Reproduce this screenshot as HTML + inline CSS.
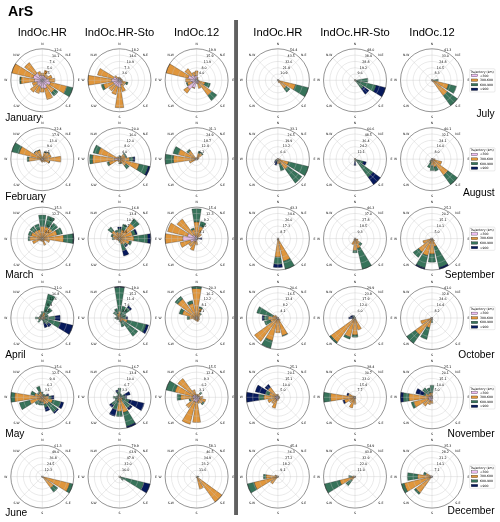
<!DOCTYPE html>
<html><head><meta charset="utf-8"><title>ArS</title>
<style>
html,body{margin:0;padding:0;background:#fff;}
body{width:500px;height:522px;overflow:hidden;}
svg{display:block;}
text{font-family:"Liberation Sans","DejaVu Sans",sans-serif;fill:#000;}
.t text{font-family:"DejaVu Sans","Liberation Sans",sans-serif;font-size:3.3px;}
.d text{font-family:"DejaVu Sans","Liberation Sans",sans-serif;font-size:3.1px;text-anchor:middle;}
.l{font-family:"DejaVu Sans","Liberation Sans",sans-serif;font-size:3.1px;}
.h1{font-size:14.2px;font-weight:bold;}
.h2{font-size:11.2px;}
.m{font-size:10.2px;}
</style></head><body>
<svg width="500" height="522" viewBox="0 0 500 522">
<rect width="500" height="522" fill="#fff"/>
<rect x="234.1" y="20" width="3.9" height="495" fill="#606060"/>
<g><g stroke="#111" stroke-width="0.3" stroke-linejoin="miter"><path fill="#f0c0f4" d="M42.30 80.30L41.56 75.63A4.72 4.72 0 0 1 43.04 75.63Z"/><path fill="#e0963c" d="M41.17 73.14A7.25 7.25 0 0 1 43.43 73.14L43.04 75.63A4.72 4.72 0 0 0 41.56 75.63Z"/><path fill="#f0c0f4" d="M42.30 80.30L43.40 75.71A4.72 4.72 0 0 1 44.77 76.27Z"/><path fill="#e0963c" d="M44.73 70.19A10.40 10.40 0 0 1 47.73 71.44L44.77 76.27A4.72 4.72 0 0 0 43.40 75.71Z"/><path fill="#f0c0f4" d="M42.30 80.30L44.71 76.99A4.09 4.09 0 0 1 45.61 77.89Z"/><path fill="#e0963c" d="M46.37 74.69A6.93 6.93 0 0 1 47.91 76.23L45.61 77.89A4.09 4.09 0 0 0 44.71 76.99Z"/><path fill="#f0c0f4" d="M42.30 80.30L46.33 77.83A4.72 4.72 0 0 1 46.89 79.20Z"/><path fill="#e0963c" d="M50.89 75.03A10.08 10.08 0 0 1 52.10 77.95L46.89 79.20A4.72 4.72 0 0 0 46.33 77.83Z"/><path fill="#f0c0f4" d="M42.30 80.30L48.83 79.27A6.61 6.61 0 0 1 48.83 81.33Z"/><path fill="#e0963c" d="M54.74 78.33A12.60 12.60 0 0 1 54.74 82.27L48.83 81.33A6.61 6.61 0 0 0 48.83 79.27Z"/><path fill="#f0c0f4" d="M42.30 80.30L50.57 82.29A8.51 8.51 0 0 1 49.55 84.74Z"/><path fill="#e0963c" d="M66.80 86.18A25.20 25.20 0 0 1 63.79 93.47L49.55 84.74A8.51 8.51 0 0 0 50.57 82.29Z"/><path fill="#37735a" d="M72.93 87.65A31.50 31.50 0 0 1 69.16 96.76L63.79 93.47A25.20 25.20 0 0 0 66.80 86.18Z"/><path fill="#f0c0f4" d="M42.30 80.30L47.40 84.00A6.30 6.30 0 0 1 46.00 85.40Z"/><path fill="#e0963c" d="M54.79 89.37A15.44 15.44 0 0 1 51.37 92.79L46.00 85.40A6.30 6.30 0 0 0 47.40 84.00Z"/><path fill="#37735a" d="M58.10 91.78A19.53 19.53 0 0 1 53.78 96.10L51.37 92.79A15.44 15.44 0 0 0 54.79 89.37Z"/><path fill="#f0c0f4" d="M42.30 80.30L46.74 87.55A8.51 8.51 0 0 1 44.29 88.57Z"/><path fill="#e0963c" d="M52.67 97.22A19.84 19.84 0 0 1 46.93 99.60L44.29 88.57A8.51 8.51 0 0 0 46.74 87.55Z"/><path fill="#f0c0f4" d="M42.30 80.30L43.53 88.08A7.88 7.88 0 0 1 41.07 88.08Z"/><path fill="#e0963c" d="M44.17 92.12A11.97 11.97 0 0 1 40.43 92.12L41.07 88.08A7.88 7.88 0 0 0 43.53 88.08Z"/><path fill="#f0c0f4" d="M42.30 80.30L40.83 86.43A6.30 6.30 0 0 1 39.01 85.67Z"/><path fill="#e0963c" d="M39.14 93.47A13.54 13.54 0 0 1 35.22 91.85L39.01 85.67A6.30 6.30 0 0 0 40.83 86.43Z"/><path fill="#f0c0f4" d="M42.30 80.30L38.60 85.40A6.30 6.30 0 0 1 37.20 84.00Z"/><path fill="#e0963c" d="M33.60 92.28A14.80 14.80 0 0 1 30.32 89.00L37.20 84.00A6.30 6.30 0 0 0 38.60 85.40Z"/><path fill="#f0c0f4" d="M42.30 80.30L37.47 83.26A5.67 5.67 0 0 1 36.79 81.62Z"/><path fill="#e0963c" d="M33.44 85.73A10.40 10.40 0 0 1 32.19 82.73L36.79 81.62A5.67 5.67 0 0 0 37.47 83.26Z"/><path fill="#f0c0f4" d="M42.30 80.30L34.52 81.53A7.88 7.88 0 0 1 34.52 79.07Z"/><path fill="#e0963c" d="M21.14 83.65A21.42 21.42 0 0 1 21.14 76.95L34.52 79.07A7.88 7.88 0 0 0 34.52 81.53Z"/><path fill="#37735a" d="M19.90 83.85A22.68 22.68 0 0 1 19.90 76.75L21.14 76.95A21.42 21.42 0 0 0 21.14 83.65Z"/><path fill="#f0c0f4" d="M42.30 80.30L33.11 78.09A9.45 9.45 0 0 1 34.24 75.36Z"/><path fill="#e0963c" d="M11.67 72.95A31.50 31.50 0 0 1 15.44 63.84L34.24 75.36A9.45 9.45 0 0 0 33.11 78.09Z"/><path fill="#f0c0f4" d="M42.30 80.30L35.16 75.12A8.82 8.82 0 0 1 37.12 73.16Z"/><path fill="#e0963c" d="M24.46 67.34A22.05 22.05 0 0 1 29.34 62.46L37.12 73.16A8.82 8.82 0 0 0 35.16 75.12Z"/><path fill="#f0c0f4" d="M42.30 80.30L39.50 75.73A5.36 5.36 0 0 1 41.05 75.09Z"/><path fill="#e0963c" d="M37.53 72.51A9.13 9.13 0 0 1 40.17 71.42L41.05 75.09A5.36 5.36 0 0 0 39.50 75.73Z"/></g><g fill="none" stroke="#c2c2c2" stroke-width="0.35"><circle cx="42.3" cy="80.3" r="6.30"/><circle cx="42.3" cy="80.3" r="12.60"/><circle cx="42.3" cy="80.3" r="18.90"/><circle cx="42.3" cy="80.3" r="25.20"/><path d="M42.3 80.3L42.30 48.80"/><path d="M42.3 80.3L64.57 58.03"/><path d="M42.3 80.3L73.80 80.30"/><path d="M42.3 80.3L64.57 102.57"/><path d="M42.3 80.3L42.30 111.80"/><path d="M42.3 80.3L20.03 102.57"/><path d="M42.3 80.3L10.80 80.30"/><path d="M42.3 80.3L20.03 58.03"/></g><circle cx="42.3" cy="80.3" r="31.5" fill="none" stroke="#2a2a2a" stroke-width="0.5"/><g class="t"><text x="54.35" y="51.10">12.6</text><text x="51.94" y="56.92">10.1</text><text x="49.53" y="62.74">7.6</text><text x="47.12" y="68.56">5.0</text><text x="44.71" y="74.38">2.5</text></g><g class="d"><text x="42.30" y="44.91">N</text><text x="68.14" y="55.61">N-E</text><text x="78.84" y="81.45">E</text><text x="68.14" y="107.29">S-E</text><text x="42.30" y="117.99">S</text><text x="16.46" y="107.29">S-W</text><text x="5.76" y="81.45">W</text><text x="16.46" y="55.61">N-W</text></g></g>
<g><g stroke="#111" stroke-width="0.3" stroke-linejoin="miter"><path fill="#f0c0f4" d="M119.50 80.30L119.25 78.74A1.58 1.58 0 0 1 119.75 78.74Z"/><path fill="#e0963c" d="M119.01 77.19A3.15 3.15 0 0 1 119.99 77.19L119.75 78.74A1.58 1.58 0 0 0 119.25 78.74Z"/><path fill="#f0c0f4" d="M119.50 80.30L119.79 79.07A1.26 1.26 0 0 1 120.16 79.23Z"/><path fill="#e0963c" d="M120.09 77.85A2.52 2.52 0 0 1 120.82 78.15L120.16 79.23A1.26 1.26 0 0 0 119.79 79.07Z"/><path fill="#f0c0f4" d="M119.50 80.30L120.06 79.54A0.94 0.94 0 0 1 120.26 79.74Z"/><path fill="#e0963c" d="M120.80 78.52A2.21 2.21 0 0 1 121.28 79.00L120.26 79.74A0.94 0.94 0 0 0 120.06 79.54Z"/><path fill="#f0c0f4" d="M119.50 80.30L120.31 79.81A0.94 0.94 0 0 1 120.42 80.08Z"/><path fill="#e0963c" d="M121.65 78.98A2.52 2.52 0 0 1 121.95 79.71L120.42 80.08A0.94 0.94 0 0 0 120.31 79.81Z"/><path fill="#f0c0f4" d="M119.50 80.30L121.06 80.05A1.58 1.58 0 0 1 121.06 80.55Z"/><path fill="#e0963c" d="M122.61 79.81A3.15 3.15 0 0 1 122.61 80.79L121.06 80.55A1.58 1.58 0 0 0 121.06 80.05Z"/><path fill="#f0c0f4" d="M119.50 80.30L121.95 80.89A2.52 2.52 0 0 1 121.65 81.62Z"/><path fill="#e0963c" d="M126.24 81.92A6.93 6.93 0 0 1 125.41 83.92L121.65 81.62A2.52 2.52 0 0 0 121.95 80.89Z"/><path fill="#37735a" d="M128.08 82.36A8.82 8.82 0 0 1 127.02 84.91L125.41 83.92A6.93 6.93 0 0 0 126.24 81.92Z"/><path fill="#f0c0f4" d="M119.50 80.30L122.05 82.15A3.15 3.15 0 0 1 121.35 82.85Z"/><path fill="#e0963c" d="M124.85 84.19A6.61 6.61 0 0 1 123.39 85.65L121.35 82.85A3.15 3.15 0 0 0 122.05 82.15Z"/><path fill="#f0c0f4" d="M119.50 80.30L121.97 84.33A4.72 4.72 0 0 1 120.60 84.89Z"/><path fill="#e0963c" d="M125.59 90.24A11.65 11.65 0 0 1 122.22 91.63L120.60 84.89A4.72 4.72 0 0 0 121.97 84.33Z"/><path fill="#f0c0f4" d="M119.50 80.30L120.58 87.14A6.93 6.93 0 0 1 118.42 87.14Z"/><path fill="#e0963c" d="M123.81 107.52A27.56 27.56 0 0 1 115.19 107.52L118.42 87.14A6.93 6.93 0 0 0 120.58 87.14Z"/><path fill="#f0c0f4" d="M119.50 80.30L118.03 86.43A6.30 6.30 0 0 1 116.21 85.67Z"/><path fill="#e0963c" d="M116.04 94.70A14.80 14.80 0 0 1 111.76 92.92L116.21 85.67A6.30 6.30 0 0 0 118.03 86.43Z"/><path fill="#f0c0f4" d="M119.50 80.30L115.80 85.40A6.30 6.30 0 0 1 114.40 84.00Z"/><path fill="#e0963c" d="M111.72 91.00A13.23 13.23 0 0 1 108.80 88.08L114.40 84.00A6.30 6.30 0 0 0 115.80 85.40Z"/><path fill="#f0c0f4" d="M119.50 80.30L114.13 83.59A6.30 6.30 0 0 1 113.37 81.77Z"/><path fill="#e0963c" d="M105.27 89.02A16.70 16.70 0 0 1 103.27 84.20L113.37 81.77A6.30 6.30 0 0 0 114.13 83.59Z"/><path fill="#37735a" d="M103.39 90.18A18.90 18.90 0 0 1 101.12 84.71L103.27 84.20A16.70 16.70 0 0 0 105.27 89.02Z"/><path fill="#f0c0f4" d="M119.50 80.30L111.72 81.53A7.88 7.88 0 0 1 111.72 79.07Z"/><path fill="#e0963c" d="M88.39 85.23A31.50 31.50 0 0 1 88.39 75.37L111.72 79.07A7.88 7.88 0 0 0 111.72 81.53Z"/><path fill="#f0c0f4" d="M119.50 80.30L113.37 78.83A6.30 6.30 0 0 1 114.13 77.01Z"/><path fill="#e0963c" d="M97.45 75.01A22.68 22.68 0 0 1 100.16 68.45L114.13 77.01A6.30 6.30 0 0 0 113.37 78.83Z"/><path fill="#f0c0f4" d="M119.50 80.30L116.95 78.45A3.15 3.15 0 0 1 117.65 77.75Z"/><path fill="#e0963c" d="M114.66 76.78A5.99 5.99 0 0 1 115.98 75.46L117.65 77.75A3.15 3.15 0 0 0 116.95 78.45Z"/><path fill="#f0c0f4" d="M119.50 80.30L118.68 78.96A1.58 1.58 0 0 1 119.13 78.77Z"/><path fill="#e0963c" d="M117.85 77.61A3.15 3.15 0 0 1 118.76 77.24L119.13 78.77A1.58 1.58 0 0 0 118.68 78.96Z"/></g><g fill="none" stroke="#c2c2c2" stroke-width="0.35"><circle cx="119.5" cy="80.3" r="6.30"/><circle cx="119.5" cy="80.3" r="12.60"/><circle cx="119.5" cy="80.3" r="18.90"/><circle cx="119.5" cy="80.3" r="25.20"/><path d="M119.5 80.3L119.50 48.80"/><path d="M119.5 80.3L141.77 58.03"/><path d="M119.5 80.3L151.00 80.30"/><path d="M119.5 80.3L141.77 102.57"/><path d="M119.5 80.3L119.50 111.80"/><path d="M119.5 80.3L97.23 102.57"/><path d="M119.5 80.3L88.00 80.30"/><path d="M119.5 80.3L97.23 58.03"/></g><circle cx="119.5" cy="80.3" r="31.5" fill="none" stroke="#2a2a2a" stroke-width="0.5"/><g class="t"><text x="131.55" y="51.10">18.2</text><text x="129.14" y="56.92">14.6</text><text x="126.73" y="62.74">10.9</text><text x="124.32" y="68.56">7.3</text><text x="121.91" y="74.38">3.6</text></g><g class="d"><text x="119.50" y="44.91">N</text><text x="145.34" y="55.61">N-E</text><text x="156.04" y="81.45">E</text><text x="145.34" y="107.29">S-E</text><text x="119.50" y="117.99">S</text><text x="93.66" y="107.29">S-W</text><text x="82.96" y="81.45">W</text><text x="93.66" y="55.61">N-W</text></g></g>
<g><g stroke="#111" stroke-width="0.3" stroke-linejoin="miter"><path fill="#f0c0f4" d="M196.60 80.30L195.86 75.63A4.72 4.72 0 0 1 197.34 75.63Z"/><path fill="#e0963c" d="M195.12 70.97A9.45 9.45 0 0 1 198.08 70.97L197.34 75.63A4.72 4.72 0 0 0 195.86 75.63Z"/><path fill="#f0c0f4" d="M196.60 80.30L196.97 78.77A1.58 1.58 0 0 1 197.42 78.96Z"/><path fill="#e0963c" d="M197.34 77.24A3.15 3.15 0 0 1 198.25 77.61L197.42 78.96A1.58 1.58 0 0 0 196.97 78.77Z"/><path fill="#f0c0f4" d="M196.60 80.30L196.97 79.79A0.63 0.63 0 0 1 197.11 79.93Z"/><path fill="#e0963c" d="M197.53 79.03A1.58 1.58 0 0 1 197.87 79.37L197.11 79.93A0.63 0.63 0 0 0 196.97 79.79Z"/><path fill="#f0c0f4" d="M196.60 80.30L197.14 79.97A0.63 0.63 0 0 1 197.21 80.15Z"/><path fill="#e0963c" d="M197.94 79.48A1.58 1.58 0 0 1 198.13 79.93L197.21 80.15A0.63 0.63 0 0 0 197.14 79.97Z"/><path fill="#f0c0f4" d="M196.60 80.30L197.53 80.15A0.94 0.94 0 0 1 197.53 80.45Z"/><path fill="#e0963c" d="M199.09 79.91A2.52 2.52 0 0 1 199.09 80.69L197.53 80.45A0.94 0.94 0 0 0 197.53 80.15Z"/><path fill="#f0c0f4" d="M196.60 80.30L198.13 80.67A1.58 1.58 0 0 1 197.94 81.12Z"/><path fill="#e0963c" d="M205.18 82.36A8.82 8.82 0 0 1 204.12 84.91L197.94 81.12A1.58 1.58 0 0 0 198.13 80.67Z"/><path fill="#37735a" d="M210.38 83.61A14.18 14.18 0 0 1 208.69 87.71L204.12 84.91A8.82 8.82 0 0 0 205.18 82.36Z"/><path fill="#f0c0f4" d="M196.60 80.30L198.64 81.78A2.52 2.52 0 0 1 198.08 82.34Z"/><path fill="#e0963c" d="M211.89 91.41A18.90 18.90 0 0 1 207.71 95.59L198.08 82.34A2.52 2.52 0 0 0 198.64 81.78Z"/><path fill="#37735a" d="M216.99 95.11A25.20 25.20 0 0 1 211.41 100.69L207.71 95.59A18.90 18.90 0 0 0 211.89 91.41Z"/><path fill="#f0c0f4" d="M196.60 80.30L198.25 82.99A3.15 3.15 0 0 1 197.34 83.36Z"/><path fill="#e0963c" d="M201.04 87.55A8.51 8.51 0 0 1 198.59 88.57L197.34 83.36A3.15 3.15 0 0 0 198.25 82.99Z"/><path fill="#f0c0f4" d="M196.60 80.30L196.99 82.79A2.52 2.52 0 0 1 196.21 82.79Z"/><path fill="#e0963c" d="M197.09 83.41A3.15 3.15 0 0 1 196.11 83.41L196.21 82.79A2.52 2.52 0 0 0 196.99 82.79Z"/><path fill="#f0c0f4" d="M196.60 80.30L194.76 87.96A7.88 7.88 0 0 1 192.49 87.01Z"/><path fill="#e0963c" d="M194.61 88.57A8.51 8.51 0 0 1 192.16 87.55L192.49 87.01A7.88 7.88 0 0 0 194.76 87.96Z"/><path fill="#f0c0f4" d="M196.60 80.30L189.93 89.47A11.34 11.34 0 0 1 187.43 86.97Z"/><path fill="#e0963c" d="M187.16 93.30A16.07 16.07 0 0 1 183.60 89.74L187.43 86.97A11.34 11.34 0 0 0 189.93 89.47Z"/><path fill="#f0c0f4" d="M196.60 80.30L192.57 82.77A4.72 4.72 0 0 1 192.01 81.40Z"/><path fill="#e0963c" d="M188.27 85.40A9.77 9.77 0 0 1 187.10 82.58L192.01 81.40A4.72 4.72 0 0 0 192.57 82.77Z"/><path fill="#37735a" d="M187.47 85.90A10.71 10.71 0 0 1 186.19 82.80L187.10 82.58A9.77 9.77 0 0 0 188.27 85.40Z"/><path fill="#f0c0f4" d="M196.60 80.30L190.38 81.29A6.30 6.30 0 0 1 190.38 79.31Z"/><path fill="#e0963c" d="M185.71 82.02A11.02 11.02 0 0 1 185.71 78.58L190.38 79.31A6.30 6.30 0 0 0 190.38 81.29Z"/><path fill="#f0c0f4" d="M196.60 80.30L188.02 78.24A8.82 8.82 0 0 1 189.08 75.69Z"/><path fill="#e0963c" d="M165.97 72.95A31.50 31.50 0 0 1 169.74 63.84L189.08 75.69A8.82 8.82 0 0 0 188.02 78.24Z"/><path fill="#f0c0f4" d="M196.60 80.30L191.50 76.60A6.30 6.30 0 0 1 192.90 75.20Z"/><path fill="#e0963c" d="M184.88 71.78A14.49 14.49 0 0 1 188.08 68.58L192.90 75.20A6.30 6.30 0 0 0 191.50 76.60Z"/><path fill="#f0c0f4" d="M196.60 80.30L194.13 76.27A4.72 4.72 0 0 1 195.50 75.71Z"/><path fill="#e0963c" d="M192.16 73.05A8.51 8.51 0 0 1 194.61 72.03L195.50 75.71A4.72 4.72 0 0 0 194.13 76.27Z"/></g><g fill="none" stroke="#c2c2c2" stroke-width="0.35"><circle cx="196.6" cy="80.3" r="6.30"/><circle cx="196.6" cy="80.3" r="12.60"/><circle cx="196.6" cy="80.3" r="18.90"/><circle cx="196.6" cy="80.3" r="25.20"/><path d="M196.6 80.3L196.60 48.80"/><path d="M196.6 80.3L218.87 58.03"/><path d="M196.6 80.3L228.10 80.30"/><path d="M196.6 80.3L218.87 102.57"/><path d="M196.6 80.3L196.60 111.80"/><path d="M196.6 80.3L174.33 102.57"/><path d="M196.6 80.3L165.10 80.30"/><path d="M196.6 80.3L174.33 58.03"/></g><circle cx="196.6" cy="80.3" r="31.5" fill="none" stroke="#2a2a2a" stroke-width="0.5"/><g class="t"><text x="208.65" y="51.10">19.9</text><text x="206.24" y="56.92">15.9</text><text x="203.83" y="62.74">11.9</text><text x="201.42" y="68.56">8.0</text><text x="199.01" y="74.38">4.0</text></g><g class="d"><text x="196.60" y="44.91">N</text><text x="222.44" y="55.61">N-E</text><text x="233.14" y="81.45">E</text><text x="222.44" y="107.29">S-E</text><text x="196.60" y="117.99">S</text><text x="170.76" y="107.29">S-W</text><text x="160.06" y="81.45">W</text><text x="170.76" y="55.61">N-W</text></g></g>
<g><g stroke="#111" stroke-width="0.3" stroke-linejoin="miter"><path fill="#e0963c" d="M277.90 80.30L277.80 79.68A0.63 0.63 0 0 1 278.00 79.68Z"/><path fill="#e0963c" d="M277.90 80.30L278.05 79.69A0.63 0.63 0 0 1 278.23 79.76Z"/><path fill="#e0963c" d="M277.90 80.30L278.27 79.79A0.63 0.63 0 0 1 278.41 79.93Z"/><path fill="#e0963c" d="M277.90 80.30L278.44 79.97A0.63 0.63 0 0 1 278.51 80.15Z"/><path fill="#e0963c" d="M277.90 80.30L279.46 80.05A1.58 1.58 0 0 1 279.46 80.55Z"/><path fill="#e0963c" d="M277.90 80.30L295.67 84.57A18.27 18.27 0 0 1 293.48 89.85Z"/><path fill="#37735a" d="M308.53 87.65A31.50 31.50 0 0 1 304.76 96.76L293.48 89.85A18.27 18.27 0 0 0 295.67 84.57Z"/><path fill="#e0963c" d="M277.90 80.30L286.31 86.41A10.40 10.40 0 0 1 284.01 88.71Z"/><path fill="#37735a" d="M289.88 89.00A14.80 14.80 0 0 1 286.60 92.28L284.01 88.71A10.40 10.40 0 0 0 286.31 86.41Z"/><path fill="#e0963c" d="M277.90 80.30L279.22 82.45A2.52 2.52 0 0 1 278.49 82.75Z"/><path fill="#e0963c" d="M277.90 80.30L278.00 80.92A0.63 0.63 0 0 1 277.80 80.92Z"/><path fill="#e0963c" d="M277.90 80.30L277.75 80.91A0.63 0.63 0 0 1 277.57 80.84Z"/><path fill="#e0963c" d="M277.90 80.30L277.53 80.81A0.63 0.63 0 0 1 277.39 80.67Z"/><path fill="#e0963c" d="M277.90 80.30L277.36 80.63A0.63 0.63 0 0 1 277.29 80.45Z"/><path fill="#e0963c" d="M277.90 80.30L277.28 80.40A0.63 0.63 0 0 1 277.28 80.20Z"/><path fill="#e0963c" d="M277.90 80.30L277.29 80.15A0.63 0.63 0 0 1 277.36 79.97Z"/><path fill="#e0963c" d="M277.90 80.30L277.39 79.93A0.63 0.63 0 0 1 277.53 79.79Z"/><path fill="#e0963c" d="M277.90 80.30L277.57 79.76A0.63 0.63 0 0 1 277.75 79.69Z"/></g><g fill="none" stroke="#c2c2c2" stroke-width="0.35"><circle cx="277.9" cy="80.3" r="6.30"/><circle cx="277.9" cy="80.3" r="12.60"/><circle cx="277.9" cy="80.3" r="18.90"/><circle cx="277.9" cy="80.3" r="25.20"/><path d="M277.9 80.3L277.90 48.80"/><path d="M277.9 80.3L300.17 58.03"/><path d="M277.9 80.3L309.40 80.30"/><path d="M277.9 80.3L300.17 102.57"/><path d="M277.9 80.3L277.90 111.80"/><path d="M277.9 80.3L255.63 102.57"/><path d="M277.9 80.3L246.40 80.30"/><path d="M277.9 80.3L255.63 58.03"/></g><circle cx="277.9" cy="80.3" r="31.5" fill="none" stroke="#2a2a2a" stroke-width="0.5"/><g class="t"><text x="289.95" y="51.10">54.4</text><text x="287.54" y="56.92">43.5</text><text x="285.13" y="62.74">32.6</text><text x="282.72" y="68.56">21.8</text><text x="280.31" y="74.38">10.9</text></g><g class="d"><text x="277.90" y="44.91">N</text><text x="303.74" y="55.61">N-E</text><text x="314.44" y="81.45">E</text><text x="303.74" y="107.29">S-E</text><text x="277.90" y="117.99">S</text><text x="252.06" y="107.29">S-W</text><text x="241.36" y="81.45">W</text><text x="252.06" y="55.61">N-W</text></g></g>
<g><g stroke="#111" stroke-width="0.3" stroke-linejoin="miter"><path fill="#e0963c" d="M355.00 80.30L354.90 79.68A0.63 0.63 0 0 1 355.10 79.68Z"/><path fill="#e0963c" d="M355.00 80.30L355.15 79.69A0.63 0.63 0 0 1 355.33 79.76Z"/><path fill="#e0963c" d="M355.00 80.30L355.37 79.79A0.63 0.63 0 0 1 355.51 79.93Z"/><path fill="#e0963c" d="M355.00 80.30L355.54 79.97A0.63 0.63 0 0 1 355.61 80.15Z"/><path fill="#e0963c" d="M355.00 80.30L355.62 80.20A0.63 0.63 0 0 1 355.62 80.40Z"/><path fill="#37735a" d="M367.76 78.28A12.91 12.91 0 0 1 367.76 82.32L355.62 80.40A0.63 0.63 0 0 0 355.62 80.20Z"/><path fill="#e0963c" d="M355.00 80.30L355.61 80.45A0.63 0.63 0 0 1 355.54 80.63Z"/><path fill="#37735a" d="M376.13 85.37A21.73 21.73 0 0 1 373.53 91.66L355.54 80.63A0.63 0.63 0 0 0 355.61 80.45Z"/><path fill="#06195c" d="M385.63 87.65A31.50 31.50 0 0 1 381.86 96.76L373.53 91.66A21.73 21.73 0 0 0 376.13 85.37Z"/><path fill="#e0963c" d="M355.00 80.30L355.51 80.67A0.63 0.63 0 0 1 355.37 80.81Z"/><path fill="#37735a" d="M363.41 86.41A10.40 10.40 0 0 1 361.11 88.71L355.37 80.81A0.63 0.63 0 0 0 355.51 80.67Z"/><path fill="#06195c" d="M369.02 90.48A17.33 17.33 0 0 1 365.18 94.32L361.11 88.71A10.40 10.40 0 0 0 363.41 86.41Z"/><path fill="#e0963c" d="M355.00 80.30L355.66 81.37A1.26 1.26 0 0 1 355.29 81.53Z"/><path fill="#e0963c" d="M355.00 80.30L355.10 80.92A0.63 0.63 0 0 1 354.90 80.92Z"/><path fill="#e0963c" d="M355.00 80.30L354.85 80.91A0.63 0.63 0 0 1 354.67 80.84Z"/><path fill="#e0963c" d="M355.00 80.30L354.63 80.81A0.63 0.63 0 0 1 354.49 80.67Z"/><path fill="#e0963c" d="M355.00 80.30L354.46 80.63A0.63 0.63 0 0 1 354.39 80.45Z"/><path fill="#e0963c" d="M355.00 80.30L354.38 80.40A0.63 0.63 0 0 1 354.38 80.20Z"/><path fill="#e0963c" d="M355.00 80.30L354.39 80.15A0.63 0.63 0 0 1 354.46 79.97Z"/><path fill="#e0963c" d="M355.00 80.30L354.49 79.93A0.63 0.63 0 0 1 354.63 79.79Z"/><path fill="#e0963c" d="M355.00 80.30L354.67 79.76A0.63 0.63 0 0 1 354.85 79.69Z"/></g><g fill="none" stroke="#c2c2c2" stroke-width="0.35"><circle cx="355.0" cy="80.3" r="6.30"/><circle cx="355.0" cy="80.3" r="12.60"/><circle cx="355.0" cy="80.3" r="18.90"/><circle cx="355.0" cy="80.3" r="25.20"/><path d="M355.0 80.3L355.00 48.80"/><path d="M355.0 80.3L377.27 58.03"/><path d="M355.0 80.3L386.50 80.30"/><path d="M355.0 80.3L377.27 102.57"/><path d="M355.0 80.3L355.00 111.80"/><path d="M355.0 80.3L332.73 102.57"/><path d="M355.0 80.3L323.50 80.30"/><path d="M355.0 80.3L332.73 58.03"/></g><circle cx="355.0" cy="80.3" r="31.5" fill="none" stroke="#2a2a2a" stroke-width="0.5"/><g class="t"><text x="367.05" y="51.10">48.0</text><text x="364.64" y="56.92">38.4</text><text x="362.23" y="62.74">28.8</text><text x="359.82" y="68.56">19.2</text><text x="357.41" y="74.38">9.6</text></g><g class="d"><text x="355.00" y="44.91">N</text><text x="380.84" y="55.61">N-E</text><text x="391.54" y="81.45">E</text><text x="380.84" y="107.29">S-E</text><text x="355.00" y="117.99">S</text><text x="329.16" y="107.29">S-W</text><text x="318.46" y="81.45">W</text><text x="329.16" y="55.61">N-W</text></g></g>
<g><g stroke="#111" stroke-width="0.3" stroke-linejoin="miter"><path fill="#e0963c" d="M432.00 80.30L431.90 79.68A0.63 0.63 0 0 1 432.10 79.68Z"/><path fill="#e0963c" d="M432.00 80.30L432.15 79.69A0.63 0.63 0 0 1 432.33 79.76Z"/><path fill="#e0963c" d="M432.00 80.30L432.37 79.79A0.63 0.63 0 0 1 432.51 79.93Z"/><path fill="#e0963c" d="M432.00 80.30L433.07 79.64A1.26 1.26 0 0 1 433.23 80.01Z"/><path fill="#e0963c" d="M432.00 80.30L433.56 80.05A1.58 1.58 0 0 1 433.56 80.55Z"/><path fill="#37735a" d="M438.22 79.31A6.30 6.30 0 0 1 438.22 81.29L433.56 80.55A1.58 1.58 0 0 0 433.56 80.05Z"/><path fill="#e0963c" d="M432.00 80.30L448.54 84.27A17.01 17.01 0 0 1 446.50 89.19Z"/><path fill="#37735a" d="M456.50 86.18A25.20 25.20 0 0 1 453.49 93.47L446.50 89.19A17.01 17.01 0 0 0 448.54 84.27Z"/><path fill="#e0963c" d="M432.00 80.30L447.29 91.41A18.90 18.90 0 0 1 443.11 95.59Z"/><path fill="#37735a" d="M457.48 98.82A31.50 31.50 0 0 1 450.52 105.78L443.11 95.59A18.90 18.90 0 0 0 447.29 91.41Z"/><path fill="#e0963c" d="M432.00 80.30L432.82 81.64A1.58 1.58 0 0 1 432.37 81.83Z"/><path fill="#e0963c" d="M432.00 80.30L432.10 80.92A0.63 0.63 0 0 1 431.90 80.92Z"/><path fill="#e0963c" d="M432.00 80.30L431.85 80.91A0.63 0.63 0 0 1 431.67 80.84Z"/><path fill="#e0963c" d="M432.00 80.30L431.63 80.81A0.63 0.63 0 0 1 431.49 80.67Z"/><path fill="#e0963c" d="M432.00 80.30L431.46 80.63A0.63 0.63 0 0 1 431.39 80.45Z"/><path fill="#e0963c" d="M432.00 80.30L431.38 80.40A0.63 0.63 0 0 1 431.38 80.20Z"/><path fill="#e0963c" d="M432.00 80.30L431.39 80.15A0.63 0.63 0 0 1 431.46 79.97Z"/><path fill="#e0963c" d="M432.00 80.30L431.49 79.93A0.63 0.63 0 0 1 431.63 79.79Z"/><path fill="#e0963c" d="M432.00 80.30L431.67 79.76A0.63 0.63 0 0 1 431.85 79.69Z"/></g><g fill="none" stroke="#c2c2c2" stroke-width="0.35"><circle cx="432.0" cy="80.3" r="6.30"/><circle cx="432.0" cy="80.3" r="12.60"/><circle cx="432.0" cy="80.3" r="18.90"/><circle cx="432.0" cy="80.3" r="25.20"/><path d="M432.0 80.3L432.00 48.80"/><path d="M432.0 80.3L454.27 58.03"/><path d="M432.0 80.3L463.50 80.30"/><path d="M432.0 80.3L454.27 102.57"/><path d="M432.0 80.3L432.00 111.80"/><path d="M432.0 80.3L409.73 102.57"/><path d="M432.0 80.3L400.50 80.30"/><path d="M432.0 80.3L409.73 58.03"/></g><circle cx="432.0" cy="80.3" r="31.5" fill="none" stroke="#2a2a2a" stroke-width="0.5"/><g class="t"><text x="444.05" y="51.10">41.3</text><text x="441.64" y="56.92">33.0</text><text x="439.23" y="62.74">24.8</text><text x="436.82" y="68.56">16.5</text><text x="434.41" y="74.38">8.3</text></g><g class="d"><text x="432.00" y="44.91">N</text><text x="457.84" y="55.61">N-E</text><text x="468.54" y="81.45">E</text><text x="457.84" y="107.29">S-E</text><text x="432.00" y="117.99">S</text><text x="406.16" y="107.29">S-W</text><text x="395.46" y="81.45">W</text><text x="406.16" y="55.61">N-W</text></g></g>
<g><g stroke="#111" stroke-width="0.3" stroke-linejoin="miter"><path fill="#f0c0f4" d="M42.30 159.20L42.20 158.58A0.63 0.63 0 0 1 42.40 158.58Z"/><path fill="#e0963c" d="M41.91 156.71A2.52 2.52 0 0 1 42.69 156.71L42.40 158.58A0.63 0.63 0 0 0 42.20 158.58Z"/><path fill="#f0c0f4" d="M42.30 159.20L42.45 158.59A0.63 0.63 0 0 1 42.63 158.66Z"/><path fill="#e0963c" d="M43.99 152.16A7.25 7.25 0 0 1 46.09 153.02L42.63 158.66A0.63 0.63 0 0 0 42.45 158.59Z"/><path fill="#37735a" d="M44.14 151.54A7.88 7.88 0 0 1 46.41 152.49L46.09 153.02A7.25 7.25 0 0 0 43.99 152.16Z"/><path fill="#f0c0f4" d="M42.30 159.20L42.67 158.69A0.63 0.63 0 0 1 42.81 158.83Z"/><path fill="#e0963c" d="M47.30 152.32A8.51 8.51 0 0 1 49.18 154.20L42.81 158.83A0.63 0.63 0 0 0 42.67 158.69Z"/><path fill="#37735a" d="M47.67 151.81A9.13 9.13 0 0 1 49.69 153.83L49.18 154.20A8.51 8.51 0 0 0 47.30 152.32Z"/><path fill="#f0c0f4" d="M42.30 159.20L42.84 158.87A0.63 0.63 0 0 1 42.91 159.05Z"/><path fill="#e0963c" d="M50.09 154.43A9.13 9.13 0 0 1 51.18 157.07L42.91 159.05A0.63 0.63 0 0 0 42.84 158.87Z"/><path fill="#f0c0f4" d="M42.30 159.20L43.23 159.05A0.94 0.94 0 0 1 43.23 159.35Z"/><path fill="#e0963c" d="M60.66 156.29A18.58 18.58 0 0 1 60.66 162.11L43.23 159.35A0.94 0.94 0 0 0 43.23 159.05Z"/><path fill="#f0c0f4" d="M42.30 159.20L42.91 159.35A0.63 0.63 0 0 1 42.84 159.53Z"/><path fill="#e0963c" d="M49.65 160.96A7.56 7.56 0 0 1 48.75 163.15L42.84 159.53A0.63 0.63 0 0 0 42.91 159.35Z"/><path fill="#37735a" d="M49.96 161.04A7.88 7.88 0 0 1 49.01 163.31L48.75 163.15A7.56 7.56 0 0 0 49.65 160.96Z"/><path fill="#f0c0f4" d="M42.30 159.20L42.81 159.57A0.63 0.63 0 0 1 42.67 159.71Z"/><path fill="#e0963c" d="M45.36 161.42A3.78 3.78 0 0 1 44.52 162.26L42.67 159.71A0.63 0.63 0 0 0 42.81 159.57Z"/><path fill="#f0c0f4" d="M42.30 159.20L42.63 159.74A0.63 0.63 0 0 1 42.45 159.81Z"/><path fill="#e0963c" d="M43.62 161.35A2.52 2.52 0 0 1 42.89 161.65L42.45 159.81A0.63 0.63 0 0 0 42.63 159.74Z"/><path fill="#f0c0f4" d="M42.30 159.20L42.40 159.82A0.63 0.63 0 0 1 42.20 159.82Z"/><path fill="#e0963c" d="M42.79 162.31A3.15 3.15 0 0 1 41.81 162.31L42.20 159.82A0.63 0.63 0 0 0 42.40 159.82Z"/><path fill="#f0c0f4" d="M42.30 159.20L42.15 159.81A0.63 0.63 0 0 1 41.97 159.74Z"/><path fill="#e0963c" d="M41.71 161.65A2.52 2.52 0 0 1 40.98 161.35L41.97 159.74A0.63 0.63 0 0 0 42.15 159.81Z"/><path fill="#f0c0f4" d="M42.30 159.20L41.93 159.71A0.63 0.63 0 0 1 41.79 159.57Z"/><path fill="#e0963c" d="M41.37 160.47A1.58 1.58 0 0 1 41.03 160.13L41.79 159.57A0.63 0.63 0 0 0 41.93 159.71Z"/><path fill="#f0c0f4" d="M42.30 159.20L41.76 159.53A0.63 0.63 0 0 1 41.69 159.35Z"/><path fill="#e0963c" d="M40.15 160.52A2.52 2.52 0 0 1 39.85 159.79L41.69 159.35A0.63 0.63 0 0 0 41.76 159.53Z"/><path fill="#f0c0f4" d="M42.30 159.20L41.06 159.40A1.26 1.26 0 0 1 41.06 159.00Z"/><path fill="#e0963c" d="M28.92 161.32A13.54 13.54 0 0 1 28.92 157.08L41.06 159.00A1.26 1.26 0 0 0 41.06 159.40Z"/><path fill="#37735a" d="M27.37 161.57A15.12 15.12 0 0 1 27.37 156.83L28.92 157.08A13.54 13.54 0 0 0 28.92 161.32Z"/><path fill="#f0c0f4" d="M42.30 159.20L41.07 158.91A1.26 1.26 0 0 1 41.23 158.54Z"/><path fill="#e0963c" d="M19.02 153.61A23.94 23.94 0 0 1 21.89 146.69L41.23 158.54A1.26 1.26 0 0 0 41.07 158.91Z"/><path fill="#37735a" d="M11.67 151.85A31.50 31.50 0 0 1 15.44 142.74L21.89 146.69A23.94 23.94 0 0 0 19.02 153.61Z"/><path fill="#f0c0f4" d="M42.30 159.20L41.54 158.64A0.94 0.94 0 0 1 41.74 158.44Z"/><path fill="#e0963c" d="M34.15 153.28A10.08 10.08 0 0 1 36.38 151.05L41.74 158.44A0.94 0.94 0 0 0 41.54 158.64Z"/><path fill="#37735a" d="M33.89 153.09A10.40 10.40 0 0 1 36.19 150.79L36.38 151.05A10.08 10.08 0 0 0 34.15 153.28Z"/><path fill="#f0c0f4" d="M42.30 159.20L41.81 158.39A0.94 0.94 0 0 1 42.08 158.28Z"/><path fill="#e0963c" d="M37.36 151.14A9.45 9.45 0 0 1 40.09 150.01L42.08 158.28A0.94 0.94 0 0 0 41.81 158.39Z"/><path fill="#37735a" d="M37.20 150.87A9.77 9.77 0 0 1 40.02 149.70L40.09 150.01A9.45 9.45 0 0 0 37.36 151.14Z"/></g><g fill="none" stroke="#c2c2c2" stroke-width="0.35"><circle cx="42.3" cy="159.2" r="6.30"/><circle cx="42.3" cy="159.2" r="12.60"/><circle cx="42.3" cy="159.2" r="18.90"/><circle cx="42.3" cy="159.2" r="25.20"/><path d="M42.3 159.2L42.30 127.70"/><path d="M42.3 159.2L64.57 136.93"/><path d="M42.3 159.2L73.80 159.20"/><path d="M42.3 159.2L64.57 181.47"/><path d="M42.3 159.2L42.30 190.70"/><path d="M42.3 159.2L20.03 181.47"/><path d="M42.3 159.2L10.80 159.20"/><path d="M42.3 159.2L20.03 136.93"/></g><circle cx="42.3" cy="159.2" r="31.5" fill="none" stroke="#2a2a2a" stroke-width="0.5"/><g class="t"><text x="54.35" y="130.00">22.4</text><text x="51.94" y="135.82">17.9</text><text x="49.53" y="141.64">13.4</text><text x="47.12" y="147.46">9.0</text><text x="44.71" y="153.28">4.5</text></g><g class="d"><text x="42.30" y="123.81">N</text><text x="68.14" y="134.51">N-E</text><text x="78.84" y="160.35">E</text><text x="68.14" y="186.19">S-E</text><text x="42.30" y="196.89">S</text><text x="16.46" y="186.19">S-W</text><text x="5.76" y="160.35">W</text><text x="16.46" y="134.51">N-W</text></g></g>
<g><g stroke="#111" stroke-width="0.3" stroke-linejoin="miter"><path fill="#e0963c" d="M119.50 159.20L119.20 157.33A1.89 1.89 0 0 1 119.80 157.33Z"/><path fill="#37735a" d="M118.91 155.47A3.78 3.78 0 0 1 120.09 155.47L119.80 157.33A1.89 1.89 0 0 0 119.20 157.33Z"/><path fill="#e0963c" d="M119.50 159.20L120.09 156.75A2.52 2.52 0 0 1 120.82 157.05Z"/><path fill="#37735a" d="M120.24 156.14A3.15 3.15 0 0 1 121.15 156.51L120.82 157.05A2.52 2.52 0 0 0 120.09 156.75Z"/><path fill="#e0963c" d="M119.50 159.20L123.20 154.10A6.30 6.30 0 0 1 124.60 155.50Z"/><path fill="#37735a" d="M123.94 153.08A7.56 7.56 0 0 1 125.62 154.76L124.60 155.50A6.30 6.30 0 0 0 123.20 154.10Z"/><path fill="#e0963c" d="M119.50 159.20L124.87 155.91A6.30 6.30 0 0 1 125.63 157.73Z"/><path fill="#37735a" d="M125.95 155.25A7.56 7.56 0 0 1 126.85 157.44L125.63 157.73A6.30 6.30 0 0 0 124.87 155.91Z"/><path fill="#e0963c" d="M119.50 159.20L129.46 157.62A10.08 10.08 0 0 1 129.46 160.78Z"/><path fill="#37735a" d="M133.19 157.03A13.86 13.86 0 0 1 133.19 161.37L129.46 160.78A10.08 10.08 0 0 0 129.46 157.62Z"/><path fill="#06195c" d="M134.74 156.79A15.44 15.44 0 0 1 134.74 161.61L133.19 161.37A13.86 13.86 0 0 0 133.19 157.03Z"/><path fill="#e0963c" d="M119.50 159.20L139.41 163.98A20.48 20.48 0 0 1 136.96 169.90Z"/><path fill="#37735a" d="M148.29 166.11A29.61 29.61 0 0 1 144.75 174.67L136.96 169.90A20.48 20.48 0 0 0 139.41 163.98Z"/><path fill="#06195c" d="M150.13 166.55A31.50 31.50 0 0 1 146.36 175.66L144.75 174.67A29.61 29.61 0 0 0 148.29 166.11Z"/><path fill="#e0963c" d="M119.50 159.20L126.13 164.01A8.19 8.19 0 0 1 124.31 165.83Z"/><path fill="#37735a" d="M129.18 166.24A11.97 11.97 0 0 1 126.54 168.88L124.31 165.83A8.19 8.19 0 0 0 126.13 164.01Z"/><path fill="#e0963c" d="M119.50 159.20L121.48 162.42A3.78 3.78 0 0 1 120.38 162.88Z"/><path fill="#37735a" d="M121.97 163.23A4.72 4.72 0 0 1 120.60 163.79L120.38 162.88A3.78 3.78 0 0 0 121.48 162.42Z"/><path fill="#e0963c" d="M119.50 159.20L120.09 162.93A3.78 3.78 0 0 1 118.91 162.93Z"/><path fill="#37735a" d="M120.24 163.87A4.72 4.72 0 0 1 118.76 163.87L118.91 162.93A3.78 3.78 0 0 0 120.09 162.93Z"/><path fill="#e0963c" d="M119.50 159.20L118.91 161.65A2.52 2.52 0 0 1 118.18 161.35Z"/><path fill="#e0963c" d="M119.50 159.20L118.02 161.24A2.52 2.52 0 0 1 117.46 160.68Z"/><path fill="#f0c0f4" d="M119.50 159.20L118.16 160.02A1.58 1.58 0 0 1 117.97 159.57Z"/><path fill="#e0963c" d="M110.10 164.96A11.02 11.02 0 0 1 108.78 161.77L117.97 159.57A1.58 1.58 0 0 0 118.16 160.02Z"/><path fill="#37735a" d="M108.49 165.95A12.91 12.91 0 0 1 106.94 162.21L108.78 161.77A11.02 11.02 0 0 0 110.10 164.96Z"/><path fill="#f0c0f4" d="M119.50 159.20L114.83 159.94A4.72 4.72 0 0 1 114.83 158.46Z"/><path fill="#e0963c" d="M92.74 163.44A27.09 27.09 0 0 1 92.74 154.96L114.83 158.46A4.72 4.72 0 0 0 114.83 159.94Z"/><path fill="#37735a" d="M89.94 163.88A29.92 29.92 0 0 1 89.94 154.52L92.74 154.96A27.09 27.09 0 0 0 92.74 163.44Z"/><path fill="#f0c0f4" d="M119.50 159.20L117.05 158.61A2.52 2.52 0 0 1 117.35 157.88Z"/><path fill="#e0963c" d="M98.06 154.05A22.05 22.05 0 0 1 100.70 147.68L117.35 157.88A2.52 2.52 0 0 0 117.05 158.61Z"/><path fill="#37735a" d="M93.16 152.88A27.09 27.09 0 0 1 96.40 145.05L100.70 147.68A22.05 22.05 0 0 0 98.06 154.05Z"/><path fill="#f0c0f4" d="M119.50 159.20L118.74 158.64A0.94 0.94 0 0 1 118.94 158.44Z"/><path fill="#e0963c" d="M116.95 157.35A3.15 3.15 0 0 1 117.65 156.65L118.94 158.44A0.94 0.94 0 0 0 118.74 158.64Z"/><path fill="#e0963c" d="M119.50 159.20L118.18 157.05A2.52 2.52 0 0 1 118.91 156.75Z"/></g><g fill="none" stroke="#c2c2c2" stroke-width="0.35"><circle cx="119.5" cy="159.2" r="6.30"/><circle cx="119.5" cy="159.2" r="12.60"/><circle cx="119.5" cy="159.2" r="18.90"/><circle cx="119.5" cy="159.2" r="25.20"/><path d="M119.5 159.2L119.50 127.70"/><path d="M119.5 159.2L141.77 136.93"/><path d="M119.5 159.2L151.00 159.20"/><path d="M119.5 159.2L141.77 181.47"/><path d="M119.5 159.2L119.50 190.70"/><path d="M119.5 159.2L97.23 181.47"/><path d="M119.5 159.2L88.00 159.20"/><path d="M119.5 159.2L97.23 136.93"/></g><circle cx="119.5" cy="159.2" r="31.5" fill="none" stroke="#2a2a2a" stroke-width="0.5"/><g class="t"><text x="131.55" y="130.00">20.0</text><text x="129.14" y="135.82">16.0</text><text x="126.73" y="141.64">12.0</text><text x="124.32" y="147.46">8.0</text><text x="121.91" y="153.28">4.0</text></g><g class="d"><text x="119.50" y="123.81">N</text><text x="145.34" y="134.51">N-E</text><text x="156.04" y="160.35">E</text><text x="145.34" y="186.19">S-E</text><text x="119.50" y="196.89">S</text><text x="93.66" y="186.19">S-W</text><text x="82.96" y="160.35">W</text><text x="93.66" y="134.51">N-W</text></g></g>
<g><g stroke="#111" stroke-width="0.3" stroke-linejoin="miter"><path fill="#e0963c" d="M196.60 159.20L196.35 157.64A1.58 1.58 0 0 1 196.85 157.64Z"/><path fill="#e0963c" d="M196.60 159.20L198.07 153.07A6.30 6.30 0 0 1 199.89 153.83Z"/><path fill="#37735a" d="M198.51 151.24A8.19 8.19 0 0 1 200.88 152.22L199.89 153.83A6.30 6.30 0 0 0 198.07 153.07Z"/><path fill="#e0963c" d="M196.60 159.20L200.86 153.34A7.25 7.25 0 0 1 202.46 154.94Z"/><path fill="#37735a" d="M201.41 152.57A8.19 8.19 0 0 1 203.23 154.39L202.46 154.94A7.25 7.25 0 0 0 200.86 153.34Z"/><path fill="#e0963c" d="M196.60 159.20L198.75 157.88A2.52 2.52 0 0 1 199.05 158.61Z"/><path fill="#e0963c" d="M196.60 159.20L198.16 158.95A1.58 1.58 0 0 1 198.16 159.45Z"/><path fill="#e0963c" d="M196.60 159.20L197.52 159.42A0.94 0.94 0 0 1 197.41 159.69Z"/><path fill="#e0963c" d="M196.60 159.20L197.36 159.76A0.94 0.94 0 0 1 197.16 159.96Z"/><path fill="#e0963c" d="M196.60 159.20L197.09 160.01A0.94 0.94 0 0 1 196.82 160.12Z"/><path fill="#e0963c" d="M196.60 159.20L196.75 160.13A0.94 0.94 0 0 1 196.45 160.13Z"/><path fill="#e0963c" d="M196.60 159.20L196.38 160.12A0.94 0.94 0 0 1 196.11 160.01Z"/><path fill="#e0963c" d="M196.60 159.20L195.86 160.22A1.26 1.26 0 0 1 195.58 159.94Z"/><path fill="#f0c0f4" d="M196.60 159.20L195.79 159.69A0.94 0.94 0 0 1 195.68 159.42Z"/><path fill="#e0963c" d="M190.15 163.15A7.56 7.56 0 0 1 189.25 160.96L195.68 159.42A0.94 0.94 0 0 0 195.79 159.69Z"/><path fill="#f0c0f4" d="M196.60 159.20L194.73 159.50A1.89 1.89 0 0 1 194.73 158.90Z"/><path fill="#e0963c" d="M173.58 162.85A23.31 23.31 0 0 1 173.58 155.55L194.73 158.90A1.89 1.89 0 0 0 194.73 159.50Z"/><path fill="#37735a" d="M165.49 164.13A31.50 31.50 0 0 1 165.49 154.27L173.58 155.55A23.31 23.31 0 0 0 173.58 162.85Z"/><path fill="#f0c0f4" d="M196.60 159.20L195.07 158.83A1.58 1.58 0 0 1 195.26 158.38Z"/><path fill="#e0963c" d="M178.22 154.79A18.90 18.90 0 0 1 180.49 149.32L195.26 158.38A1.58 1.58 0 0 0 195.07 158.83Z"/><path fill="#37735a" d="M173.02 153.54A24.25 24.25 0 0 1 175.92 146.53L180.49 149.32A18.90 18.90 0 0 0 178.22 154.79Z"/><path fill="#f0c0f4" d="M196.60 159.20L195.84 158.64A0.94 0.94 0 0 1 196.04 158.44Z"/><path fill="#e0963c" d="M188.19 153.09A10.40 10.40 0 0 1 190.49 150.79L196.04 158.44A0.94 0.94 0 0 0 195.84 158.64Z"/><path fill="#37735a" d="M186.66 151.98A12.29 12.29 0 0 1 189.38 149.26L190.49 150.79A10.40 10.40 0 0 0 188.19 153.09Z"/><path fill="#e0963c" d="M196.60 159.20L195.78 157.86A1.58 1.58 0 0 1 196.23 157.67Z"/></g><g fill="none" stroke="#c2c2c2" stroke-width="0.35"><circle cx="196.6" cy="159.2" r="6.30"/><circle cx="196.6" cy="159.2" r="12.60"/><circle cx="196.6" cy="159.2" r="18.90"/><circle cx="196.6" cy="159.2" r="25.20"/><path d="M196.6 159.2L196.60 127.70"/><path d="M196.6 159.2L218.87 136.93"/><path d="M196.6 159.2L228.10 159.20"/><path d="M196.6 159.2L218.87 181.47"/><path d="M196.6 159.2L196.60 190.70"/><path d="M196.6 159.2L174.33 181.47"/><path d="M196.6 159.2L165.10 159.20"/><path d="M196.6 159.2L174.33 136.93"/></g><circle cx="196.6" cy="159.2" r="31.5" fill="none" stroke="#2a2a2a" stroke-width="0.5"/><g class="t"><text x="208.65" y="130.00">31.1</text><text x="206.24" y="135.82">24.9</text><text x="203.83" y="141.64">18.7</text><text x="201.42" y="147.46">12.4</text><text x="199.01" y="153.28">6.2</text></g><g class="d"><text x="196.60" y="123.81">N</text><text x="222.44" y="134.51">N-E</text><text x="233.14" y="160.35">E</text><text x="222.44" y="186.19">S-E</text><text x="196.60" y="196.89">S</text><text x="170.76" y="186.19">S-W</text><text x="160.06" y="160.35">W</text><text x="170.76" y="134.51">N-W</text></g></g>
<g><g stroke="#111" stroke-width="0.3" stroke-linejoin="miter"><path fill="#e0963c" d="M277.90 159.20L277.80 158.58A0.63 0.63 0 0 1 278.00 158.58Z"/><path fill="#e0963c" d="M277.90 159.20L278.05 158.59A0.63 0.63 0 0 1 278.23 158.66Z"/><path fill="#e0963c" d="M277.90 159.20L278.27 158.69A0.63 0.63 0 0 1 278.41 158.83Z"/><path fill="#e0963c" d="M277.90 159.20L278.44 158.87A0.63 0.63 0 0 1 278.51 159.05Z"/><path fill="#e0963c" d="M277.90 159.20L280.39 158.81A2.52 2.52 0 0 1 280.39 159.59Z"/><path fill="#e0963c" d="M277.90 159.20L288.62 161.77A11.02 11.02 0 0 1 287.30 164.96Z"/><path fill="#37735a" d="M308.53 166.55A31.50 31.50 0 0 1 304.76 175.66L287.30 164.96A11.02 11.02 0 0 0 288.62 161.77Z"/><path fill="#e0963c" d="M277.90 159.20L287.84 166.42A12.29 12.29 0 0 1 285.12 169.14Z"/><path fill="#37735a" d="M301.85 176.60A29.61 29.61 0 0 1 295.30 183.15L285.12 169.14A12.29 12.29 0 0 0 287.84 166.42Z"/><path fill="#e0963c" d="M277.90 159.20L280.37 163.23A4.72 4.72 0 0 1 279.00 163.79Z"/><path fill="#37735a" d="M284.15 169.41A11.97 11.97 0 0 1 280.69 170.84L279.00 163.79A4.72 4.72 0 0 0 280.37 163.23Z"/><path fill="#e0963c" d="M277.90 159.20L278.64 163.87A4.72 4.72 0 0 1 277.16 163.87Z"/><path fill="#e0963c" d="M277.90 159.20L277.68 160.12A0.94 0.94 0 0 1 277.41 160.01Z"/><path fill="#37735a" d="M277.16 162.26A3.15 3.15 0 0 1 276.25 161.89L277.41 160.01A0.94 0.94 0 0 0 277.68 160.12Z"/><path fill="#06195c" d="M276.43 165.33A6.30 6.30 0 0 1 274.61 164.57L276.25 161.89A3.15 3.15 0 0 0 277.16 162.26Z"/><path fill="#e0963c" d="M277.90 159.20L277.53 159.71A0.63 0.63 0 0 1 277.39 159.57Z"/><path fill="#37735a" d="M276.97 160.47A1.58 1.58 0 0 1 276.63 160.13L277.39 159.57A0.63 0.63 0 0 0 277.53 159.71Z"/><path fill="#06195c" d="M275.12 163.02A4.72 4.72 0 0 1 274.08 161.98L276.63 160.13A1.58 1.58 0 0 0 276.97 160.47Z"/><path fill="#e0963c" d="M277.90 159.20L277.09 159.69A0.94 0.94 0 0 1 276.98 159.42Z"/><path fill="#37735a" d="M275.21 160.85A3.15 3.15 0 0 1 274.84 159.94L276.98 159.42A0.94 0.94 0 0 0 277.09 159.69Z"/><path fill="#e0963c" d="M277.90 159.20L276.66 159.40A1.26 1.26 0 0 1 276.66 159.00Z"/><path fill="#e0963c" d="M277.90 159.20L277.29 159.05A0.63 0.63 0 0 1 277.36 158.87Z"/><path fill="#e0963c" d="M277.90 159.20L277.39 158.83A0.63 0.63 0 0 1 277.53 158.69Z"/><path fill="#e0963c" d="M277.90 159.20L277.57 158.66A0.63 0.63 0 0 1 277.75 158.59Z"/></g><g fill="none" stroke="#c2c2c2" stroke-width="0.35"><circle cx="277.9" cy="159.2" r="6.30"/><circle cx="277.9" cy="159.2" r="12.60"/><circle cx="277.9" cy="159.2" r="18.90"/><circle cx="277.9" cy="159.2" r="25.20"/><path d="M277.9 159.2L277.90 127.70"/><path d="M277.9 159.2L300.17 136.93"/><path d="M277.9 159.2L309.40 159.20"/><path d="M277.9 159.2L300.17 181.47"/><path d="M277.9 159.2L277.90 190.70"/><path d="M277.9 159.2L255.63 181.47"/><path d="M277.9 159.2L246.40 159.20"/><path d="M277.9 159.2L255.63 136.93"/></g><circle cx="277.9" cy="159.2" r="31.5" fill="none" stroke="#2a2a2a" stroke-width="0.5"/><g class="t"><text x="289.95" y="130.00">33.1</text><text x="287.54" y="135.82">26.5</text><text x="285.13" y="141.64">19.9</text><text x="282.72" y="147.46">13.2</text><text x="280.31" y="153.28">6.6</text></g><g class="d"><text x="277.90" y="123.81">N</text><text x="303.74" y="134.51">N-E</text><text x="314.44" y="160.35">E</text><text x="303.74" y="186.19">S-E</text><text x="277.90" y="196.89">S</text><text x="252.06" y="186.19">S-W</text><text x="241.36" y="160.35">W</text><text x="252.06" y="134.51">N-W</text></g></g>
<g><g stroke="#111" stroke-width="0.3" stroke-linejoin="miter"><path fill="#e0963c" d="M355.00 159.20L354.90 158.58A0.63 0.63 0 0 1 355.10 158.58Z"/><path fill="#e0963c" d="M355.00 159.20L355.15 158.59A0.63 0.63 0 0 1 355.33 158.66Z"/><path fill="#e0963c" d="M355.00 159.20L355.37 158.69A0.63 0.63 0 0 1 355.51 158.83Z"/><path fill="#e0963c" d="M355.00 159.20L355.54 158.87A0.63 0.63 0 0 1 355.61 159.05Z"/><path fill="#e0963c" d="M355.00 159.20L355.93 159.05A0.94 0.94 0 0 1 355.93 159.35Z"/><path fill="#e0963c" d="M355.00 159.20L355.61 159.35A0.63 0.63 0 0 1 355.54 159.53Z"/><path fill="#37735a" d="M363.58 161.26A8.82 8.82 0 0 1 362.52 163.81L355.54 159.53A0.63 0.63 0 0 0 355.61 159.35Z"/><path fill="#06195c" d="M366.33 161.92A11.65 11.65 0 0 1 364.94 165.29L362.52 163.81A8.82 8.82 0 0 0 363.58 161.26Z"/><path fill="#e0963c" d="M355.00 159.20L355.51 159.57A0.63 0.63 0 0 1 355.37 159.71Z"/><path fill="#37735a" d="M373.09 172.35A22.36 22.36 0 0 1 368.15 177.29L355.37 159.71A0.63 0.63 0 0 0 355.51 159.57Z"/><path fill="#06195c" d="M380.48 177.72A31.50 31.50 0 0 1 373.52 184.68L368.15 177.29A22.36 22.36 0 0 0 373.09 172.35Z"/><path fill="#e0963c" d="M355.00 159.20L355.82 160.54A1.58 1.58 0 0 1 355.37 160.73Z"/><path fill="#e0963c" d="M355.00 159.20L355.10 159.82A0.63 0.63 0 0 1 354.90 159.82Z"/><path fill="#37735a" d="M355.39 161.69A2.52 2.52 0 0 1 354.61 161.69L354.90 159.82A0.63 0.63 0 0 0 355.10 159.82Z"/><path fill="#06195c" d="M355.99 165.42A6.30 6.30 0 0 1 354.01 165.42L354.61 161.69A2.52 2.52 0 0 0 355.39 161.69Z"/><path fill="#e0963c" d="M355.00 159.20L354.85 159.81A0.63 0.63 0 0 1 354.67 159.74Z"/><path fill="#e0963c" d="M355.00 159.20L354.63 159.71A0.63 0.63 0 0 1 354.49 159.57Z"/><path fill="#e0963c" d="M355.00 159.20L354.46 159.53A0.63 0.63 0 0 1 354.39 159.35Z"/><path fill="#e0963c" d="M355.00 159.20L354.38 159.30A0.63 0.63 0 0 1 354.38 159.10Z"/><path fill="#e0963c" d="M355.00 159.20L354.39 159.05A0.63 0.63 0 0 1 354.46 158.87Z"/><path fill="#e0963c" d="M355.00 159.20L354.49 158.83A0.63 0.63 0 0 1 354.63 158.69Z"/><path fill="#e0963c" d="M355.00 159.20L354.67 158.66A0.63 0.63 0 0 1 354.85 158.59Z"/></g><g fill="none" stroke="#c2c2c2" stroke-width="0.35"><circle cx="355.0" cy="159.2" r="6.30"/><circle cx="355.0" cy="159.2" r="12.60"/><circle cx="355.0" cy="159.2" r="18.90"/><circle cx="355.0" cy="159.2" r="25.20"/><path d="M355.0 159.2L355.00 127.70"/><path d="M355.0 159.2L377.27 136.93"/><path d="M355.0 159.2L386.50 159.20"/><path d="M355.0 159.2L377.27 181.47"/><path d="M355.0 159.2L355.00 190.70"/><path d="M355.0 159.2L332.73 181.47"/><path d="M355.0 159.2L323.50 159.20"/><path d="M355.0 159.2L332.73 136.93"/></g><circle cx="355.0" cy="159.2" r="31.5" fill="none" stroke="#2a2a2a" stroke-width="0.5"/><g class="t"><text x="367.05" y="130.00">60.6</text><text x="364.64" y="135.82">48.5</text><text x="362.23" y="141.64">36.4</text><text x="359.82" y="147.46">24.2</text><text x="357.41" y="153.28">12.1</text></g><g class="d"><text x="355.00" y="123.81">N</text><text x="380.84" y="134.51">N-E</text><text x="391.54" y="160.35">E</text><text x="380.84" y="186.19">S-E</text><text x="355.00" y="196.89">S</text><text x="329.16" y="186.19">S-W</text><text x="318.46" y="160.35">W</text><text x="329.16" y="134.51">N-W</text></g></g>
<g><g stroke="#111" stroke-width="0.3" stroke-linejoin="miter"><path fill="#e0963c" d="M432.00 159.20L431.90 158.58A0.63 0.63 0 0 1 432.10 158.58Z"/><path fill="#e0963c" d="M432.00 159.20L432.15 158.59A0.63 0.63 0 0 1 432.33 158.66Z"/><path fill="#e0963c" d="M432.00 159.20L432.37 158.69A0.63 0.63 0 0 1 432.51 158.83Z"/><path fill="#e0963c" d="M432.00 159.20L433.07 158.54A1.26 1.26 0 0 1 433.23 158.91Z"/><path fill="#e0963c" d="M432.00 159.20L435.11 158.71A3.15 3.15 0 0 1 435.11 159.69Z"/><path fill="#e0963c" d="M432.00 159.20L441.80 161.55A10.08 10.08 0 0 1 440.59 164.47Z"/><path fill="#e0963c" d="M432.00 159.20L448.05 170.86A19.84 19.84 0 0 1 443.66 175.25Z"/><path fill="#37735a" d="M457.48 177.72A31.50 31.50 0 0 1 450.52 184.68L443.66 175.25A19.84 19.84 0 0 0 448.05 170.86Z"/><path fill="#e0963c" d="M432.00 159.20L436.28 166.18A8.19 8.19 0 0 1 433.91 167.16Z"/><path fill="#37735a" d="M438.42 169.67A12.29 12.29 0 0 1 434.87 171.15L433.91 167.16A8.19 8.19 0 0 0 436.28 166.18Z"/><path fill="#e0963c" d="M432.00 159.20L432.99 165.42A6.30 6.30 0 0 1 431.01 165.42Z"/><path fill="#37735a" d="M433.77 170.40A11.34 11.34 0 0 1 430.23 170.40L431.01 165.42A6.30 6.30 0 0 0 432.99 165.42Z"/><path fill="#e0963c" d="M432.00 159.20L431.26 162.26A3.15 3.15 0 0 1 430.35 161.89Z"/><path fill="#37735a" d="M429.94 167.78A8.82 8.82 0 0 1 427.39 166.72L430.35 161.89A3.15 3.15 0 0 0 431.26 162.26Z"/><path fill="#e0963c" d="M432.00 159.20L431.26 160.22A1.26 1.26 0 0 1 430.98 159.94Z"/><path fill="#37735a" d="M430.15 161.75A3.15 3.15 0 0 1 429.45 161.05L430.98 159.94A1.26 1.26 0 0 0 431.26 160.22Z"/><path fill="#e0963c" d="M432.00 159.20L430.93 159.86A1.26 1.26 0 0 1 430.77 159.49Z"/><path fill="#e0963c" d="M432.00 159.20L431.38 159.30A0.63 0.63 0 0 1 431.38 159.10Z"/><path fill="#e0963c" d="M432.00 159.20L431.39 159.05A0.63 0.63 0 0 1 431.46 158.87Z"/><path fill="#e0963c" d="M432.00 159.20L431.49 158.83A0.63 0.63 0 0 1 431.63 158.69Z"/><path fill="#e0963c" d="M432.00 159.20L431.67 158.66A0.63 0.63 0 0 1 431.85 158.59Z"/></g><g fill="none" stroke="#c2c2c2" stroke-width="0.35"><circle cx="432.0" cy="159.2" r="6.30"/><circle cx="432.0" cy="159.2" r="12.60"/><circle cx="432.0" cy="159.2" r="18.90"/><circle cx="432.0" cy="159.2" r="25.20"/><path d="M432.0 159.2L432.00 127.70"/><path d="M432.0 159.2L454.27 136.93"/><path d="M432.0 159.2L463.50 159.20"/><path d="M432.0 159.2L454.27 181.47"/><path d="M432.0 159.2L432.00 190.70"/><path d="M432.0 159.2L409.73 181.47"/><path d="M432.0 159.2L400.50 159.20"/><path d="M432.0 159.2L409.73 136.93"/></g><circle cx="432.0" cy="159.2" r="31.5" fill="none" stroke="#2a2a2a" stroke-width="0.5"/><g class="t"><text x="444.05" y="130.00">40.1</text><text x="441.64" y="135.82">32.1</text><text x="439.23" y="141.64">24.1</text><text x="436.82" y="147.46">16.0</text><text x="434.41" y="153.28">8.0</text></g><g class="d"><text x="432.00" y="123.81">N</text><text x="457.84" y="134.51">N-E</text><text x="468.54" y="160.35">E</text><text x="457.84" y="186.19">S-E</text><text x="432.00" y="196.89">S</text><text x="406.16" y="186.19">S-W</text><text x="395.46" y="160.35">W</text><text x="406.16" y="134.51">N-W</text></g></g>
<g><g stroke="#111" stroke-width="0.3" stroke-linejoin="miter"><path fill="#e0963c" d="M42.30 238.60L40.38 226.47A12.29 12.29 0 0 1 44.22 226.47Z"/><path fill="#37735a" d="M38.60 215.27A23.62 23.62 0 0 1 46.00 215.27L44.22 226.47A12.29 12.29 0 0 0 40.38 226.47Z"/><path fill="#e0963c" d="M42.30 238.60L45.17 226.65A12.29 12.29 0 0 1 48.72 228.13Z"/><path fill="#37735a" d="M47.74 215.93A23.31 23.31 0 0 1 54.48 218.72L48.72 228.13A12.29 12.29 0 0 0 45.17 226.65Z"/><path fill="#e0963c" d="M42.30 238.60L49.71 228.41A12.60 12.60 0 0 1 52.49 231.19Z"/><path fill="#37735a" d="M53.59 223.05A19.21 19.21 0 0 1 57.85 227.31L52.49 231.19A12.60 12.60 0 0 0 49.71 228.41Z"/><path fill="#e0963c" d="M42.30 238.60L55.46 230.54A15.44 15.44 0 0 1 57.31 235.00Z"/><path fill="#37735a" d="M60.03 227.74A20.79 20.79 0 0 1 62.52 233.75L57.31 235.00A15.44 15.44 0 0 0 55.46 230.54Z"/><path fill="#e0963c" d="M42.30 238.60L63.46 235.25A21.42 21.42 0 0 1 63.46 241.95Z"/><path fill="#37735a" d="M72.79 233.77A30.87 30.87 0 0 1 72.79 243.43L63.46 241.95A21.42 21.42 0 0 0 63.46 235.25Z"/><path fill="#06195c" d="M73.41 233.67A31.50 31.50 0 0 1 73.41 243.53L72.79 243.43A30.87 30.87 0 0 0 72.79 233.77Z"/><path fill="#e0963c" d="M42.30 238.60L49.65 240.36A7.56 7.56 0 0 1 48.75 242.55Z"/><path fill="#e0963c" d="M42.30 238.60L44.85 240.45A3.15 3.15 0 0 1 44.15 241.15Z"/><path fill="#e0963c" d="M42.30 238.60L45.92 244.51A6.93 6.93 0 0 1 43.92 245.34Z"/><path fill="#e0963c" d="M42.30 238.60L42.79 241.71A3.15 3.15 0 0 1 41.81 241.71Z"/><path fill="#e0963c" d="M42.30 238.60L41.71 241.05A2.52 2.52 0 0 1 40.98 240.75Z"/><path fill="#e0963c" d="M42.30 238.60L40.45 241.15A3.15 3.15 0 0 1 39.75 240.45Z"/><path fill="#e0963c" d="M42.30 238.60L33.71 243.87A10.08 10.08 0 0 1 32.50 240.95Z"/><path fill="#e0963c" d="M42.30 238.60L29.86 240.57A12.60 12.60 0 0 1 29.86 236.63Z"/><path fill="#37735a" d="M28.30 240.82A14.18 14.18 0 0 1 28.30 236.38L29.86 236.63A12.60 12.60 0 0 0 29.86 240.57Z"/><path fill="#e0963c" d="M42.30 238.60L30.97 235.88A11.65 11.65 0 0 1 32.36 232.51Z"/><path fill="#37735a" d="M28.21 235.22A14.49 14.49 0 0 1 29.95 231.03L32.36 232.51A11.65 11.65 0 0 0 30.97 235.88Z"/><path fill="#e0963c" d="M42.30 238.60L34.15 232.68A10.08 10.08 0 0 1 36.38 230.45Z"/><path fill="#37735a" d="M30.07 229.71A15.12 15.12 0 0 1 33.41 226.37L36.38 230.45A10.08 10.08 0 0 0 34.15 232.68Z"/><path fill="#e0963c" d="M42.30 238.60L37.36 230.54A9.45 9.45 0 0 1 40.09 229.41Z"/><path fill="#37735a" d="M34.40 225.71A15.12 15.12 0 0 1 38.77 223.90L40.09 229.41A9.45 9.45 0 0 0 37.36 230.54Z"/></g><g fill="none" stroke="#c2c2c2" stroke-width="0.35"><circle cx="42.3" cy="238.6" r="6.30"/><circle cx="42.3" cy="238.6" r="12.60"/><circle cx="42.3" cy="238.6" r="18.90"/><circle cx="42.3" cy="238.6" r="25.20"/><path d="M42.3 238.6L42.30 207.10"/><path d="M42.3 238.6L64.57 216.33"/><path d="M42.3 238.6L73.80 238.60"/><path d="M42.3 238.6L64.57 260.87"/><path d="M42.3 238.6L42.30 270.10"/><path d="M42.3 238.6L20.03 260.87"/><path d="M42.3 238.6L10.80 238.60"/><path d="M42.3 238.6L20.03 216.33"/></g><circle cx="42.3" cy="238.6" r="31.5" fill="none" stroke="#2a2a2a" stroke-width="0.5"/><g class="t"><text x="54.35" y="209.40">15.3</text><text x="51.94" y="215.22">12.2</text><text x="49.53" y="221.04">9.2</text><text x="47.12" y="226.86">6.1</text><text x="44.71" y="232.68">3.1</text></g><g class="d"><text x="42.30" y="203.21">N</text><text x="68.14" y="213.91">N-E</text><text x="78.84" y="239.75">E</text><text x="68.14" y="265.59">S-E</text><text x="42.30" y="276.29">S</text><text x="16.46" y="265.59">S-W</text><text x="5.76" y="239.75">W</text><text x="16.46" y="213.91">N-W</text></g></g>
<g><g stroke="#111" stroke-width="0.3" stroke-linejoin="miter"><path fill="#e0963c" d="M119.50 238.60L118.61 233.00A5.67 5.67 0 0 1 120.39 233.00Z"/><path fill="#37735a" d="M117.92 228.64A10.08 10.08 0 0 1 121.08 228.64L120.39 233.00A5.67 5.67 0 0 0 118.61 233.00Z"/><path fill="#06195c" d="M117.68 227.09A11.65 11.65 0 0 1 121.32 227.09L121.08 228.64A10.08 10.08 0 0 0 117.92 228.64Z"/><path fill="#e0963c" d="M119.50 238.60L121.63 229.72A9.13 9.13 0 0 1 124.27 230.81Z"/><path fill="#37735a" d="M122.96 224.20A14.80 14.80 0 0 1 127.24 225.98L124.27 230.81A9.13 9.13 0 0 0 121.63 229.72Z"/><path fill="#e0963c" d="M119.50 238.60L130.42 223.56A18.58 18.58 0 0 1 134.54 227.68Z"/><path fill="#37735a" d="M133.94 218.72A24.57 24.57 0 0 1 139.38 224.16L134.54 227.68A18.58 18.58 0 0 0 130.42 223.56Z"/><path fill="#e0963c" d="M119.50 238.60L131.05 231.52A13.54 13.54 0 0 1 132.67 235.44Z"/><path fill="#37735a" d="M133.73 229.88A16.70 16.70 0 0 1 135.73 234.70L132.67 235.44A13.54 13.54 0 0 0 131.05 231.52Z"/><path fill="#06195c" d="M135.08 229.05A18.27 18.27 0 0 1 137.27 234.33L135.73 234.70A16.70 16.70 0 0 0 133.73 229.88Z"/><path fill="#e0963c" d="M119.50 238.60L133.81 236.33A14.49 14.49 0 0 1 133.81 240.87Z"/><path fill="#37735a" d="M147.50 234.17A28.35 28.35 0 0 1 147.50 243.03L133.81 240.87A14.49 14.49 0 0 0 133.81 236.33Z"/><path fill="#06195c" d="M150.30 233.72A31.18 31.18 0 0 1 150.30 243.48L147.50 243.03A28.35 28.35 0 0 0 147.50 234.17Z"/><path fill="#e0963c" d="M119.50 238.60L129.61 241.03A10.40 10.40 0 0 1 128.36 244.03Z"/><path fill="#37735a" d="M131.75 241.54A12.60 12.60 0 0 1 130.24 245.18L128.36 244.03A10.40 10.40 0 0 0 129.61 241.03Z"/><path fill="#e0963c" d="M119.50 238.60L125.36 242.86A7.25 7.25 0 0 1 123.76 244.46Z"/><path fill="#37735a" d="M126.89 243.97A9.13 9.13 0 0 1 124.87 245.99L123.76 244.46A7.25 7.25 0 0 0 125.36 242.86Z"/><path fill="#06195c" d="M127.91 244.71A10.40 10.40 0 0 1 125.61 247.01L124.87 245.99A9.13 9.13 0 0 0 126.89 243.97Z"/><path fill="#e0963c" d="M119.50 238.60L122.46 243.43A5.67 5.67 0 0 1 120.82 244.11Z"/><path fill="#37735a" d="M126.08 249.34A12.60 12.60 0 0 1 122.44 250.85L120.82 244.11A5.67 5.67 0 0 0 122.46 243.43Z"/><path fill="#06195c" d="M128.88 253.91A17.95 17.95 0 0 1 123.69 256.06L122.44 250.85A12.60 12.60 0 0 0 126.08 249.34Z"/><path fill="#e0963c" d="M119.50 238.60L119.80 240.47A1.89 1.89 0 0 1 119.20 240.47Z"/><path fill="#37735a" d="M120.09 242.33A3.78 3.78 0 0 1 118.91 242.33L119.20 240.47A1.89 1.89 0 0 0 119.80 240.47Z"/><path fill="#e0963c" d="M119.50 238.60L118.91 241.05A2.52 2.52 0 0 1 118.18 240.75Z"/><path fill="#e0963c" d="M119.50 238.60L118.57 239.87A1.58 1.58 0 0 1 118.23 239.53Z"/><path fill="#e0963c" d="M119.50 238.60L116.81 240.25A3.15 3.15 0 0 1 116.44 239.34Z"/><path fill="#e0963c" d="M119.50 238.60L113.90 239.49A5.67 5.67 0 0 1 113.90 237.71Z"/><path fill="#37735a" d="M112.34 239.73A7.25 7.25 0 0 1 112.34 237.47L113.90 237.71A5.67 5.67 0 0 0 113.90 239.49Z"/><path fill="#e0963c" d="M119.50 238.60L112.46 236.91A7.25 7.25 0 0 1 113.32 234.81Z"/><path fill="#37735a" d="M110.92 236.54A8.82 8.82 0 0 1 111.98 233.99L113.32 234.81A7.25 7.25 0 0 0 112.46 236.91Z"/><path fill="#e0963c" d="M119.50 238.60L111.60 232.86A9.77 9.77 0 0 1 113.76 230.70Z"/><path fill="#37735a" d="M107.78 230.08A14.49 14.49 0 0 1 110.98 226.88L113.76 230.70A9.77 9.77 0 0 0 111.60 232.86Z"/><path fill="#e0963c" d="M119.50 238.60L115.88 232.69A6.93 6.93 0 0 1 117.88 231.86Z"/><path fill="#37735a" d="M114.89 231.08A8.82 8.82 0 0 1 117.44 230.02L117.88 231.86A6.93 6.93 0 0 0 115.88 232.69Z"/></g><g fill="none" stroke="#c2c2c2" stroke-width="0.35"><circle cx="119.5" cy="238.6" r="6.30"/><circle cx="119.5" cy="238.6" r="12.60"/><circle cx="119.5" cy="238.6" r="18.90"/><circle cx="119.5" cy="238.6" r="25.20"/><path d="M119.5 238.6L119.50 207.10"/><path d="M119.5 238.6L141.77 216.33"/><path d="M119.5 238.6L151.00 238.60"/><path d="M119.5 238.6L141.77 260.87"/><path d="M119.5 238.6L119.50 270.10"/><path d="M119.5 238.6L97.23 260.87"/><path d="M119.5 238.6L88.00 238.60"/><path d="M119.5 238.6L97.23 216.33"/></g><circle cx="119.5" cy="238.6" r="31.5" fill="none" stroke="#2a2a2a" stroke-width="0.5"/><g class="t"><text x="131.55" y="209.40">16.8</text><text x="129.14" y="215.22">13.4</text><text x="126.73" y="221.04">10.1</text><text x="124.32" y="226.86">6.7</text><text x="121.91" y="232.68">3.4</text></g><g class="d"><text x="119.50" y="203.21">N</text><text x="145.34" y="213.91">N-E</text><text x="156.04" y="239.75">E</text><text x="145.34" y="265.59">S-E</text><text x="119.50" y="276.29">S</text><text x="93.66" y="265.59">S-W</text><text x="82.96" y="239.75">W</text><text x="93.66" y="213.91">N-W</text></g></g>
<g><g stroke="#111" stroke-width="0.3" stroke-linejoin="miter"><path fill="#f0c0f4" d="M196.60 238.60L196.11 235.49A3.15 3.15 0 0 1 197.09 235.49Z"/><path fill="#e0963c" d="M193.99 222.11A16.70 16.70 0 0 1 199.21 222.11L197.09 235.49A3.15 3.15 0 0 0 196.11 235.49Z"/><path fill="#37735a" d="M191.92 209.04A29.92 29.92 0 0 1 201.28 209.04L199.21 222.11A16.70 16.70 0 0 0 193.99 222.11Z"/><path fill="#f0c0f4" d="M196.60 238.60L196.97 237.07A1.58 1.58 0 0 1 197.42 237.26Z"/><path fill="#e0963c" d="M199.54 226.35A12.60 12.60 0 0 1 203.18 227.86L197.42 237.26A1.58 1.58 0 0 0 196.97 237.07Z"/><path fill="#37735a" d="M200.72 221.45A17.64 17.64 0 0 1 205.82 223.56L203.18 227.86A12.60 12.60 0 0 0 199.54 226.35Z"/><path fill="#f0c0f4" d="M196.60 238.60L197.53 237.33A1.58 1.58 0 0 1 197.87 237.67Z"/><path fill="#e0963c" d="M200.30 233.50A6.30 6.30 0 0 1 201.70 234.90L197.87 237.67A1.58 1.58 0 0 0 197.53 237.33Z"/><path fill="#f0c0f4" d="M196.60 238.60L197.41 238.11A0.94 0.94 0 0 1 197.52 238.38Z"/><path fill="#e0963c" d="M197.94 237.78A1.58 1.58 0 0 1 198.13 238.23L197.52 238.38A0.94 0.94 0 0 0 197.41 238.11Z"/><path fill="#f0c0f4" d="M196.60 238.60L197.53 238.45A0.94 0.94 0 0 1 197.53 238.75Z"/><path fill="#06195c" d="M201.89 237.76A5.36 5.36 0 0 1 201.89 239.44L197.53 238.75A0.94 0.94 0 0 0 197.53 238.45Z"/><path fill="#e0963c" d="M196.60 238.60L198.13 238.97A1.58 1.58 0 0 1 197.94 239.42Z"/><path fill="#e0963c" d="M196.60 238.60L197.87 239.53A1.58 1.58 0 0 1 197.53 239.87Z"/><path fill="#e0963c" d="M196.60 238.60L197.42 239.94A1.58 1.58 0 0 1 196.97 240.13Z"/><path fill="#f0c0f4" d="M196.60 238.60L196.85 240.16A1.58 1.58 0 0 1 196.35 240.16Z"/><path fill="#e0963c" d="M197.59 244.82A6.30 6.30 0 0 1 195.61 244.82L196.35 240.16A1.58 1.58 0 0 0 196.85 240.16Z"/><path fill="#f0c0f4" d="M196.60 238.60L195.86 241.66A3.15 3.15 0 0 1 194.95 241.29Z"/><path fill="#e0963c" d="M193.73 250.55A12.29 12.29 0 0 1 190.18 249.07L194.95 241.29A3.15 3.15 0 0 0 195.86 241.66Z"/><path fill="#f0c0f4" d="M196.60 238.60L194.75 241.15A3.15 3.15 0 0 1 194.05 240.45Z"/><path fill="#e0963c" d="M190.86 246.50A9.77 9.77 0 0 1 188.70 244.34L194.05 240.45A3.15 3.15 0 0 0 194.75 241.15Z"/><path fill="#f0c0f4" d="M196.60 238.60L191.23 241.89A6.30 6.30 0 0 1 190.47 240.07Z"/><path fill="#e0963c" d="M182.10 247.49A17.01 17.01 0 0 1 180.06 242.57L190.47 240.07A6.30 6.30 0 0 0 191.23 241.89Z"/><path fill="#f0c0f4" d="M196.60 238.60L182.91 240.77A13.86 13.86 0 0 1 182.91 236.43Z"/><path fill="#e0963c" d="M165.49 243.53A31.50 31.50 0 0 1 165.49 233.67L182.91 236.43A13.86 13.86 0 0 0 182.91 240.77Z"/><path fill="#f0c0f4" d="M196.60 238.60L187.41 236.39A9.45 9.45 0 0 1 188.54 233.66Z"/><path fill="#e0963c" d="M167.50 231.61A29.92 29.92 0 0 1 171.08 222.96L188.54 233.66A9.45 9.45 0 0 0 187.41 236.39Z"/><path fill="#f0c0f4" d="M196.60 238.60L192.78 235.82A4.72 4.72 0 0 1 193.82 234.78Z"/><path fill="#e0963c" d="M176.98 224.34A24.25 24.25 0 0 1 182.34 218.98L193.82 234.78A4.72 4.72 0 0 0 192.78 235.82Z"/><path fill="#f0c0f4" d="M196.60 238.60L195.28 236.45A2.52 2.52 0 0 1 196.01 236.15Z"/><path fill="#e0963c" d="M191.66 230.54A9.45 9.45 0 0 1 194.39 229.41L196.01 236.15A2.52 2.52 0 0 0 195.28 236.45Z"/><path fill="#37735a" d="M190.84 229.20A11.02 11.02 0 0 1 194.03 227.88L194.39 229.41A9.45 9.45 0 0 0 191.66 230.54Z"/></g><g fill="none" stroke="#c2c2c2" stroke-width="0.35"><circle cx="196.6" cy="238.6" r="6.30"/><circle cx="196.6" cy="238.6" r="12.60"/><circle cx="196.6" cy="238.6" r="18.90"/><circle cx="196.6" cy="238.6" r="25.20"/><path d="M196.6 238.6L196.60 207.10"/><path d="M196.6 238.6L218.87 216.33"/><path d="M196.6 238.6L228.10 238.60"/><path d="M196.6 238.6L218.87 260.87"/><path d="M196.6 238.6L196.60 270.10"/><path d="M196.6 238.6L174.33 260.87"/><path d="M196.6 238.6L165.10 238.60"/><path d="M196.6 238.6L174.33 216.33"/></g><circle cx="196.6" cy="238.6" r="31.5" fill="none" stroke="#2a2a2a" stroke-width="0.5"/><g class="t"><text x="208.65" y="209.40">15.4</text><text x="206.24" y="215.22">12.3</text><text x="203.83" y="221.04">9.2</text><text x="201.42" y="226.86">6.2</text><text x="199.01" y="232.68">3.1</text></g><g class="d"><text x="196.60" y="203.21">N</text><text x="222.44" y="213.91">N-E</text><text x="233.14" y="239.75">E</text><text x="222.44" y="265.59">S-E</text><text x="196.60" y="276.29">S</text><text x="170.76" y="265.59">S-W</text><text x="160.06" y="239.75">W</text><text x="170.76" y="213.91">N-W</text></g></g>
<g><g stroke="#111" stroke-width="0.3" stroke-linejoin="miter"><path fill="#e0963c" d="M277.90 238.60L277.80 237.98A0.63 0.63 0 0 1 278.00 237.98Z"/><path fill="#e0963c" d="M277.90 238.60L278.05 237.99A0.63 0.63 0 0 1 278.23 238.06Z"/><path fill="#e0963c" d="M277.90 238.60L278.27 238.09A0.63 0.63 0 0 1 278.41 238.23Z"/><path fill="#e0963c" d="M277.90 238.60L278.44 238.27A0.63 0.63 0 0 1 278.51 238.45Z"/><path fill="#e0963c" d="M277.90 238.60L278.83 238.45A0.94 0.94 0 0 1 278.83 238.75Z"/><path fill="#e0963c" d="M277.90 238.60L279.13 238.89A1.26 1.26 0 0 1 278.97 239.26Z"/><path fill="#e0963c" d="M277.90 238.60L279.17 239.53A1.58 1.58 0 0 1 278.83 239.87Z"/><path fill="#e0963c" d="M277.90 238.60L290.08 258.48A23.31 23.31 0 0 1 283.34 261.27Z"/><path fill="#37735a" d="M294.36 265.46A31.50 31.50 0 0 1 285.25 269.23L283.34 261.27A23.31 23.31 0 0 0 290.08 258.48Z"/><path fill="#e0963c" d="M277.90 238.60L280.81 256.96A18.58 18.58 0 0 1 274.99 256.96Z"/><path fill="#37735a" d="M281.94 264.11A25.83 25.83 0 0 1 273.86 264.11L274.99 256.96A18.58 18.58 0 0 0 280.81 256.96Z"/><path fill="#06195c" d="M282.43 267.22A28.98 28.98 0 0 1 273.37 267.22L273.86 264.11A25.83 25.83 0 0 0 281.94 264.11Z"/><path fill="#e0963c" d="M277.90 238.60L277.53 240.13A1.58 1.58 0 0 1 277.08 239.94Z"/><path fill="#e0963c" d="M277.90 238.60L277.53 239.11A0.63 0.63 0 0 1 277.39 238.97Z"/><path fill="#e0963c" d="M277.90 238.60L277.36 238.93A0.63 0.63 0 0 1 277.29 238.75Z"/><path fill="#e0963c" d="M277.90 238.60L277.28 238.70A0.63 0.63 0 0 1 277.28 238.50Z"/><path fill="#e0963c" d="M277.90 238.60L277.29 238.45A0.63 0.63 0 0 1 277.36 238.27Z"/><path fill="#e0963c" d="M277.90 238.60L277.39 238.23A0.63 0.63 0 0 1 277.53 238.09Z"/><path fill="#e0963c" d="M277.90 238.60L277.57 238.06A0.63 0.63 0 0 1 277.75 237.99Z"/></g><g fill="none" stroke="#c2c2c2" stroke-width="0.35"><circle cx="277.9" cy="238.6" r="6.30"/><circle cx="277.9" cy="238.6" r="12.60"/><circle cx="277.9" cy="238.6" r="18.90"/><circle cx="277.9" cy="238.6" r="25.20"/><path d="M277.9 238.6L277.90 207.10"/><path d="M277.9 238.6L300.17 216.33"/><path d="M277.9 238.6L309.40 238.60"/><path d="M277.9 238.6L300.17 260.87"/><path d="M277.9 238.6L277.90 270.10"/><path d="M277.9 238.6L255.63 260.87"/><path d="M277.9 238.6L246.40 238.60"/><path d="M277.9 238.6L255.63 216.33"/></g><circle cx="277.9" cy="238.6" r="31.5" fill="none" stroke="#2a2a2a" stroke-width="0.5"/><g class="t"><text x="289.95" y="209.40">43.3</text><text x="287.54" y="215.22">34.6</text><text x="285.13" y="221.04">26.0</text><text x="282.72" y="226.86">17.3</text><text x="280.31" y="232.68">8.7</text></g><g class="d"><text x="277.90" y="203.21">N</text><text x="303.74" y="213.91">N-E</text><text x="314.44" y="239.75">E</text><text x="303.74" y="265.59">S-E</text><text x="277.90" y="276.29">S</text><text x="252.06" y="265.59">S-W</text><text x="241.36" y="239.75">W</text><text x="252.06" y="213.91">N-W</text></g></g>
<g><g stroke="#111" stroke-width="0.3" stroke-linejoin="miter"><path fill="#e0963c" d="M355.00 238.60L354.90 237.98A0.63 0.63 0 0 1 355.10 237.98Z"/><path fill="#e0963c" d="M355.00 238.60L355.15 237.99A0.63 0.63 0 0 1 355.33 238.06Z"/><path fill="#e0963c" d="M355.00 238.60L355.37 238.09A0.63 0.63 0 0 1 355.51 238.23Z"/><path fill="#e0963c" d="M355.00 238.60L355.54 238.27A0.63 0.63 0 0 1 355.61 238.45Z"/><path fill="#e0963c" d="M355.00 238.60L355.62 238.50A0.63 0.63 0 0 1 355.62 238.70Z"/><path fill="#e0963c" d="M355.00 238.60L358.06 239.34A3.15 3.15 0 0 1 357.69 240.25Z"/><path fill="#e0963c" d="M355.00 238.60L360.10 242.30A6.30 6.30 0 0 1 358.70 243.70Z"/><path fill="#37735a" d="M362.14 243.78A8.82 8.82 0 0 1 360.18 245.74L358.70 243.70A6.30 6.30 0 0 0 360.10 242.30Z"/><path fill="#e0963c" d="M355.00 238.60L360.27 247.19A10.08 10.08 0 0 1 357.35 248.40Z"/><path fill="#37735a" d="M371.46 265.46A31.50 31.50 0 0 1 362.35 269.23L357.35 248.40A10.08 10.08 0 0 0 360.27 247.19Z"/><path fill="#e0963c" d="M355.00 238.60L356.87 250.42A11.97 11.97 0 0 1 353.13 250.42Z"/><path fill="#37735a" d="M357.22 252.60A14.18 14.18 0 0 1 352.78 252.60L353.13 250.42A11.97 11.97 0 0 0 356.87 250.42Z"/><path fill="#e0963c" d="M355.00 238.60L353.53 244.73A6.30 6.30 0 0 1 351.71 243.97Z"/><path fill="#e0963c" d="M355.00 238.60L354.07 239.87A1.58 1.58 0 0 1 353.73 239.53Z"/><path fill="#e0963c" d="M355.00 238.60L354.46 238.93A0.63 0.63 0 0 1 354.39 238.75Z"/><path fill="#e0963c" d="M355.00 238.60L354.38 238.70A0.63 0.63 0 0 1 354.38 238.50Z"/><path fill="#e0963c" d="M355.00 238.60L354.39 238.45A0.63 0.63 0 0 1 354.46 238.27Z"/><path fill="#e0963c" d="M355.00 238.60L354.49 238.23A0.63 0.63 0 0 1 354.63 238.09Z"/><path fill="#e0963c" d="M355.00 238.60L354.67 238.06A0.63 0.63 0 0 1 354.85 237.99Z"/></g><g fill="none" stroke="#c2c2c2" stroke-width="0.35"><circle cx="355.0" cy="238.6" r="6.30"/><circle cx="355.0" cy="238.6" r="12.60"/><circle cx="355.0" cy="238.6" r="18.90"/><circle cx="355.0" cy="238.6" r="25.20"/><path d="M355.0 238.6L355.00 207.10"/><path d="M355.0 238.6L377.27 216.33"/><path d="M355.0 238.6L386.50 238.60"/><path d="M355.0 238.6L377.27 260.87"/><path d="M355.0 238.6L355.00 270.10"/><path d="M355.0 238.6L332.73 260.87"/><path d="M355.0 238.6L323.50 238.60"/><path d="M355.0 238.6L332.73 216.33"/></g><circle cx="355.0" cy="238.6" r="31.5" fill="none" stroke="#2a2a2a" stroke-width="0.5"/><g class="t"><text x="367.05" y="209.40">46.3</text><text x="364.64" y="215.22">37.0</text><text x="362.23" y="221.04">27.8</text><text x="359.82" y="226.86">18.5</text><text x="357.41" y="232.68">9.3</text></g><g class="d"><text x="355.00" y="203.21">N</text><text x="380.84" y="213.91">N-E</text><text x="391.54" y="239.75">E</text><text x="380.84" y="265.59">S-E</text><text x="355.00" y="276.29">S</text><text x="329.16" y="265.59">S-W</text><text x="318.46" y="239.75">W</text><text x="329.16" y="213.91">N-W</text></g></g>
<g><g stroke="#111" stroke-width="0.3" stroke-linejoin="miter"><path fill="#e0963c" d="M432.00 238.60L431.90 237.98A0.63 0.63 0 0 1 432.10 237.98Z"/><path fill="#e0963c" d="M432.00 238.60L432.15 237.99A0.63 0.63 0 0 1 432.33 238.06Z"/><path fill="#e0963c" d="M432.00 238.60L432.37 238.09A0.63 0.63 0 0 1 432.51 238.23Z"/><path fill="#e0963c" d="M432.00 238.60L432.54 238.27A0.63 0.63 0 0 1 432.61 238.45Z"/><path fill="#e0963c" d="M432.00 238.60L432.62 238.50A0.63 0.63 0 0 1 432.62 238.70Z"/><path fill="#e0963c" d="M432.00 238.60L433.23 238.89A1.26 1.26 0 0 1 433.07 239.26Z"/><path fill="#e0963c" d="M432.00 238.60L434.55 240.45A3.15 3.15 0 0 1 433.85 241.15Z"/><path fill="#e0963c" d="M432.00 238.60L436.44 245.85A8.51 8.51 0 0 1 433.99 246.87Z"/><path fill="#37735a" d="M447.64 264.12A29.92 29.92 0 0 1 438.99 267.70L433.99 246.87A8.51 8.51 0 0 0 436.44 245.85Z"/><path fill="#06195c" d="M448.46 265.46A31.50 31.50 0 0 1 439.35 269.23L438.99 267.70A29.92 29.92 0 0 0 447.64 264.12Z"/><path fill="#e0963c" d="M432.00 238.60L434.41 253.84A15.44 15.44 0 0 1 429.59 253.84Z"/><path fill="#37735a" d="M435.70 261.93A23.62 23.62 0 0 1 428.30 261.93L429.59 253.84A15.44 15.44 0 0 0 434.41 253.84Z"/><path fill="#e0963c" d="M432.00 238.60L427.88 255.75A17.64 17.64 0 0 1 422.78 253.64Z"/><path fill="#37735a" d="M424.94 268.00A30.24 30.24 0 0 1 416.20 264.38L422.78 253.64A17.64 17.64 0 0 0 427.88 255.75Z"/><path fill="#06195c" d="M424.65 269.23A31.50 31.50 0 0 1 415.54 265.46L416.20 264.38A30.24 30.24 0 0 0 424.94 268.00Z"/><path fill="#e0963c" d="M432.00 238.60L422.19 252.11A16.70 16.70 0 0 1 418.49 248.41Z"/><path fill="#37735a" d="M418.30 257.46A23.31 23.31 0 0 1 413.14 252.30L418.49 248.41A16.70 16.70 0 0 0 422.19 252.11Z"/><path fill="#e0963c" d="M432.00 238.60L423.94 243.54A9.45 9.45 0 0 1 422.81 240.81Z"/><path fill="#e0963c" d="M432.00 238.60L430.44 238.85A1.58 1.58 0 0 1 430.44 238.35Z"/><path fill="#e0963c" d="M432.00 238.60L431.39 238.45A0.63 0.63 0 0 1 431.46 238.27Z"/><path fill="#e0963c" d="M432.00 238.60L431.49 238.23A0.63 0.63 0 0 1 431.63 238.09Z"/><path fill="#e0963c" d="M432.00 238.60L431.67 238.06A0.63 0.63 0 0 1 431.85 237.99Z"/></g><g fill="none" stroke="#c2c2c2" stroke-width="0.35"><circle cx="432.0" cy="238.6" r="6.30"/><circle cx="432.0" cy="238.6" r="12.60"/><circle cx="432.0" cy="238.6" r="18.90"/><circle cx="432.0" cy="238.6" r="25.20"/><path d="M432.0 238.6L432.00 207.10"/><path d="M432.0 238.6L454.27 216.33"/><path d="M432.0 238.6L463.50 238.60"/><path d="M432.0 238.6L454.27 260.87"/><path d="M432.0 238.6L432.00 270.10"/><path d="M432.0 238.6L409.73 260.87"/><path d="M432.0 238.6L400.50 238.60"/><path d="M432.0 238.6L409.73 216.33"/></g><circle cx="432.0" cy="238.6" r="31.5" fill="none" stroke="#2a2a2a" stroke-width="0.5"/><g class="t"><text x="444.05" y="209.40">25.2</text><text x="441.64" y="215.22">20.2</text><text x="439.23" y="221.04">15.1</text><text x="436.82" y="226.86">10.1</text><text x="434.41" y="232.68">5.0</text></g><g class="d"><text x="432.00" y="203.21">N</text><text x="457.84" y="213.91">N-E</text><text x="468.54" y="239.75">E</text><text x="457.84" y="265.59">S-E</text><text x="432.00" y="276.29">S</text><text x="406.16" y="265.59">S-W</text><text x="395.46" y="239.75">W</text><text x="406.16" y="213.91">N-W</text></g></g>
<g><g stroke="#111" stroke-width="0.3" stroke-linejoin="miter"><path fill="#e0963c" d="M42.30 318.00L41.81 314.89A3.15 3.15 0 0 1 42.79 314.89Z"/><path fill="#37735a" d="M41.27 311.47A6.61 6.61 0 0 1 43.33 311.47L42.79 314.89A3.15 3.15 0 0 0 41.81 314.89Z"/><path fill="#e0963c" d="M42.30 318.00L43.55 312.79A5.36 5.36 0 0 1 45.10 313.43Z"/><path fill="#37735a" d="M48.04 294.11A24.57 24.57 0 0 1 55.14 297.05L45.10 313.43A5.36 5.36 0 0 0 43.55 312.79Z"/><path fill="#e0963c" d="M42.30 318.00L44.52 314.94A3.78 3.78 0 0 1 45.36 315.78Z"/><path fill="#37735a" d="M49.52 308.06A12.29 12.29 0 0 1 52.24 310.78L45.36 315.78A3.78 3.78 0 0 0 44.52 314.94Z"/><path fill="#e0963c" d="M42.30 318.00L43.64 317.18A1.58 1.58 0 0 1 43.83 317.63Z"/><path fill="#37735a" d="M47.67 314.71A6.30 6.30 0 0 1 48.43 316.53L43.83 317.63A1.58 1.58 0 0 0 43.64 317.18Z"/><path fill="#e0963c" d="M42.30 318.00L45.41 317.51A3.15 3.15 0 0 1 45.41 318.49Z"/><path fill="#37735a" d="M55.06 315.98A12.91 12.91 0 0 1 55.06 320.02L45.41 318.49A3.15 3.15 0 0 0 45.41 317.51Z"/><path fill="#06195c" d="M60.03 315.19A17.95 17.95 0 0 1 60.03 320.81L55.06 320.02A12.91 12.91 0 0 0 55.06 315.98Z"/><path fill="#e0963c" d="M42.30 318.00L44.75 318.59A2.52 2.52 0 0 1 44.45 319.32Z"/><path fill="#37735a" d="M60.37 322.34A18.58 18.58 0 0 1 58.15 327.71L44.45 319.32A2.52 2.52 0 0 0 44.75 318.59Z"/><path fill="#06195c" d="M72.93 325.35A31.50 31.50 0 0 1 69.16 334.46L58.15 327.71A18.58 18.58 0 0 0 60.37 322.34Z"/><path fill="#e0963c" d="M42.30 318.00L43.57 318.93A1.58 1.58 0 0 1 43.23 319.27Z"/><path fill="#37735a" d="M48.67 322.63A7.88 7.88 0 0 1 46.93 324.37L43.23 319.27A1.58 1.58 0 0 0 43.57 318.93Z"/><path fill="#06195c" d="M51.22 324.48A11.02 11.02 0 0 1 48.78 326.92L46.93 324.37A7.88 7.88 0 0 0 48.67 322.63Z"/><path fill="#e0963c" d="M42.30 318.00L43.12 319.34A1.58 1.58 0 0 1 42.67 319.53Z"/><path fill="#37735a" d="M45.10 322.57A5.36 5.36 0 0 1 43.55 323.21L42.67 319.53A1.58 1.58 0 0 0 43.12 319.34Z"/><path fill="#06195c" d="M47.57 326.59A10.08 10.08 0 0 1 44.65 327.80L43.55 323.21A5.36 5.36 0 0 0 45.10 322.57Z"/><path fill="#e0963c" d="M42.30 318.00L42.50 319.24A1.26 1.26 0 0 1 42.10 319.24Z"/><path fill="#37735a" d="M42.69 320.49A2.52 2.52 0 0 1 41.91 320.49L42.10 319.24A1.26 1.26 0 0 0 42.50 319.24Z"/><path fill="#e0963c" d="M42.30 318.00L41.93 319.53A1.58 1.58 0 0 1 41.48 319.34Z"/><path fill="#e0963c" d="M42.30 318.00L41.37 319.27A1.58 1.58 0 0 1 41.03 318.93Z"/><path fill="#37735a" d="M38.97 322.59A5.67 5.67 0 0 1 37.71 321.33L41.03 318.93A1.58 1.58 0 0 0 41.37 319.27Z"/><path fill="#e0963c" d="M42.30 318.00L40.96 318.82A1.58 1.58 0 0 1 40.77 318.37Z"/><path fill="#37735a" d="M39.08 319.98A3.78 3.78 0 0 1 38.62 318.88L40.77 318.37A1.58 1.58 0 0 0 40.96 318.82Z"/><path fill="#e0963c" d="M42.30 318.00L38.57 318.59A3.78 3.78 0 0 1 38.57 317.41Z"/><path fill="#37735a" d="M35.46 319.08A6.93 6.93 0 0 1 35.46 316.92L38.57 317.41A3.78 3.78 0 0 0 38.57 318.59Z"/><path fill="#e0963c" d="M42.30 318.00L40.46 317.56A1.89 1.89 0 0 1 40.69 317.01Z"/><path fill="#37735a" d="M39.24 317.26A3.15 3.15 0 0 1 39.61 316.35L40.69 317.01A1.89 1.89 0 0 0 40.46 317.56Z"/><path fill="#e0963c" d="M42.30 318.00L40.77 316.89A1.89 1.89 0 0 1 41.19 316.47Z"/><path fill="#37735a" d="M39.75 316.15A3.15 3.15 0 0 1 40.45 315.45L41.19 316.47A1.89 1.89 0 0 0 40.77 316.89Z"/><path fill="#e0963c" d="M42.30 318.00L41.31 316.39A1.89 1.89 0 0 1 41.86 316.16Z"/><path fill="#37735a" d="M40.32 314.78A3.78 3.78 0 0 1 41.42 314.32L41.86 316.16A1.89 1.89 0 0 0 41.31 316.39Z"/></g><g fill="none" stroke="#c2c2c2" stroke-width="0.35"><circle cx="42.3" cy="318.0" r="6.30"/><circle cx="42.3" cy="318.0" r="12.60"/><circle cx="42.3" cy="318.0" r="18.90"/><circle cx="42.3" cy="318.0" r="25.20"/><path d="M42.3 318.0L42.30 286.50"/><path d="M42.3 318.0L64.57 295.73"/><path d="M42.3 318.0L73.80 318.00"/><path d="M42.3 318.0L64.57 340.27"/><path d="M42.3 318.0L42.30 349.50"/><path d="M42.3 318.0L20.03 340.27"/><path d="M42.3 318.0L10.80 318.00"/><path d="M42.3 318.0L20.03 295.73"/></g><circle cx="42.3" cy="318.0" r="31.5" fill="none" stroke="#2a2a2a" stroke-width="0.5"/><g class="t"><text x="54.35" y="288.80">21.0</text><text x="51.94" y="294.62">16.8</text><text x="49.53" y="300.44">12.6</text><text x="47.12" y="306.26">8.4</text><text x="44.71" y="312.08">4.2</text></g><g class="d"><text x="42.30" y="282.61">N</text><text x="68.14" y="293.31">N-E</text><text x="78.84" y="319.15">E</text><text x="68.14" y="344.99">S-E</text><text x="42.30" y="355.69">S</text><text x="16.46" y="344.99">S-W</text><text x="5.76" y="319.15">W</text><text x="16.46" y="293.31">N-W</text></g></g>
<g><g stroke="#111" stroke-width="0.3" stroke-linejoin="miter"><path fill="#e0963c" d="M119.50 318.00L118.47 311.47A6.61 6.61 0 0 1 120.53 311.47Z"/><path fill="#37735a" d="M114.67 287.51A30.87 30.87 0 0 1 124.33 287.51L120.53 311.47A6.61 6.61 0 0 0 118.47 311.47Z"/><path fill="#06195c" d="M114.57 286.89A31.50 31.50 0 0 1 124.43 286.89L124.33 287.51A30.87 30.87 0 0 0 114.67 287.51Z"/><path fill="#e0963c" d="M119.50 318.00L120.24 314.94A3.15 3.15 0 0 1 121.15 315.31Z"/><path fill="#37735a" d="M122.37 306.05A12.29 12.29 0 0 1 125.92 307.53L121.15 315.31A3.15 3.15 0 0 0 120.24 314.94Z"/><path fill="#e0963c" d="M119.50 318.00L120.43 316.73A1.58 1.58 0 0 1 120.77 317.07Z"/><path fill="#37735a" d="M127.28 307.30A13.23 13.23 0 0 1 130.20 310.22L120.77 317.07A1.58 1.58 0 0 0 120.43 316.73Z"/><path fill="#06195c" d="M128.39 305.77A15.12 15.12 0 0 1 131.73 309.11L130.20 310.22A13.23 13.23 0 0 0 127.28 307.30Z"/><path fill="#e0963c" d="M119.50 318.00L120.84 317.18A1.58 1.58 0 0 1 121.03 317.63Z"/><path fill="#37735a" d="M125.41 314.38A6.93 6.93 0 0 1 126.24 316.38L121.03 317.63A1.58 1.58 0 0 0 120.84 317.18Z"/><path fill="#e0963c" d="M119.50 318.00L122.61 317.51A3.15 3.15 0 0 1 122.61 318.49Z"/><path fill="#37735a" d="M126.03 316.97A6.61 6.61 0 0 1 126.03 319.03L122.61 318.49A3.15 3.15 0 0 0 122.61 317.51Z"/><path fill="#06195c" d="M127.59 316.72A8.19 8.19 0 0 1 127.59 319.28L126.03 319.03A6.61 6.61 0 0 0 126.03 316.97Z"/><path fill="#e0963c" d="M119.50 318.00L127.46 319.91A8.19 8.19 0 0 1 126.48 322.28Z"/><path fill="#37735a" d="M146.15 324.40A27.41 27.41 0 0 1 142.87 332.32L126.48 322.28A8.19 8.19 0 0 0 127.46 319.91Z"/><path fill="#06195c" d="M148.60 324.99A29.92 29.92 0 0 1 145.02 333.64L142.87 332.32A27.41 27.41 0 0 0 146.15 324.40Z"/><path fill="#e0963c" d="M119.50 318.00L122.56 320.22A3.78 3.78 0 0 1 121.72 321.06Z"/><path fill="#37735a" d="M137.85 331.33A22.68 22.68 0 0 1 132.83 336.35L121.72 321.06A3.78 3.78 0 0 0 122.56 320.22Z"/><path fill="#e0963c" d="M119.50 318.00L121.48 321.22A3.78 3.78 0 0 1 120.38 321.68Z"/><path fill="#37735a" d="M124.27 325.79A9.13 9.13 0 0 1 121.63 326.88L120.38 321.68A3.78 3.78 0 0 0 121.48 321.22Z"/><path fill="#e0963c" d="M119.50 318.00L119.75 319.56A1.58 1.58 0 0 1 119.25 319.56Z"/><path fill="#37735a" d="M120.09 321.73A3.78 3.78 0 0 1 118.91 321.73L119.25 319.56A1.58 1.58 0 0 0 119.75 319.56Z"/><path fill="#e0963c" d="M119.50 318.00L119.13 319.53A1.58 1.58 0 0 1 118.68 319.34Z"/><path fill="#e0963c" d="M119.50 318.00L118.76 319.02A1.26 1.26 0 0 1 118.48 318.74Z"/><path fill="#37735a" d="M118.02 320.04A2.52 2.52 0 0 1 117.46 319.48L118.48 318.74A1.26 1.26 0 0 0 118.76 319.02Z"/><path fill="#e0963c" d="M119.50 318.00L118.43 318.66A1.26 1.26 0 0 1 118.27 318.29Z"/><path fill="#37735a" d="M116.81 319.65A3.15 3.15 0 0 1 116.44 318.74L118.27 318.29A1.26 1.26 0 0 0 118.43 318.66Z"/><path fill="#e0963c" d="M119.50 318.00L117.94 318.25A1.58 1.58 0 0 1 117.94 317.75Z"/><path fill="#37735a" d="M114.83 318.74A4.72 4.72 0 0 1 114.83 317.26L117.94 317.75A1.58 1.58 0 0 0 117.94 318.25Z"/><path fill="#e0963c" d="M119.50 318.00L117.97 317.63A1.58 1.58 0 0 1 118.16 317.18Z"/><path fill="#37735a" d="M116.44 317.26A3.15 3.15 0 0 1 116.81 316.35L118.16 317.18A1.58 1.58 0 0 0 117.97 317.63Z"/><path fill="#e0963c" d="M119.50 318.00L117.46 316.52A2.52 2.52 0 0 1 118.02 315.96Z"/><path fill="#37735a" d="M113.13 313.37A7.88 7.88 0 0 1 114.87 311.63L118.02 315.96A2.52 2.52 0 0 0 117.46 316.52Z"/><path fill="#e0963c" d="M119.50 318.00L117.03 313.97A4.72 4.72 0 0 1 118.40 313.41Z"/><path fill="#37735a" d="M114.40 309.67A9.77 9.77 0 0 1 117.22 308.50L118.40 313.41A4.72 4.72 0 0 0 117.03 313.97Z"/></g><g fill="none" stroke="#c2c2c2" stroke-width="0.35"><circle cx="119.5" cy="318.0" r="6.30"/><circle cx="119.5" cy="318.0" r="12.60"/><circle cx="119.5" cy="318.0" r="18.90"/><circle cx="119.5" cy="318.0" r="25.20"/><path d="M119.5 318.0L119.50 286.50"/><path d="M119.5 318.0L141.77 295.73"/><path d="M119.5 318.0L151.00 318.00"/><path d="M119.5 318.0L141.77 340.27"/><path d="M119.5 318.0L119.50 349.50"/><path d="M119.5 318.0L97.23 340.27"/><path d="M119.5 318.0L88.00 318.00"/><path d="M119.5 318.0L97.23 295.73"/></g><circle cx="119.5" cy="318.0" r="31.5" fill="none" stroke="#2a2a2a" stroke-width="0.5"/><g class="t"><text x="131.55" y="288.80">19.0</text><text x="129.14" y="294.62">15.2</text><text x="126.73" y="300.44">11.4</text><text x="124.32" y="306.26">7.6</text><text x="121.91" y="312.08">3.8</text></g><g class="d"><text x="119.50" y="282.61">N</text><text x="145.34" y="293.31">N-E</text><text x="156.04" y="319.15">E</text><text x="145.34" y="344.99">S-E</text><text x="119.50" y="355.69">S</text><text x="93.66" y="344.99">S-W</text><text x="82.96" y="319.15">W</text><text x="93.66" y="293.31">N-W</text></g></g>
<g><g stroke="#111" stroke-width="0.3" stroke-linejoin="miter"><path fill="#e0963c" d="M196.60 318.00L191.97 288.75A29.61 29.61 0 0 1 201.23 288.75Z"/><path fill="#37735a" d="M191.67 286.89A31.50 31.50 0 0 1 201.53 286.89L201.23 288.75A29.61 29.61 0 0 0 191.97 288.75Z"/><path fill="#e0963c" d="M196.60 318.00L199.03 307.89A10.40 10.40 0 0 1 202.03 309.14Z"/><path fill="#37735a" d="M199.32 306.67A11.65 11.65 0 0 1 202.69 308.06L202.03 309.14A10.40 10.40 0 0 0 199.03 307.89Z"/><path fill="#e0963c" d="M196.60 318.00L199.56 313.92A5.04 5.04 0 0 1 200.68 315.04Z"/><path fill="#37735a" d="M200.30 312.90A6.30 6.30 0 0 1 201.70 314.30L200.68 315.04A5.04 5.04 0 0 0 199.56 313.92Z"/><path fill="#e0963c" d="M196.60 318.00L199.29 316.35A3.15 3.15 0 0 1 199.66 317.26Z"/><path fill="#e0963c" d="M196.60 318.00L199.09 317.61A2.52 2.52 0 0 1 199.09 318.39Z"/><path fill="#e0963c" d="M196.60 318.00L199.66 318.74A3.15 3.15 0 0 1 199.29 319.65Z"/><path fill="#e0963c" d="M196.60 318.00L199.15 319.85A3.15 3.15 0 0 1 198.45 320.55Z"/><path fill="#e0963c" d="M196.60 318.00L198.58 321.22A3.78 3.78 0 0 1 197.48 321.68Z"/><path fill="#e0963c" d="M196.60 318.00L197.09 321.11A3.15 3.15 0 0 1 196.11 321.11Z"/><path fill="#e0963c" d="M196.60 318.00L196.01 320.45A2.52 2.52 0 0 1 195.28 320.15Z"/><path fill="#e0963c" d="M196.60 318.00L195.12 320.04A2.52 2.52 0 0 1 194.56 319.48Z"/><path fill="#e0963c" d="M196.60 318.00L193.91 319.65A3.15 3.15 0 0 1 193.54 318.74Z"/><path fill="#e0963c" d="M196.60 318.00L189.44 319.13A7.25 7.25 0 0 1 189.44 316.87Z"/><path fill="#37735a" d="M187.27 319.48A9.45 9.45 0 0 1 187.27 316.52L189.44 316.87A7.25 7.25 0 0 0 189.44 319.13Z"/><path fill="#e0963c" d="M196.60 318.00L182.20 314.54A14.80 14.80 0 0 1 183.98 310.26Z"/><path fill="#37735a" d="M179.14 313.81A17.95 17.95 0 0 1 181.29 308.62L183.98 310.26A14.80 14.80 0 0 0 182.20 314.54Z"/><path fill="#e0963c" d="M196.60 318.00L177.49 304.11A23.62 23.62 0 0 1 182.71 298.89Z"/><path fill="#37735a" d="M174.94 302.26A26.77 26.77 0 0 1 180.86 296.34L182.71 298.89A23.62 23.62 0 0 0 177.49 304.11Z"/><path fill="#e0963c" d="M196.60 318.00L188.70 305.11A15.12 15.12 0 0 1 193.07 303.30Z"/><path fill="#37735a" d="M187.22 302.69A17.95 17.95 0 0 1 192.41 300.54L193.07 303.30A15.12 15.12 0 0 0 188.70 305.11Z"/></g><g fill="none" stroke="#c2c2c2" stroke-width="0.35"><circle cx="196.6" cy="318.0" r="6.30"/><circle cx="196.6" cy="318.0" r="12.60"/><circle cx="196.6" cy="318.0" r="18.90"/><circle cx="196.6" cy="318.0" r="25.20"/><path d="M196.6 318.0L196.60 286.50"/><path d="M196.6 318.0L218.87 295.73"/><path d="M196.6 318.0L228.10 318.00"/><path d="M196.6 318.0L218.87 340.27"/><path d="M196.6 318.0L196.60 349.50"/><path d="M196.6 318.0L174.33 340.27"/><path d="M196.6 318.0L165.10 318.00"/><path d="M196.6 318.0L174.33 295.73"/></g><circle cx="196.6" cy="318.0" r="31.5" fill="none" stroke="#2a2a2a" stroke-width="0.5"/><g class="t"><text x="208.65" y="288.80">20.3</text><text x="206.24" y="294.62">16.2</text><text x="203.83" y="300.44">12.2</text><text x="201.42" y="306.26">8.1</text><text x="199.01" y="312.08">4.1</text></g><g class="d"><text x="196.60" y="282.61">N</text><text x="222.44" y="293.31">N-E</text><text x="233.14" y="319.15">E</text><text x="222.44" y="344.99">S-E</text><text x="196.60" y="355.69">S</text><text x="170.76" y="344.99">S-W</text><text x="160.06" y="319.15">W</text><text x="170.76" y="293.31">N-W</text></g></g>
<g><g stroke="#111" stroke-width="0.3" stroke-linejoin="miter"><path fill="#e0963c" d="M277.90 318.00L277.80 317.38A0.63 0.63 0 0 1 278.00 317.38Z"/><path fill="#e0963c" d="M277.90 318.00L278.05 317.39A0.63 0.63 0 0 1 278.23 317.46Z"/><path fill="#e0963c" d="M277.90 318.00L278.27 317.49A0.63 0.63 0 0 1 278.41 317.63Z"/><path fill="#e0963c" d="M277.90 318.00L278.44 317.67A0.63 0.63 0 0 1 278.51 317.85Z"/><path fill="#e0963c" d="M277.90 318.00L278.52 317.90A0.63 0.63 0 0 1 278.52 318.10Z"/><path fill="#e0963c" d="M277.90 318.00L279.13 318.29A1.26 1.26 0 0 1 278.97 318.66Z"/><path fill="#e0963c" d="M277.90 318.00L280.45 319.85A3.15 3.15 0 0 1 279.75 320.55Z"/><path fill="#f0c0f4" d="M277.90 318.00L278.72 319.34A1.58 1.58 0 0 1 278.27 319.53Z"/><path fill="#e0963c" d="M287.45 333.58A18.27 18.27 0 0 1 282.17 335.77L278.27 319.53A1.58 1.58 0 0 0 278.72 319.34Z"/><path fill="#37735a" d="M287.78 334.11A18.90 18.90 0 0 1 282.31 336.38L282.17 335.77A18.27 18.27 0 0 0 287.45 333.58Z"/><path fill="#f0c0f4" d="M277.90 318.00L278.15 319.56A1.58 1.58 0 0 1 277.65 319.56Z"/><path fill="#e0963c" d="M280.22 332.62A14.80 14.80 0 0 1 275.58 332.62L277.65 319.56A1.58 1.58 0 0 0 278.15 319.56Z"/><path fill="#f0c0f4" d="M277.90 318.00L277.53 319.53A1.58 1.58 0 0 1 277.08 319.34Z"/><path fill="#e0963c" d="M272.46 340.67A23.31 23.31 0 0 1 265.72 337.88L277.08 319.34A1.58 1.58 0 0 0 277.53 319.53Z"/><path fill="#37735a" d="M270.62 348.32A31.18 31.18 0 0 1 261.61 344.59L265.72 337.88A23.31 23.31 0 0 0 272.46 340.67Z"/><path fill="#f0c0f4" d="M277.90 318.00L276.97 319.27A1.58 1.58 0 0 1 276.63 318.93Z"/><path fill="#e0963c" d="M260.87 341.45A28.98 28.98 0 0 1 254.45 335.03L276.63 318.93A1.58 1.58 0 0 0 276.97 319.27Z"/><path fill="#f0c0f4" d="M277.90 318.00L276.83 318.66A1.26 1.26 0 0 1 276.67 318.29Z"/><path fill="#e0963c" d="M271.19 322.11A7.88 7.88 0 0 1 270.24 319.84L276.67 318.29A1.26 1.26 0 0 0 276.83 318.66Z"/><path fill="#37735a" d="M266.08 325.24A13.86 13.86 0 0 1 264.42 321.24L270.24 319.84A7.88 7.88 0 0 0 271.19 322.11Z"/><path fill="#f0c0f4" d="M277.90 318.00L276.66 318.20A1.26 1.26 0 0 1 276.66 317.80Z"/><path fill="#e0963c" d="M268.26 319.53A9.77 9.77 0 0 1 268.26 316.47L276.66 317.80A1.26 1.26 0 0 0 276.66 318.20Z"/><path fill="#37735a" d="M263.90 320.22A14.18 14.18 0 0 1 263.90 315.78L268.26 316.47A9.77 9.77 0 0 0 268.26 319.53Z"/><path fill="#06195c" d="M262.34 320.46A15.75 15.75 0 0 1 262.34 315.54L263.90 315.78A14.18 14.18 0 0 0 263.90 320.22Z"/><path fill="#f0c0f4" d="M277.90 318.00L276.98 317.78A0.94 0.94 0 0 1 277.09 317.51Z"/><path fill="#e0963c" d="M272.69 316.75A5.36 5.36 0 0 1 273.33 315.20L277.09 317.51A0.94 0.94 0 0 0 276.98 317.78Z"/><path fill="#37735a" d="M256.77 312.93A21.73 21.73 0 0 1 259.37 306.64L273.33 315.20A5.36 5.36 0 0 0 272.69 316.75Z"/><path fill="#e0963c" d="M277.90 318.00L274.84 315.78A3.78 3.78 0 0 1 275.68 314.94Z"/><path fill="#e0963c" d="M277.90 318.00L277.24 316.93A1.26 1.26 0 0 1 277.61 316.77Z"/></g><g fill="none" stroke="#c2c2c2" stroke-width="0.35"><circle cx="277.9" cy="318.0" r="6.30"/><circle cx="277.9" cy="318.0" r="12.60"/><circle cx="277.9" cy="318.0" r="18.90"/><circle cx="277.9" cy="318.0" r="25.20"/><path d="M277.9 318.0L277.90 286.50"/><path d="M277.9 318.0L300.17 295.73"/><path d="M277.9 318.0L309.40 318.00"/><path d="M277.9 318.0L300.17 340.27"/><path d="M277.9 318.0L277.90 349.50"/><path d="M277.9 318.0L255.63 340.27"/><path d="M277.9 318.0L246.40 318.00"/><path d="M277.9 318.0L255.63 295.73"/></g><circle cx="277.9" cy="318.0" r="31.5" fill="none" stroke="#2a2a2a" stroke-width="0.5"/><g class="t"><text x="289.95" y="288.80">20.6</text><text x="287.54" y="294.62">16.5</text><text x="285.13" y="300.44">12.4</text><text x="282.72" y="306.26">8.2</text><text x="280.31" y="312.08">4.1</text></g><g class="d"><text x="277.90" y="282.61">N</text><text x="303.74" y="293.31">N-E</text><text x="314.44" y="319.15">E</text><text x="303.74" y="344.99">S-E</text><text x="277.90" y="355.69">S</text><text x="252.06" y="344.99">S-W</text><text x="241.36" y="319.15">W</text><text x="252.06" y="293.31">N-W</text></g></g>
<g><g stroke="#111" stroke-width="0.3" stroke-linejoin="miter"><path fill="#e0963c" d="M355.00 318.00L354.85 317.07A0.94 0.94 0 0 1 355.15 317.07Z"/><path fill="#e0963c" d="M355.00 318.00L355.15 317.39A0.63 0.63 0 0 1 355.33 317.46Z"/><path fill="#e0963c" d="M355.00 318.00L355.37 317.49A0.63 0.63 0 0 1 355.51 317.63Z"/><path fill="#e0963c" d="M355.00 318.00L355.54 317.67A0.63 0.63 0 0 1 355.61 317.85Z"/><path fill="#e0963c" d="M355.00 318.00L355.62 317.90A0.63 0.63 0 0 1 355.62 318.10Z"/><path fill="#e0963c" d="M355.00 318.00L355.61 318.15A0.63 0.63 0 0 1 355.54 318.33Z"/><path fill="#e0963c" d="M355.00 318.00L356.27 318.93A1.58 1.58 0 0 1 355.93 319.27Z"/><path fill="#e0963c" d="M355.00 318.00L361.42 328.47A12.29 12.29 0 0 1 357.87 329.95Z"/><path fill="#e0963c" d="M355.00 318.00L357.66 334.80A17.01 17.01 0 0 1 352.34 334.80Z"/><path fill="#37735a" d="M358.01 336.98A19.21 19.21 0 0 1 351.99 336.98L352.34 334.80A17.01 17.01 0 0 0 357.66 334.80Z"/><path fill="#e0963c" d="M355.00 318.00L350.44 336.99A19.53 19.53 0 0 1 344.80 334.65Z"/><path fill="#37735a" d="M349.93 339.13A21.73 21.73 0 0 1 343.64 336.53L344.80 334.65A19.53 19.53 0 0 0 350.44 336.99Z"/><path fill="#e0963c" d="M355.00 318.00L337.41 342.21A29.92 29.92 0 0 1 330.79 335.59Z"/><path fill="#37735a" d="M336.48 343.48A31.50 31.50 0 0 1 329.52 336.52L330.79 335.59A29.92 29.92 0 0 0 337.41 342.21Z"/><path fill="#e0963c" d="M355.00 318.00L352.31 319.65A3.15 3.15 0 0 1 351.94 318.74Z"/><path fill="#e0963c" d="M355.00 318.00L354.07 318.15A0.94 0.94 0 0 1 354.07 317.85Z"/><path fill="#37735a" d="M352.51 318.39A2.52 2.52 0 0 1 352.51 317.61L354.07 317.85A0.94 0.94 0 0 0 354.07 318.15Z"/><path fill="#06195c" d="M348.78 318.99A6.30 6.30 0 0 1 348.78 317.01L352.51 317.61A2.52 2.52 0 0 0 352.51 318.39Z"/><path fill="#e0963c" d="M355.00 318.00L354.39 317.85A0.63 0.63 0 0 1 354.46 317.67Z"/><path fill="#37735a" d="M353.16 317.56A1.89 1.89 0 0 1 353.39 317.01L354.46 317.67A0.63 0.63 0 0 0 354.39 317.85Z"/><path fill="#06195c" d="M350.41 316.90A4.72 4.72 0 0 1 350.97 315.53L353.39 317.01A1.89 1.89 0 0 0 353.16 317.56Z"/><path fill="#e0963c" d="M355.00 318.00L354.49 317.63A0.63 0.63 0 0 1 354.63 317.49Z"/><path fill="#37735a" d="M352.96 316.52A2.52 2.52 0 0 1 353.52 315.96L354.63 317.49A0.63 0.63 0 0 0 354.49 317.63Z"/><path fill="#06195c" d="M351.94 315.78A3.78 3.78 0 0 1 352.78 314.94L353.52 315.96A2.52 2.52 0 0 0 352.96 316.52Z"/><path fill="#e0963c" d="M355.00 318.00L354.51 317.19A0.94 0.94 0 0 1 354.78 317.08Z"/><path fill="#37735a" d="M353.68 315.85A2.52 2.52 0 0 1 354.41 315.55L354.78 317.08A0.94 0.94 0 0 0 354.51 317.19Z"/></g><g fill="none" stroke="#c2c2c2" stroke-width="0.35"><circle cx="355.0" cy="318.0" r="6.30"/><circle cx="355.0" cy="318.0" r="12.60"/><circle cx="355.0" cy="318.0" r="18.90"/><circle cx="355.0" cy="318.0" r="25.20"/><path d="M355.0 318.0L355.00 286.50"/><path d="M355.0 318.0L377.27 295.73"/><path d="M355.0 318.0L386.50 318.00"/><path d="M355.0 318.0L377.27 340.27"/><path d="M355.0 318.0L355.00 349.50"/><path d="M355.0 318.0L332.73 340.27"/><path d="M355.0 318.0L323.50 318.00"/><path d="M355.0 318.0L332.73 295.73"/></g><circle cx="355.0" cy="318.0" r="31.5" fill="none" stroke="#2a2a2a" stroke-width="0.5"/><g class="t"><text x="367.05" y="288.80">29.9</text><text x="364.64" y="294.62">23.9</text><text x="362.23" y="300.44">17.9</text><text x="359.82" y="306.26">12.0</text><text x="357.41" y="312.08">6.0</text></g><g class="d"><text x="355.00" y="282.61">N</text><text x="380.84" y="293.31">N-E</text><text x="391.54" y="319.15">E</text><text x="380.84" y="344.99">S-E</text><text x="355.00" y="355.69">S</text><text x="329.16" y="344.99">S-W</text><text x="318.46" y="319.15">W</text><text x="329.16" y="293.31">N-W</text></g></g>
<g><g stroke="#111" stroke-width="0.3" stroke-linejoin="miter"><path fill="#e0963c" d="M432.00 318.00L431.90 317.38A0.63 0.63 0 0 1 432.10 317.38Z"/><path fill="#e0963c" d="M432.00 318.00L432.15 317.39A0.63 0.63 0 0 1 432.33 317.46Z"/><path fill="#e0963c" d="M432.00 318.00L432.37 317.49A0.63 0.63 0 0 1 432.51 317.63Z"/><path fill="#e0963c" d="M432.00 318.00L432.54 317.67A0.63 0.63 0 0 1 432.61 317.85Z"/><path fill="#e0963c" d="M432.00 318.00L432.62 317.90A0.63 0.63 0 0 1 432.62 318.10Z"/><path fill="#e0963c" d="M432.00 318.00L432.61 318.15A0.63 0.63 0 0 1 432.54 318.33Z"/><path fill="#e0963c" d="M432.00 318.00L432.51 318.37A0.63 0.63 0 0 1 432.37 318.51Z"/><path fill="#e0963c" d="M432.00 318.00L432.66 319.07A1.26 1.26 0 0 1 432.29 319.23Z"/><path fill="#e0963c" d="M432.00 318.00L432.25 319.56A1.58 1.58 0 0 1 431.75 319.56Z"/><path fill="#37735a" d="M432.74 322.67A4.72 4.72 0 0 1 431.26 322.67L431.75 319.56A1.58 1.58 0 0 0 432.25 319.56Z"/><path fill="#e0963c" d="M432.00 318.00L429.65 327.80A10.08 10.08 0 0 1 426.73 326.59Z"/><path fill="#37735a" d="M426.85 339.44A22.05 22.05 0 0 1 420.48 336.80L426.73 326.59A10.08 10.08 0 0 0 429.65 327.80Z"/><path fill="#e0963c" d="M432.00 318.00L419.78 334.82A20.79 20.79 0 0 1 415.18 330.22Z"/><path fill="#37735a" d="M413.48 343.48A31.50 31.50 0 0 1 406.52 336.52L415.18 330.22A20.79 20.79 0 0 0 419.78 334.82Z"/><path fill="#e0963c" d="M432.00 318.00L422.06 324.09A11.65 11.65 0 0 1 420.67 320.72Z"/><path fill="#e0963c" d="M432.00 318.00L430.44 318.25A1.58 1.58 0 0 1 430.44 317.75Z"/><path fill="#e0963c" d="M432.00 318.00L431.39 317.85A0.63 0.63 0 0 1 431.46 317.67Z"/><path fill="#e0963c" d="M432.00 318.00L431.49 317.63A0.63 0.63 0 0 1 431.63 317.49Z"/><path fill="#e0963c" d="M432.00 318.00L431.67 317.46A0.63 0.63 0 0 1 431.85 317.39Z"/></g><g fill="none" stroke="#c2c2c2" stroke-width="0.35"><circle cx="432.0" cy="318.0" r="6.30"/><circle cx="432.0" cy="318.0" r="12.60"/><circle cx="432.0" cy="318.0" r="18.90"/><circle cx="432.0" cy="318.0" r="25.20"/><path d="M432.0 318.0L432.00 286.50"/><path d="M432.0 318.0L454.27 295.73"/><path d="M432.0 318.0L463.50 318.00"/><path d="M432.0 318.0L454.27 340.27"/><path d="M432.0 318.0L432.00 349.50"/><path d="M432.0 318.0L409.73 340.27"/><path d="M432.0 318.0L400.50 318.00"/><path d="M432.0 318.0L409.73 295.73"/></g><circle cx="432.0" cy="318.0" r="31.5" fill="none" stroke="#2a2a2a" stroke-width="0.5"/><g class="t"><text x="444.05" y="288.80">41.0</text><text x="441.64" y="294.62">32.8</text><text x="439.23" y="300.44">24.6</text><text x="436.82" y="306.26">16.4</text><text x="434.41" y="312.08">8.2</text></g><g class="d"><text x="432.00" y="282.61">N</text><text x="457.84" y="293.31">N-E</text><text x="468.54" y="319.15">E</text><text x="457.84" y="344.99">S-E</text><text x="432.00" y="355.69">S</text><text x="406.16" y="344.99">S-W</text><text x="395.46" y="319.15">W</text><text x="406.16" y="293.31">N-W</text></g></g>
<g><g stroke="#111" stroke-width="0.3" stroke-linejoin="miter"><path fill="#e0963c" d="M42.30 397.30L41.81 394.19A3.15 3.15 0 0 1 42.79 394.19Z"/><path fill="#37735a" d="M41.46 392.01A5.36 5.36 0 0 1 43.14 392.01L42.79 394.19A3.15 3.15 0 0 0 41.81 394.19Z"/><path fill="#e0963c" d="M42.30 397.30L42.74 395.46A1.89 1.89 0 0 1 43.29 395.69Z"/><path fill="#37735a" d="M43.04 394.24A3.15 3.15 0 0 1 43.95 394.61L43.29 395.69A1.89 1.89 0 0 0 42.74 395.46Z"/><path fill="#e0963c" d="M42.30 397.30L43.41 395.77A1.89 1.89 0 0 1 43.83 396.19Z"/><path fill="#37735a" d="M44.52 394.24A3.78 3.78 0 0 1 45.36 395.08L43.83 396.19A1.89 1.89 0 0 0 43.41 395.77Z"/><path fill="#e0963c" d="M42.30 397.30L44.99 395.65A3.15 3.15 0 0 1 45.36 396.56Z"/><path fill="#37735a" d="M46.87 394.50A5.36 5.36 0 0 1 47.51 396.05L45.36 396.56A3.15 3.15 0 0 0 44.99 395.65Z"/><path fill="#06195c" d="M48.21 393.68A6.93 6.93 0 0 1 49.04 395.68L47.51 396.05A5.36 5.36 0 0 0 46.87 394.50Z"/><path fill="#e0963c" d="M42.30 397.30L48.52 396.31A6.30 6.30 0 0 1 48.52 398.29Z"/><path fill="#37735a" d="M51.32 395.87A9.13 9.13 0 0 1 51.32 398.73L48.52 398.29A6.30 6.30 0 0 0 48.52 396.31Z"/><path fill="#06195c" d="M53.81 395.48A11.65 11.65 0 0 1 53.81 399.12L51.32 398.73A9.13 9.13 0 0 0 51.32 395.87Z"/><path fill="#e0963c" d="M42.30 397.30L52.71 399.80A10.71 10.71 0 0 1 51.43 402.90Z"/><path fill="#37735a" d="M60.98 401.79A19.21 19.21 0 0 1 58.68 407.34L51.43 402.90A10.71 10.71 0 0 0 52.71 399.80Z"/><path fill="#06195c" d="M63.74 402.45A22.05 22.05 0 0 1 61.10 408.82L58.68 407.34A19.21 19.21 0 0 0 60.98 401.79Z"/><path fill="#e0963c" d="M42.30 397.30L48.93 402.11A8.19 8.19 0 0 1 47.11 403.93Z"/><path fill="#37735a" d="M57.34 408.22A18.58 18.58 0 0 1 53.22 412.34L47.11 403.93A8.19 8.19 0 0 0 48.93 402.11Z"/><path fill="#06195c" d="M58.61 409.15A20.16 20.16 0 0 1 54.15 413.61L53.22 412.34A18.58 18.58 0 0 0 57.34 408.22Z"/><path fill="#e0963c" d="M42.30 397.30L46.09 403.48A7.25 7.25 0 0 1 43.99 404.34Z"/><path fill="#37735a" d="M47.90 406.43A10.71 10.71 0 0 1 44.80 407.71L43.99 404.34A7.25 7.25 0 0 0 46.09 403.48Z"/><path fill="#06195c" d="M49.87 409.65A14.49 14.49 0 0 1 45.68 411.39L44.80 407.71A10.71 10.71 0 0 0 47.90 406.43Z"/><path fill="#e0963c" d="M42.30 397.30L43.04 401.97A4.72 4.72 0 0 1 41.56 401.97Z"/><path fill="#37735a" d="M43.53 405.08A7.88 7.88 0 0 1 41.07 405.08L41.56 401.97A4.72 4.72 0 0 0 43.04 401.97Z"/><path fill="#e0963c" d="M42.30 397.30L41.20 401.89A4.72 4.72 0 0 1 39.83 401.33Z"/><path fill="#37735a" d="M40.39 405.26A8.19 8.19 0 0 1 38.02 404.28L39.83 401.33A4.72 4.72 0 0 0 41.20 401.89Z"/><path fill="#e0963c" d="M42.30 397.30L39.52 401.12A4.72 4.72 0 0 1 38.48 400.08Z"/><path fill="#37735a" d="M36.93 404.69A9.13 9.13 0 0 1 34.91 402.67L38.48 400.08A4.72 4.72 0 0 0 39.52 401.12Z"/><path fill="#e0963c" d="M42.30 397.30L31.29 404.05A12.91 12.91 0 0 1 29.74 400.31Z"/><path fill="#37735a" d="M22.16 409.64A23.62 23.62 0 0 1 19.33 402.82L29.74 400.31A12.91 12.91 0 0 0 31.29 404.05Z"/><path fill="#e0963c" d="M42.30 397.30L14.92 401.64A27.72 27.72 0 0 1 14.92 392.96Z"/><path fill="#37735a" d="M11.19 402.23A31.50 31.50 0 0 1 11.19 392.37L14.92 392.96A27.72 27.72 0 0 0 14.92 401.64Z"/><path fill="#e0963c" d="M42.30 397.30L34.64 395.46A7.88 7.88 0 0 1 35.59 393.19Z"/><path fill="#37735a" d="M30.66 394.51A11.97 11.97 0 0 1 32.09 391.05L35.59 393.19A7.88 7.88 0 0 0 34.64 395.46Z"/><path fill="#e0963c" d="M42.30 397.30L38.48 394.52A4.72 4.72 0 0 1 39.52 393.48Z"/><path fill="#37735a" d="M37.20 393.60A6.30 6.30 0 0 1 38.60 392.20L39.52 393.48A4.72 4.72 0 0 0 38.48 394.52Z"/><path fill="#e0963c" d="M42.30 397.30L39.34 392.47A5.67 5.67 0 0 1 40.98 391.79Z"/><path fill="#37735a" d="M36.37 387.63A11.34 11.34 0 0 1 39.65 386.27L40.98 391.79A5.67 5.67 0 0 0 39.34 392.47Z"/></g><g fill="none" stroke="#c2c2c2" stroke-width="0.35"><circle cx="42.3" cy="397.3" r="6.30"/><circle cx="42.3" cy="397.3" r="12.60"/><circle cx="42.3" cy="397.3" r="18.90"/><circle cx="42.3" cy="397.3" r="25.20"/><path d="M42.3 397.3L42.30 365.80"/><path d="M42.3 397.3L64.57 375.03"/><path d="M42.3 397.3L73.80 397.30"/><path d="M42.3 397.3L64.57 419.57"/><path d="M42.3 397.3L42.30 428.80"/><path d="M42.3 397.3L20.03 419.57"/><path d="M42.3 397.3L10.80 397.30"/><path d="M42.3 397.3L20.03 375.03"/></g><circle cx="42.3" cy="397.3" r="31.5" fill="none" stroke="#2a2a2a" stroke-width="0.5"/><g class="t"><text x="54.35" y="368.10">15.6</text><text x="51.94" y="373.92">12.5</text><text x="49.53" y="379.74">9.4</text><text x="47.12" y="385.56">6.2</text><text x="44.71" y="391.38">3.1</text></g><g class="d"><text x="42.30" y="361.91">N</text><text x="68.14" y="372.61">N-E</text><text x="78.84" y="398.45">E</text><text x="68.14" y="424.29">S-E</text><text x="42.30" y="434.99">S</text><text x="16.46" y="424.29">S-W</text><text x="5.76" y="398.45">W</text><text x="16.46" y="372.61">N-W</text></g></g>
<g><g stroke="#111" stroke-width="0.3" stroke-linejoin="miter"><path fill="#e0963c" d="M119.50 397.30L119.01 394.19A3.15 3.15 0 0 1 119.99 394.19Z"/><path fill="#37735a" d="M118.07 388.28A9.13 9.13 0 0 1 120.93 388.28L119.99 394.19A3.15 3.15 0 0 0 119.01 394.19Z"/><path fill="#e0963c" d="M119.50 397.30L119.79 396.07A1.26 1.26 0 0 1 120.16 396.23Z"/><path fill="#37735a" d="M120.38 393.62A3.78 3.78 0 0 1 121.48 394.08L120.16 396.23A1.26 1.26 0 0 0 119.79 396.07Z"/><path fill="#e0963c" d="M119.50 397.30L120.06 396.54A0.94 0.94 0 0 1 120.26 396.74Z"/><path fill="#37735a" d="M121.35 394.75A3.15 3.15 0 0 1 122.05 395.45L120.26 396.74A0.94 0.94 0 0 0 120.06 396.54Z"/><path fill="#e0963c" d="M119.50 397.30L120.57 396.64A1.26 1.26 0 0 1 120.73 397.01Z"/><path fill="#37735a" d="M124.07 394.50A5.36 5.36 0 0 1 124.71 396.05L120.73 397.01A1.26 1.26 0 0 0 120.57 396.64Z"/><path fill="#06195c" d="M128.90 391.54A11.02 11.02 0 0 1 130.22 394.73L124.71 396.05A5.36 5.36 0 0 0 124.07 394.50Z"/><path fill="#e0963c" d="M119.50 397.30L121.06 397.05A1.58 1.58 0 0 1 121.06 397.55Z"/><path fill="#37735a" d="M125.10 396.41A5.67 5.67 0 0 1 125.10 398.19L121.06 397.55A1.58 1.58 0 0 0 121.06 397.05Z"/><path fill="#06195c" d="M126.66 396.17A7.25 7.25 0 0 1 126.66 398.43L125.10 398.19A5.67 5.67 0 0 0 125.10 396.41Z"/><path fill="#e0963c" d="M119.50 397.30L122.56 398.04A3.15 3.15 0 0 1 122.19 398.95Z"/><path fill="#37735a" d="M129.61 399.73A10.40 10.40 0 0 1 128.36 402.73L122.19 398.95A3.15 3.15 0 0 0 122.56 398.04Z"/><path fill="#06195c" d="M144.31 403.26A25.52 25.52 0 0 1 141.26 410.63L128.36 402.73A10.40 10.40 0 0 0 129.61 399.73Z"/><path fill="#e0963c" d="M119.50 397.30L122.56 399.52A3.78 3.78 0 0 1 121.72 400.36Z"/><path fill="#37735a" d="M130.46 405.26A13.54 13.54 0 0 1 127.46 408.26L121.72 400.36A3.78 3.78 0 0 0 122.56 399.52Z"/><path fill="#06195c" d="M132.24 406.56A15.75 15.75 0 0 1 128.76 410.04L127.46 408.26A13.54 13.54 0 0 0 130.46 405.26Z"/><path fill="#e0963c" d="M119.50 397.30L127.73 410.73A15.75 15.75 0 0 1 123.18 412.61Z"/><path fill="#37735a" d="M135.14 422.82A29.92 29.92 0 0 1 126.49 426.40L123.18 412.61A15.75 15.75 0 0 0 127.73 410.73Z"/><path fill="#06195c" d="M135.96 424.16A31.50 31.50 0 0 1 126.85 427.93L126.49 426.40A29.92 29.92 0 0 0 135.14 422.82Z"/><path fill="#e0963c" d="M119.50 397.30L121.72 411.30A14.18 14.18 0 0 1 117.28 411.30Z"/><path fill="#37735a" d="M122.51 416.28A19.21 19.21 0 0 1 116.49 416.28L117.28 411.30A14.18 14.18 0 0 0 121.72 411.30Z"/><path fill="#e0963c" d="M119.50 397.30L118.62 400.98A3.78 3.78 0 0 1 117.52 400.52Z"/><path fill="#37735a" d="M116.49 409.86A12.91 12.91 0 0 1 112.75 408.31L117.52 400.52A3.78 3.78 0 0 0 118.62 400.98Z"/><path fill="#06195c" d="M114.94 416.29A19.53 19.53 0 0 1 109.30 413.95L112.75 408.31A12.91 12.91 0 0 0 116.49 409.86Z"/><path fill="#e0963c" d="M119.50 397.30L118.39 398.83A1.89 1.89 0 0 1 117.97 398.41Z"/><path fill="#37735a" d="M113.58 405.45A10.08 10.08 0 0 1 111.35 403.22L117.97 398.41A1.89 1.89 0 0 0 118.39 398.83Z"/><path fill="#06195c" d="M112.09 407.49A12.60 12.60 0 0 1 109.31 404.71L111.35 403.22A10.08 10.08 0 0 0 113.58 405.45Z"/><path fill="#e0963c" d="M119.50 397.30L118.16 398.12A1.58 1.58 0 0 1 117.97 397.67Z"/><path fill="#37735a" d="M115.47 399.77A4.72 4.72 0 0 1 114.91 398.40L117.97 397.67A1.58 1.58 0 0 0 118.16 398.12Z"/><path fill="#e0963c" d="M119.50 397.30L117.63 397.60A1.89 1.89 0 0 1 117.63 397.00Z"/><path fill="#37735a" d="M113.28 398.29A6.30 6.30 0 0 1 113.28 396.31L117.63 397.00A1.89 1.89 0 0 0 117.63 397.60Z"/><path fill="#e0963c" d="M119.50 397.30L118.27 397.01A1.26 1.26 0 0 1 118.43 396.64Z"/><path fill="#37735a" d="M116.44 396.56A3.15 3.15 0 0 1 116.81 395.65L118.43 396.64A1.26 1.26 0 0 0 118.27 397.01Z"/><path fill="#e0963c" d="M119.50 397.30L118.74 396.74A0.94 0.94 0 0 1 118.94 396.54Z"/><path fill="#37735a" d="M117.46 395.82A2.52 2.52 0 0 1 118.02 395.26L118.94 396.54A0.94 0.94 0 0 0 118.74 396.74Z"/><path fill="#e0963c" d="M119.50 397.30L118.68 395.96A1.58 1.58 0 0 1 119.13 395.77Z"/><path fill="#37735a" d="M116.54 392.47A5.67 5.67 0 0 1 118.18 391.79L119.13 395.77A1.58 1.58 0 0 0 118.68 395.96Z"/><path fill="#06195c" d="M115.55 390.85A7.56 7.56 0 0 1 117.74 389.95L118.18 391.79A5.67 5.67 0 0 0 116.54 392.47Z"/></g><g fill="none" stroke="#c2c2c2" stroke-width="0.35"><circle cx="119.5" cy="397.3" r="6.30"/><circle cx="119.5" cy="397.3" r="12.60"/><circle cx="119.5" cy="397.3" r="18.90"/><circle cx="119.5" cy="397.3" r="25.20"/><path d="M119.5 397.3L119.50 365.80"/><path d="M119.5 397.3L141.77 375.03"/><path d="M119.5 397.3L151.00 397.30"/><path d="M119.5 397.3L141.77 419.57"/><path d="M119.5 397.3L119.50 428.80"/><path d="M119.5 397.3L97.23 419.57"/><path d="M119.5 397.3L88.00 397.30"/><path d="M119.5 397.3L97.23 375.03"/></g><circle cx="119.5" cy="397.3" r="31.5" fill="none" stroke="#2a2a2a" stroke-width="0.5"/><g class="t"><text x="131.55" y="368.10">16.7</text><text x="129.14" y="373.92">13.4</text><text x="126.73" y="379.74">10.0</text><text x="124.32" y="385.56">6.7</text><text x="121.91" y="391.38">3.3</text></g><g class="d"><text x="119.50" y="361.91">N</text><text x="145.34" y="372.61">N-E</text><text x="156.04" y="398.45">E</text><text x="145.34" y="424.29">S-E</text><text x="119.50" y="434.99">S</text><text x="93.66" y="424.29">S-W</text><text x="82.96" y="398.45">W</text><text x="93.66" y="372.61">N-W</text></g></g>
<g><g stroke="#111" stroke-width="0.3" stroke-linejoin="miter"><path fill="#f0c0f4" d="M196.60 397.30L196.30 395.43A1.89 1.89 0 0 1 196.90 395.43Z"/><path fill="#e0963c" d="M196.11 394.19A3.15 3.15 0 0 1 197.09 394.19L196.90 395.43A1.89 1.89 0 0 0 196.30 395.43Z"/><path fill="#f0c0f4" d="M196.60 397.30L196.97 395.77A1.58 1.58 0 0 1 197.42 395.96Z"/><path fill="#e0963c" d="M197.34 394.24A3.15 3.15 0 0 1 198.25 394.61L197.42 395.96A1.58 1.58 0 0 0 196.97 395.77Z"/><path fill="#f0c0f4" d="M196.60 397.30L197.53 396.03A1.58 1.58 0 0 1 197.87 396.37Z"/><path fill="#e0963c" d="M199.38 393.48A4.72 4.72 0 0 1 200.42 394.52L197.87 396.37A1.58 1.58 0 0 0 197.53 396.03Z"/><path fill="#37735a" d="M200.67 391.69A6.93 6.93 0 0 1 202.21 393.23L200.42 394.52A4.72 4.72 0 0 0 199.38 393.48Z"/><path fill="#f0c0f4" d="M196.60 397.30L197.94 396.48A1.58 1.58 0 0 1 198.13 396.93Z"/><path fill="#e0963c" d="M199.29 395.65A3.15 3.15 0 0 1 199.66 396.56L198.13 396.93A1.58 1.58 0 0 0 197.94 396.48Z"/><path fill="#f0c0f4" d="M196.60 397.30L199.71 396.81A3.15 3.15 0 0 1 199.71 397.79Z"/><path fill="#e0963c" d="M202.82 396.31A6.30 6.30 0 0 1 202.82 398.29L199.71 397.79A3.15 3.15 0 0 0 199.71 396.81Z"/><path fill="#f0c0f4" d="M196.60 397.30L199.66 398.04A3.15 3.15 0 0 1 199.29 398.95Z"/><path fill="#e0963c" d="M205.79 399.51A9.45 9.45 0 0 1 204.66 402.24L199.29 398.95A3.15 3.15 0 0 0 199.66 398.04Z"/><path fill="#f0c0f4" d="M196.60 397.30L199.15 399.15A3.15 3.15 0 0 1 198.45 399.85Z"/><path fill="#e0963c" d="M202.97 401.93A7.88 7.88 0 0 1 201.23 403.67L198.45 399.85A3.15 3.15 0 0 0 199.15 399.15Z"/><path fill="#37735a" d="M204.25 402.85A9.45 9.45 0 0 1 202.15 404.95L201.23 403.67A7.88 7.88 0 0 0 202.97 401.93Z"/><path fill="#f0c0f4" d="M196.60 397.30L198.58 400.52A3.78 3.78 0 0 1 197.48 400.98Z"/><path fill="#e0963c" d="M199.89 402.67A6.30 6.30 0 0 1 198.07 403.43L197.48 400.98A3.78 3.78 0 0 0 198.58 400.52Z"/><path fill="#f0c0f4" d="M196.60 397.30L197.34 401.97A4.72 4.72 0 0 1 195.86 401.97Z"/><path fill="#e0963c" d="M200.54 422.19A25.20 25.20 0 0 1 192.66 422.19L195.86 401.97A4.72 4.72 0 0 0 197.34 401.97Z"/><path fill="#f0c0f4" d="M196.60 397.30L195.50 401.89A4.72 4.72 0 0 1 194.13 401.33Z"/><path fill="#e0963c" d="M190.13 424.25A27.72 27.72 0 0 1 182.12 420.94L194.13 401.33A4.72 4.72 0 0 0 195.50 401.89Z"/><path fill="#f0c0f4" d="M196.60 397.30L193.82 401.12A4.72 4.72 0 0 1 192.78 400.08Z"/><path fill="#e0963c" d="M188.82 408.00A13.23 13.23 0 0 1 185.90 405.08L192.78 400.08A4.72 4.72 0 0 0 193.82 401.12Z"/><path fill="#f0c0f4" d="M196.60 397.30L193.91 398.95A3.15 3.15 0 0 1 193.54 398.04Z"/><path fill="#e0963c" d="M191.23 400.59A6.30 6.30 0 0 1 190.47 398.77L193.54 398.04A3.15 3.15 0 0 0 193.91 398.95Z"/><path fill="#37735a" d="M189.89 401.41A7.88 7.88 0 0 1 188.94 399.14L190.47 398.77A6.30 6.30 0 0 0 191.23 400.59Z"/><path fill="#f0c0f4" d="M196.60 397.30L192.87 397.89A3.78 3.78 0 0 1 192.87 396.71Z"/><path fill="#e0963c" d="M180.73 399.81A16.07 16.07 0 0 1 180.73 394.79L192.87 396.71A3.78 3.78 0 0 0 192.87 397.89Z"/><path fill="#37735a" d="M177.31 400.36A19.53 19.53 0 0 1 177.31 394.24L180.73 394.79A16.07 16.07 0 0 0 180.73 399.81Z"/><path fill="#f0c0f4" d="M196.60 397.30L192.92 396.42A3.78 3.78 0 0 1 193.38 395.32Z"/><path fill="#e0963c" d="M174.85 392.08A22.36 22.36 0 0 1 177.53 385.61L193.38 395.32A3.78 3.78 0 0 0 192.92 396.42Z"/><path fill="#37735a" d="M165.97 389.95A31.50 31.50 0 0 1 169.74 380.84L177.53 385.61A22.36 22.36 0 0 0 174.85 392.08Z"/><path fill="#f0c0f4" d="M196.60 397.30L194.05 395.45A3.15 3.15 0 0 1 194.75 394.75Z"/><path fill="#e0963c" d="M177.74 383.60A23.31 23.31 0 0 1 182.90 378.44L194.75 394.75A3.15 3.15 0 0 0 194.05 395.45Z"/><path fill="#f0c0f4" d="M196.60 397.30L195.28 395.15A2.52 2.52 0 0 1 196.01 394.85Z"/><path fill="#e0963c" d="M192.49 390.59A7.88 7.88 0 0 1 194.76 389.64L196.01 394.85A2.52 2.52 0 0 0 195.28 395.15Z"/></g><g fill="none" stroke="#c2c2c2" stroke-width="0.35"><circle cx="196.6" cy="397.3" r="6.30"/><circle cx="196.6" cy="397.3" r="12.60"/><circle cx="196.6" cy="397.3" r="18.90"/><circle cx="196.6" cy="397.3" r="25.20"/><path d="M196.6 397.3L196.60 365.80"/><path d="M196.6 397.3L218.87 375.03"/><path d="M196.6 397.3L228.10 397.30"/><path d="M196.6 397.3L218.87 419.57"/><path d="M196.6 397.3L196.60 428.80"/><path d="M196.6 397.3L174.33 419.57"/><path d="M196.6 397.3L165.10 397.30"/><path d="M196.6 397.3L174.33 375.03"/></g><circle cx="196.6" cy="397.3" r="31.5" fill="none" stroke="#2a2a2a" stroke-width="0.5"/><g class="t"><text x="208.65" y="368.10">15.5</text><text x="206.24" y="373.92">12.4</text><text x="203.83" y="379.74">9.3</text><text x="201.42" y="385.56">6.2</text><text x="199.01" y="391.38">3.1</text></g><g class="d"><text x="196.60" y="361.91">N</text><text x="222.44" y="372.61">N-E</text><text x="233.14" y="398.45">E</text><text x="222.44" y="424.29">S-E</text><text x="196.60" y="434.99">S</text><text x="170.76" y="424.29">S-W</text><text x="160.06" y="398.45">W</text><text x="170.76" y="372.61">N-W</text></g></g>
<g><g stroke="#111" stroke-width="0.3" stroke-linejoin="miter"><path fill="#f0c0f4" d="M277.90 397.30L277.65 395.74A1.58 1.58 0 0 1 278.15 395.74Z"/><path fill="#e0963c" d="M277.41 394.19A3.15 3.15 0 0 1 278.39 394.19L278.15 395.74A1.58 1.58 0 0 0 277.65 395.74Z"/><path fill="#f0c0f4" d="M277.90 397.30L278.12 396.38A0.94 0.94 0 0 1 278.39 396.49Z"/><path fill="#e0963c" d="M278.27 395.77A1.58 1.58 0 0 1 278.72 395.96L278.39 396.49A0.94 0.94 0 0 0 278.12 396.38Z"/><path fill="#f0c0f4" d="M277.90 397.30L278.46 396.54A0.94 0.94 0 0 1 278.66 396.74Z"/><path fill="#e0963c" d="M278.83 396.03A1.58 1.58 0 0 1 279.17 396.37L278.66 396.74A0.94 0.94 0 0 0 278.46 396.54Z"/><path fill="#f0c0f4" d="M277.90 397.30L278.71 396.81A0.94 0.94 0 0 1 278.82 397.08Z"/><path fill="#e0963c" d="M279.24 396.48A1.58 1.58 0 0 1 279.43 396.93L278.82 397.08A0.94 0.94 0 0 0 278.71 396.81Z"/><path fill="#f0c0f4" d="M277.90 397.30L278.83 397.15A0.94 0.94 0 0 1 278.83 397.45Z"/><path fill="#e0963c" d="M279.77 397.00A1.89 1.89 0 0 1 279.77 397.60L278.83 397.45A0.94 0.94 0 0 0 278.83 397.15Z"/><path fill="#f0c0f4" d="M277.90 397.30L278.82 397.52A0.94 0.94 0 0 1 278.71 397.79Z"/><path fill="#e0963c" d="M279.74 397.74A1.89 1.89 0 0 1 279.51 398.29L278.71 397.79A0.94 0.94 0 0 0 278.82 397.52Z"/><path fill="#f0c0f4" d="M277.90 397.30L278.66 397.86A0.94 0.94 0 0 1 278.46 398.06Z"/><path fill="#e0963c" d="M279.17 398.23A1.58 1.58 0 0 1 278.83 398.57L278.46 398.06A0.94 0.94 0 0 0 278.66 397.86Z"/><path fill="#f0c0f4" d="M277.90 397.30L278.39 398.11A0.94 0.94 0 0 1 278.12 398.22Z"/><path fill="#e0963c" d="M278.89 398.91A1.89 1.89 0 0 1 278.34 399.14L278.12 398.22A0.94 0.94 0 0 0 278.39 398.11Z"/><path fill="#f0c0f4" d="M277.90 397.30L278.20 399.17A1.89 1.89 0 0 1 277.60 399.17Z"/><path fill="#e0963c" d="M278.39 400.41A3.15 3.15 0 0 1 277.41 400.41L277.60 399.17A1.89 1.89 0 0 0 278.20 399.17Z"/><path fill="#f0c0f4" d="M277.90 397.30L277.16 400.36A3.15 3.15 0 0 1 276.25 399.99Z"/><path fill="#e0963c" d="M275.25 408.33A11.34 11.34 0 0 1 271.97 406.97L276.25 399.99A3.15 3.15 0 0 0 277.16 400.36Z"/><path fill="#f0c0f4" d="M277.90 397.30L276.42 399.34A2.52 2.52 0 0 1 275.86 398.78Z"/><path fill="#e0963c" d="M273.27 403.67A7.88 7.88 0 0 1 271.53 401.93L275.86 398.78A2.52 2.52 0 0 0 276.42 399.34Z"/><path fill="#f0c0f4" d="M277.90 397.30L275.75 398.62A2.52 2.52 0 0 1 275.45 397.89Z"/><path fill="#e0963c" d="M269.04 402.73A10.40 10.40 0 0 1 267.79 399.73L275.45 397.89A2.52 2.52 0 0 0 275.75 398.62Z"/><path fill="#f0c0f4" d="M277.90 397.30L274.79 397.79A3.15 3.15 0 0 1 274.79 396.81Z"/><path fill="#e0963c" d="M263.90 399.52A14.18 14.18 0 0 1 263.90 395.08L274.79 396.81A3.15 3.15 0 0 0 274.79 397.79Z"/><path fill="#37735a" d="M258.92 400.31A19.21 19.21 0 0 1 258.92 394.29L263.90 395.08A14.18 14.18 0 0 0 263.90 399.52Z"/><path fill="#06195c" d="M246.79 402.23A31.50 31.50 0 0 1 246.79 392.37L258.92 394.29A19.21 19.21 0 0 0 258.92 400.31Z"/><path fill="#f0c0f4" d="M277.90 397.30L275.45 396.71A2.52 2.52 0 0 1 275.75 395.98Z"/><path fill="#e0963c" d="M269.02 395.17A9.13 9.13 0 0 1 270.11 392.53L275.75 395.98A2.52 2.52 0 0 0 275.45 396.71Z"/><path fill="#37735a" d="M265.34 394.29A12.91 12.91 0 0 1 266.89 390.55L270.11 392.53A9.13 9.13 0 0 0 269.02 395.17Z"/><path fill="#06195c" d="M255.23 391.86A23.31 23.31 0 0 1 258.02 385.12L266.89 390.55A12.91 12.91 0 0 0 265.34 394.29Z"/><path fill="#f0c0f4" d="M277.90 397.30L276.37 396.19A1.89 1.89 0 0 1 276.79 395.77Z"/><path fill="#e0963c" d="M267.96 390.08A12.29 12.29 0 0 1 270.68 387.36L276.79 395.77A1.89 1.89 0 0 0 276.37 396.19Z"/><path fill="#06195c" d="M264.90 387.86A16.07 16.07 0 0 1 268.46 384.30L270.68 387.36A12.29 12.29 0 0 0 267.96 390.08Z"/><path fill="#f0c0f4" d="M277.90 397.30L277.08 395.96A1.58 1.58 0 0 1 277.53 395.77Z"/><path fill="#e0963c" d="M276.25 394.61A3.15 3.15 0 0 1 277.16 394.24L277.53 395.77A1.58 1.58 0 0 0 277.08 395.96Z"/></g><g fill="none" stroke="#c2c2c2" stroke-width="0.35"><circle cx="277.9" cy="397.3" r="6.30"/><circle cx="277.9" cy="397.3" r="12.60"/><circle cx="277.9" cy="397.3" r="18.90"/><circle cx="277.9" cy="397.3" r="25.20"/><path d="M277.9 397.3L277.90 365.80"/><path d="M277.9 397.3L300.17 375.03"/><path d="M277.9 397.3L309.40 397.30"/><path d="M277.9 397.3L300.17 419.57"/><path d="M277.9 397.3L277.90 428.80"/><path d="M277.9 397.3L255.63 419.57"/><path d="M277.9 397.3L246.40 397.30"/><path d="M277.9 397.3L255.63 375.03"/></g><circle cx="277.9" cy="397.3" r="31.5" fill="none" stroke="#2a2a2a" stroke-width="0.5"/><g class="t"><text x="289.95" y="368.10">25.1</text><text x="287.54" y="373.92">20.1</text><text x="285.13" y="379.74">15.1</text><text x="282.72" y="385.56">10.0</text><text x="280.31" y="391.38">5.0</text></g><g class="d"><text x="277.90" y="361.91">N</text><text x="303.74" y="372.61">N-E</text><text x="314.44" y="398.45">E</text><text x="303.74" y="424.29">S-E</text><text x="277.90" y="434.99">S</text><text x="252.06" y="424.29">S-W</text><text x="241.36" y="398.45">W</text><text x="252.06" y="372.61">N-W</text></g></g>
<g><g stroke="#111" stroke-width="0.3" stroke-linejoin="miter"><path fill="#e0963c" d="M355.00 397.30L354.80 396.06A1.26 1.26 0 0 1 355.20 396.06Z"/><path fill="#e0963c" d="M355.00 397.30L355.15 396.69A0.63 0.63 0 0 1 355.33 396.76Z"/><path fill="#e0963c" d="M355.00 397.30L355.37 396.79A0.63 0.63 0 0 1 355.51 396.93Z"/><path fill="#e0963c" d="M355.00 397.30L355.54 396.97A0.63 0.63 0 0 1 355.61 397.15Z"/><path fill="#e0963c" d="M355.00 397.30L355.62 397.20A0.63 0.63 0 0 1 355.62 397.40Z"/><path fill="#e0963c" d="M355.00 397.30L355.61 397.45A0.63 0.63 0 0 1 355.54 397.63Z"/><path fill="#e0963c" d="M355.00 397.30L355.51 397.67A0.63 0.63 0 0 1 355.37 397.81Z"/><path fill="#e0963c" d="M355.00 397.30L355.82 398.64A1.58 1.58 0 0 1 355.37 398.83Z"/><path fill="#f0c0f4" d="M355.00 397.30L355.15 398.23A0.94 0.94 0 0 1 354.85 398.23Z"/><path fill="#e0963c" d="M356.08 404.14A6.93 6.93 0 0 1 353.92 404.14L354.85 398.23A0.94 0.94 0 0 0 355.15 398.23Z"/><path fill="#f0c0f4" d="M355.00 397.30L354.78 398.22A0.94 0.94 0 0 1 354.51 398.11Z"/><path fill="#e0963c" d="M352.43 408.02A11.02 11.02 0 0 1 349.24 406.70L354.51 398.11A0.94 0.94 0 0 0 354.78 398.22Z"/><path fill="#f0c0f4" d="M355.00 397.30L354.44 398.06A0.94 0.94 0 0 1 354.24 397.86Z"/><path fill="#e0963c" d="M350.93 402.91A6.93 6.93 0 0 1 349.39 401.37L354.24 397.86A0.94 0.94 0 0 0 354.44 398.06Z"/><path fill="#f0c0f4" d="M355.00 397.30L354.19 397.79A0.94 0.94 0 0 1 354.08 397.52Z"/><path fill="#e0963c" d="M345.60 403.06A11.02 11.02 0 0 1 344.28 399.87L354.08 397.52A0.94 0.94 0 0 0 354.19 397.79Z"/><path fill="#06195c" d="M344.26 403.88A12.60 12.60 0 0 1 342.75 400.24L344.28 399.87A11.02 11.02 0 0 0 345.60 403.06Z"/><path fill="#f0c0f4" d="M355.00 397.30L353.76 397.50A1.26 1.26 0 0 1 353.76 397.10Z"/><path fill="#e0963c" d="M330.73 401.14A24.57 24.57 0 0 1 330.73 393.46L353.76 397.10A1.26 1.26 0 0 0 353.76 397.50Z"/><path fill="#37735a" d="M323.89 402.23A31.50 31.50 0 0 1 323.89 392.37L330.73 393.46A24.57 24.57 0 0 0 330.73 401.14Z"/><path fill="#f0c0f4" d="M355.00 397.30L354.08 397.08A0.94 0.94 0 0 1 354.19 396.81Z"/><path fill="#e0963c" d="M348.26 395.68A6.93 6.93 0 0 1 349.09 393.68L354.19 396.81A0.94 0.94 0 0 0 354.08 397.08Z"/><path fill="#06195c" d="M346.73 395.31A8.51 8.51 0 0 1 347.75 392.86L349.09 393.68A6.93 6.93 0 0 0 348.26 395.68Z"/><path fill="#e0963c" d="M355.00 397.30L353.47 396.19A1.89 1.89 0 0 1 353.89 395.77Z"/><path fill="#e0963c" d="M355.00 397.30L354.34 396.23A1.26 1.26 0 0 1 354.71 396.07Z"/></g><g fill="none" stroke="#c2c2c2" stroke-width="0.35"><circle cx="355.0" cy="397.3" r="6.30"/><circle cx="355.0" cy="397.3" r="12.60"/><circle cx="355.0" cy="397.3" r="18.90"/><circle cx="355.0" cy="397.3" r="25.20"/><path d="M355.0 397.3L355.00 365.80"/><path d="M355.0 397.3L377.27 375.03"/><path d="M355.0 397.3L386.50 397.30"/><path d="M355.0 397.3L377.27 419.57"/><path d="M355.0 397.3L355.00 428.80"/><path d="M355.0 397.3L332.73 419.57"/><path d="M355.0 397.3L323.50 397.30"/><path d="M355.0 397.3L332.73 375.03"/></g><circle cx="355.0" cy="397.3" r="31.5" fill="none" stroke="#2a2a2a" stroke-width="0.5"/><g class="t"><text x="367.05" y="368.10">38.4</text><text x="364.64" y="373.92">30.7</text><text x="362.23" y="379.74">23.0</text><text x="359.82" y="385.56">15.4</text><text x="357.41" y="391.38">7.7</text></g><g class="d"><text x="355.00" y="361.91">N</text><text x="380.84" y="372.61">N-E</text><text x="391.54" y="398.45">E</text><text x="380.84" y="424.29">S-E</text><text x="355.00" y="434.99">S</text><text x="329.16" y="424.29">S-W</text><text x="318.46" y="398.45">W</text><text x="329.16" y="372.61">N-W</text></g></g>
<g><g stroke="#111" stroke-width="0.3" stroke-linejoin="miter"><path fill="#f0c0f4" d="M432.00 397.30L431.85 396.37A0.94 0.94 0 0 1 432.15 396.37Z"/><path fill="#e0963c" d="M431.26 392.63A4.72 4.72 0 0 1 432.74 392.63L432.15 396.37A0.94 0.94 0 0 0 431.85 396.37Z"/><path fill="#37735a" d="M430.13 385.48A11.97 11.97 0 0 1 433.87 385.48L432.74 392.63A4.72 4.72 0 0 0 431.26 392.63Z"/><path fill="#e0963c" d="M432.00 397.30L432.37 395.77A1.58 1.58 0 0 1 432.82 395.96Z"/><path fill="#e0963c" d="M432.00 397.30L432.56 396.54A0.94 0.94 0 0 1 432.76 396.74Z"/><path fill="#e0963c" d="M432.00 397.30L432.54 396.97A0.63 0.63 0 0 1 432.61 397.15Z"/><path fill="#e0963c" d="M432.00 397.30L432.62 397.20A0.63 0.63 0 0 1 432.62 397.40Z"/><path fill="#e0963c" d="M432.00 397.30L432.61 397.45A0.63 0.63 0 0 1 432.54 397.63Z"/><path fill="#e0963c" d="M432.00 397.30L432.51 397.67A0.63 0.63 0 0 1 432.37 397.81Z"/><path fill="#e0963c" d="M432.00 397.30L432.82 398.64A1.58 1.58 0 0 1 432.37 398.83Z"/><path fill="#f0c0f4" d="M432.00 397.30L432.49 400.41A3.15 3.15 0 0 1 431.51 400.41Z"/><path fill="#e0963c" d="M432.99 403.52A6.30 6.30 0 0 1 431.01 403.52L431.51 400.41A3.15 3.15 0 0 0 432.49 400.41Z"/><path fill="#f0c0f4" d="M432.00 397.30L431.12 400.98A3.78 3.78 0 0 1 430.02 400.52Z"/><path fill="#e0963c" d="M430.24 404.65A7.56 7.56 0 0 1 428.05 403.75L430.02 400.52A3.78 3.78 0 0 0 431.12 400.98Z"/><path fill="#f0c0f4" d="M432.00 397.30L429.78 400.36A3.78 3.78 0 0 1 428.94 399.52Z"/><path fill="#e0963c" d="M425.52 406.22A11.02 11.02 0 0 1 423.08 403.78L428.94 399.52A3.78 3.78 0 0 0 429.78 400.36Z"/><path fill="#f0c0f4" d="M432.00 397.30L428.78 399.28A3.78 3.78 0 0 1 428.32 398.18Z"/><path fill="#e0963c" d="M415.89 407.18A18.90 18.90 0 0 1 413.62 401.71L428.32 398.18A3.78 3.78 0 0 0 428.78 399.28Z"/><path fill="#37735a" d="M413.74 408.49A21.42 21.42 0 0 1 411.17 402.30L413.62 401.71A18.90 18.90 0 0 0 415.89 407.18Z"/><path fill="#f0c0f4" d="M432.00 397.30L428.27 397.89A3.78 3.78 0 0 1 428.27 396.71Z"/><path fill="#e0963c" d="M408.98 400.95A23.31 23.31 0 0 1 408.98 393.65L428.27 396.71A3.78 3.78 0 0 0 428.27 397.89Z"/><path fill="#37735a" d="M403.38 401.83A28.98 28.98 0 0 1 403.38 392.77L408.98 393.65A23.31 23.31 0 0 0 408.98 400.95Z"/><path fill="#06195c" d="M400.89 402.23A31.50 31.50 0 0 1 400.89 392.37L403.38 392.77A28.98 28.98 0 0 0 403.38 401.83Z"/><path fill="#f0c0f4" d="M432.00 397.30L429.55 396.71A2.52 2.52 0 0 1 429.85 395.98Z"/><path fill="#e0963c" d="M425.26 395.68A6.93 6.93 0 0 1 426.09 393.68L429.85 395.98A2.52 2.52 0 0 0 429.55 396.71Z"/><path fill="#37735a" d="M423.42 395.24A8.82 8.82 0 0 1 424.48 392.69L426.09 393.68A6.93 6.93 0 0 0 425.26 395.68Z"/><path fill="#06195c" d="M415.77 393.40A16.70 16.70 0 0 1 417.77 388.58L424.48 392.69A8.82 8.82 0 0 0 423.42 395.24Z"/><path fill="#f0c0f4" d="M432.00 397.30L430.73 396.37A1.58 1.58 0 0 1 431.07 396.03Z"/><path fill="#e0963c" d="M428.18 394.52A4.72 4.72 0 0 1 429.22 393.48L431.07 396.03A1.58 1.58 0 0 0 430.73 396.37Z"/><path fill="#37735a" d="M422.57 390.45A11.65 11.65 0 0 1 425.15 387.87L429.22 393.48A4.72 4.72 0 0 0 428.18 394.52Z"/><path fill="#f0c0f4" d="M432.00 397.30L431.34 396.23A1.26 1.26 0 0 1 431.71 396.07Z"/><path fill="#e0963c" d="M429.53 393.27A4.72 4.72 0 0 1 430.90 392.71L431.71 396.07A1.26 1.26 0 0 0 431.34 396.23Z"/><path fill="#37735a" d="M426.90 388.97A9.77 9.77 0 0 1 429.72 387.80L430.90 392.71A4.72 4.72 0 0 0 429.53 393.27Z"/></g><g fill="none" stroke="#c2c2c2" stroke-width="0.35"><circle cx="432.0" cy="397.3" r="6.30"/><circle cx="432.0" cy="397.3" r="12.60"/><circle cx="432.0" cy="397.3" r="18.90"/><circle cx="432.0" cy="397.3" r="25.20"/><path d="M432.0 397.3L432.00 365.80"/><path d="M432.0 397.3L454.27 375.03"/><path d="M432.0 397.3L463.50 397.30"/><path d="M432.0 397.3L454.27 419.57"/><path d="M432.0 397.3L432.00 428.80"/><path d="M432.0 397.3L409.73 419.57"/><path d="M432.0 397.3L400.50 397.30"/><path d="M432.0 397.3L409.73 375.03"/></g><circle cx="432.0" cy="397.3" r="31.5" fill="none" stroke="#2a2a2a" stroke-width="0.5"/><g class="t"><text x="444.05" y="368.10">25.1</text><text x="441.64" y="373.92">20.1</text><text x="439.23" y="379.74">15.1</text><text x="436.82" y="385.56">10.0</text><text x="434.41" y="391.38">5.0</text></g><g class="d"><text x="432.00" y="361.91">N</text><text x="457.84" y="372.61">N-E</text><text x="468.54" y="398.45">E</text><text x="457.84" y="424.29">S-E</text><text x="432.00" y="434.99">S</text><text x="406.16" y="424.29">S-W</text><text x="395.46" y="398.45">W</text><text x="406.16" y="372.61">N-W</text></g></g>
<g><g stroke="#111" stroke-width="0.3" stroke-linejoin="miter"><path fill="#e0963c" d="M42.30 476.60L42.20 475.98A0.63 0.63 0 0 1 42.40 475.98Z"/><path fill="#e0963c" d="M42.30 476.60L42.45 475.99A0.63 0.63 0 0 1 42.63 476.06Z"/><path fill="#e0963c" d="M42.30 476.60L42.67 476.09A0.63 0.63 0 0 1 42.81 476.23Z"/><path fill="#e0963c" d="M42.30 476.60L42.84 476.27A0.63 0.63 0 0 1 42.91 476.45Z"/><path fill="#e0963c" d="M42.30 476.60L43.23 476.45A0.94 0.94 0 0 1 43.23 476.75Z"/><path fill="#e0963c" d="M42.30 476.60L69.87 483.22A28.35 28.35 0 0 1 66.47 491.41Z"/><path fill="#37735a" d="M72.93 483.95A31.50 31.50 0 0 1 69.16 493.06L66.47 491.41A28.35 28.35 0 0 0 69.87 483.22Z"/><path fill="#e0963c" d="M42.30 476.60L53.77 484.93A14.18 14.18 0 0 1 50.63 488.07Z"/><path fill="#37735a" d="M57.85 487.89A19.21 19.21 0 0 1 53.59 492.15L50.63 488.07A14.18 14.18 0 0 0 53.77 484.93Z"/><path fill="#e0963c" d="M42.30 476.60L42.79 477.41A0.94 0.94 0 0 1 42.52 477.52Z"/><path fill="#e0963c" d="M42.30 476.60L42.40 477.22A0.63 0.63 0 0 1 42.20 477.22Z"/><path fill="#e0963c" d="M42.30 476.60L42.15 477.21A0.63 0.63 0 0 1 41.97 477.14Z"/><path fill="#e0963c" d="M42.30 476.60L41.93 477.11A0.63 0.63 0 0 1 41.79 476.97Z"/><path fill="#e0963c" d="M42.30 476.60L41.76 476.93A0.63 0.63 0 0 1 41.69 476.75Z"/><path fill="#e0963c" d="M42.30 476.60L41.68 476.70A0.63 0.63 0 0 1 41.68 476.50Z"/><path fill="#e0963c" d="M42.30 476.60L41.69 476.45A0.63 0.63 0 0 1 41.76 476.27Z"/><path fill="#e0963c" d="M42.30 476.60L41.79 476.23A0.63 0.63 0 0 1 41.93 476.09Z"/><path fill="#e0963c" d="M42.30 476.60L41.97 476.06A0.63 0.63 0 0 1 42.15 475.99Z"/></g><g fill="none" stroke="#c2c2c2" stroke-width="0.35"><circle cx="42.3" cy="476.6" r="6.30"/><circle cx="42.3" cy="476.6" r="12.60"/><circle cx="42.3" cy="476.6" r="18.90"/><circle cx="42.3" cy="476.6" r="25.20"/><path d="M42.3 476.6L42.30 445.10"/><path d="M42.3 476.6L64.57 454.33"/><path d="M42.3 476.6L73.80 476.60"/><path d="M42.3 476.6L64.57 498.87"/><path d="M42.3 476.6L42.30 508.10"/><path d="M42.3 476.6L20.03 498.87"/><path d="M42.3 476.6L10.80 476.60"/><path d="M42.3 476.6L20.03 454.33"/></g><circle cx="42.3" cy="476.6" r="31.5" fill="none" stroke="#2a2a2a" stroke-width="0.5"/><g class="t"><text x="54.35" y="447.40">61.3</text><text x="51.94" y="453.22">49.0</text><text x="49.53" y="459.04">36.8</text><text x="47.12" y="464.86">24.5</text><text x="44.71" y="470.68">12.3</text></g><g class="d"><text x="42.30" y="441.21">N</text><text x="68.14" y="451.91">N-E</text><text x="78.84" y="477.75">E</text><text x="68.14" y="503.59">S-E</text><text x="42.30" y="514.29">S</text><text x="16.46" y="503.59">S-W</text><text x="5.76" y="477.75">W</text><text x="16.46" y="451.91">N-W</text></g></g>
<g><g stroke="#111" stroke-width="0.3" stroke-linejoin="miter"><path fill="#e0963c" d="M119.50 476.60L119.40 475.98A0.63 0.63 0 0 1 119.60 475.98Z"/><path fill="#e0963c" d="M119.50 476.60L119.65 475.99A0.63 0.63 0 0 1 119.83 476.06Z"/><path fill="#e0963c" d="M119.50 476.60L119.87 476.09A0.63 0.63 0 0 1 120.01 476.23Z"/><path fill="#e0963c" d="M119.50 476.60L120.04 476.27A0.63 0.63 0 0 1 120.11 476.45Z"/><path fill="#e0963c" d="M119.50 476.60L120.12 476.50A0.63 0.63 0 0 1 120.12 476.70Z"/><path fill="#37735a" d="M120.74 476.40A1.26 1.26 0 0 1 120.74 476.80L120.12 476.70A0.63 0.63 0 0 0 120.12 476.50Z"/><path fill="#e0963c" d="M119.50 476.60L120.42 476.82A0.94 0.94 0 0 1 120.31 477.09Z"/><path fill="#37735a" d="M144.00 482.48A25.20 25.20 0 0 1 140.99 489.77L120.31 477.09A0.94 0.94 0 0 0 120.42 476.82Z"/><path fill="#06195c" d="M150.13 483.95A31.50 31.50 0 0 1 146.36 493.06L140.99 489.77A25.20 25.20 0 0 0 144.00 482.48Z"/><path fill="#e0963c" d="M119.50 476.60L120.01 476.97A0.63 0.63 0 0 1 119.87 477.11Z"/><path fill="#37735a" d="M123.32 479.38A4.72 4.72 0 0 1 122.28 480.42L119.87 477.11A0.63 0.63 0 0 0 120.01 476.97Z"/><path fill="#e0963c" d="M119.50 476.60L119.99 477.41A0.94 0.94 0 0 1 119.72 477.52Z"/><path fill="#e0963c" d="M119.50 476.60L119.60 477.22A0.63 0.63 0 0 1 119.40 477.22Z"/><path fill="#e0963c" d="M119.50 476.60L119.35 477.21A0.63 0.63 0 0 1 119.17 477.14Z"/><path fill="#e0963c" d="M119.50 476.60L119.13 477.11A0.63 0.63 0 0 1 118.99 476.97Z"/><path fill="#e0963c" d="M119.50 476.60L118.96 476.93A0.63 0.63 0 0 1 118.89 476.75Z"/><path fill="#e0963c" d="M119.50 476.60L118.88 476.70A0.63 0.63 0 0 1 118.88 476.50Z"/><path fill="#e0963c" d="M119.50 476.60L118.89 476.45A0.63 0.63 0 0 1 118.96 476.27Z"/><path fill="#e0963c" d="M119.50 476.60L118.99 476.23A0.63 0.63 0 0 1 119.13 476.09Z"/><path fill="#e0963c" d="M119.50 476.60L119.17 476.06A0.63 0.63 0 0 1 119.35 475.99Z"/></g><g fill="none" stroke="#c2c2c2" stroke-width="0.35"><circle cx="119.5" cy="476.6" r="6.30"/><circle cx="119.5" cy="476.6" r="12.60"/><circle cx="119.5" cy="476.6" r="18.90"/><circle cx="119.5" cy="476.6" r="25.20"/><path d="M119.5 476.6L119.50 445.10"/><path d="M119.5 476.6L141.77 454.33"/><path d="M119.5 476.6L151.00 476.60"/><path d="M119.5 476.6L141.77 498.87"/><path d="M119.5 476.6L119.50 508.10"/><path d="M119.5 476.6L97.23 498.87"/><path d="M119.5 476.6L88.00 476.60"/><path d="M119.5 476.6L97.23 454.33"/></g><circle cx="119.5" cy="476.6" r="31.5" fill="none" stroke="#2a2a2a" stroke-width="0.5"/><g class="t"><text x="131.55" y="447.40">79.9</text><text x="129.14" y="453.22">63.9</text><text x="126.73" y="459.04">47.9</text><text x="124.32" y="464.86">32.0</text><text x="121.91" y="470.68">16.0</text></g><g class="d"><text x="119.50" y="441.21">N</text><text x="145.34" y="451.91">N-E</text><text x="156.04" y="477.75">E</text><text x="145.34" y="503.59">S-E</text><text x="119.50" y="514.29">S</text><text x="93.66" y="503.59">S-W</text><text x="82.96" y="477.75">W</text><text x="93.66" y="451.91">N-W</text></g></g>
<g><g stroke="#111" stroke-width="0.3" stroke-linejoin="miter"><path fill="#e0963c" d="M196.60 476.60L196.50 475.98A0.63 0.63 0 0 1 196.70 475.98Z"/><path fill="#e0963c" d="M196.60 476.60L196.75 475.99A0.63 0.63 0 0 1 196.93 476.06Z"/><path fill="#e0963c" d="M196.60 476.60L196.97 476.09A0.63 0.63 0 0 1 197.11 476.23Z"/><path fill="#e0963c" d="M196.60 476.60L197.14 476.27A0.63 0.63 0 0 1 197.21 476.45Z"/><path fill="#e0963c" d="M196.60 476.60L197.22 476.50A0.63 0.63 0 0 1 197.22 476.70Z"/><path fill="#37735a" d="M199.09 476.21A2.52 2.52 0 0 1 199.09 476.99L197.22 476.70A0.63 0.63 0 0 0 197.22 476.50Z"/><path fill="#e0963c" d="M196.60 476.60L198.13 476.97A1.58 1.58 0 0 1 197.94 477.42Z"/><path fill="#e0963c" d="M196.60 476.60L222.08 495.12A31.50 31.50 0 0 1 215.12 502.08Z"/><path fill="#e0963c" d="M196.60 476.60L203.35 487.61A12.91 12.91 0 0 1 199.61 489.16Z"/><path fill="#e0963c" d="M196.60 476.60L196.75 477.53A0.94 0.94 0 0 1 196.45 477.53Z"/><path fill="#e0963c" d="M196.60 476.60L196.45 477.21A0.63 0.63 0 0 1 196.27 477.14Z"/><path fill="#e0963c" d="M196.60 476.60L196.23 477.11A0.63 0.63 0 0 1 196.09 476.97Z"/><path fill="#e0963c" d="M196.60 476.60L196.06 476.93A0.63 0.63 0 0 1 195.99 476.75Z"/><path fill="#e0963c" d="M196.60 476.60L195.98 476.70A0.63 0.63 0 0 1 195.98 476.50Z"/><path fill="#e0963c" d="M196.60 476.60L195.99 476.45A0.63 0.63 0 0 1 196.06 476.27Z"/><path fill="#e0963c" d="M196.60 476.60L196.09 476.23A0.63 0.63 0 0 1 196.23 476.09Z"/><path fill="#e0963c" d="M196.60 476.60L196.27 476.06A0.63 0.63 0 0 1 196.45 475.99Z"/></g><g fill="none" stroke="#c2c2c2" stroke-width="0.35"><circle cx="196.6" cy="476.6" r="6.30"/><circle cx="196.6" cy="476.6" r="12.60"/><circle cx="196.6" cy="476.6" r="18.90"/><circle cx="196.6" cy="476.6" r="25.20"/><path d="M196.6 476.6L196.60 445.10"/><path d="M196.6 476.6L218.87 454.33"/><path d="M196.6 476.6L228.10 476.60"/><path d="M196.6 476.6L218.87 498.87"/><path d="M196.6 476.6L196.60 508.10"/><path d="M196.6 476.6L174.33 498.87"/><path d="M196.6 476.6L165.10 476.60"/><path d="M196.6 476.6L174.33 454.33"/></g><circle cx="196.6" cy="476.6" r="31.5" fill="none" stroke="#2a2a2a" stroke-width="0.5"/><g class="t"><text x="208.65" y="447.40">58.1</text><text x="206.24" y="453.22">46.5</text><text x="203.83" y="459.04">34.9</text><text x="201.42" y="464.86">23.2</text><text x="199.01" y="470.68">11.6</text></g><g class="d"><text x="196.60" y="441.21">N</text><text x="222.44" y="451.91">N-E</text><text x="233.14" y="477.75">E</text><text x="222.44" y="503.59">S-E</text><text x="196.60" y="514.29">S</text><text x="170.76" y="503.59">S-W</text><text x="160.06" y="477.75">W</text><text x="170.76" y="451.91">N-W</text></g></g>
<g><g stroke="#111" stroke-width="0.3" stroke-linejoin="miter"><path fill="#e0963c" d="M277.90 476.60L277.80 475.98A0.63 0.63 0 0 1 278.00 475.98Z"/><path fill="#e0963c" d="M277.90 476.60L278.05 475.99A0.63 0.63 0 0 1 278.23 476.06Z"/><path fill="#e0963c" d="M277.90 476.60L278.27 476.09A0.63 0.63 0 0 1 278.41 476.23Z"/><path fill="#e0963c" d="M277.90 476.60L278.44 476.27A0.63 0.63 0 0 1 278.51 476.45Z"/><path fill="#e0963c" d="M277.90 476.60L278.52 476.50A0.63 0.63 0 0 1 278.52 476.70Z"/><path fill="#e0963c" d="M277.90 476.60L278.51 476.75A0.63 0.63 0 0 1 278.44 476.93Z"/><path fill="#e0963c" d="M277.90 476.60L278.41 476.97A0.63 0.63 0 0 1 278.27 477.11Z"/><path fill="#e0963c" d="M277.90 476.60L278.23 477.14A0.63 0.63 0 0 1 278.05 477.21Z"/><path fill="#e0963c" d="M277.90 476.60L278.00 477.22A0.63 0.63 0 0 1 277.80 477.22Z"/><path fill="#e0963c" d="M277.90 476.60L277.61 477.83A1.26 1.26 0 0 1 277.24 477.67Z"/><path fill="#e0963c" d="M277.90 476.60L272.53 483.99A9.13 9.13 0 0 1 270.51 481.97Z"/><path fill="#f0c0f4" d="M277.90 476.60L277.09 477.09A0.94 0.94 0 0 1 276.98 476.82Z"/><path fill="#e0963c" d="M256.95 489.44A24.57 24.57 0 0 1 254.01 482.34L276.98 476.82A0.94 0.94 0 0 0 277.09 477.09Z"/><path fill="#37735a" d="M251.04 493.06A31.50 31.50 0 0 1 247.27 483.95L254.01 482.34A24.57 24.57 0 0 0 256.95 489.44Z"/><path fill="#f0c0f4" d="M277.90 476.60L276.97 476.75A0.94 0.94 0 0 1 276.97 476.45Z"/><path fill="#e0963c" d="M266.08 478.47A11.97 11.97 0 0 1 266.08 474.73L276.97 476.45A0.94 0.94 0 0 0 276.97 476.75Z"/><path fill="#37735a" d="M263.59 478.87A14.49 14.49 0 0 1 263.59 474.33L266.08 474.73A11.97 11.97 0 0 0 266.08 478.47Z"/><path fill="#e0963c" d="M277.90 476.60L274.84 475.86A3.15 3.15 0 0 1 275.21 474.95Z"/><path fill="#e0963c" d="M277.90 476.60L276.63 475.67A1.58 1.58 0 0 1 276.97 475.33Z"/><path fill="#e0963c" d="M277.90 476.60L277.57 476.06A0.63 0.63 0 0 1 277.75 475.99Z"/></g><g fill="none" stroke="#c2c2c2" stroke-width="0.35"><circle cx="277.9" cy="476.6" r="6.30"/><circle cx="277.9" cy="476.6" r="12.60"/><circle cx="277.9" cy="476.6" r="18.90"/><circle cx="277.9" cy="476.6" r="25.20"/><path d="M277.9 476.6L277.90 445.10"/><path d="M277.9 476.6L300.17 454.33"/><path d="M277.9 476.6L309.40 476.60"/><path d="M277.9 476.6L300.17 498.87"/><path d="M277.9 476.6L277.90 508.10"/><path d="M277.9 476.6L255.63 498.87"/><path d="M277.9 476.6L246.40 476.60"/><path d="M277.9 476.6L255.63 454.33"/></g><circle cx="277.9" cy="476.6" r="31.5" fill="none" stroke="#2a2a2a" stroke-width="0.5"/><g class="t"><text x="289.95" y="447.40">45.4</text><text x="287.54" y="453.22">36.3</text><text x="285.13" y="459.04">27.2</text><text x="282.72" y="464.86">18.2</text><text x="280.31" y="470.68">9.1</text></g><g class="d"><text x="277.90" y="441.21">N</text><text x="303.74" y="451.91">N-E</text><text x="314.44" y="477.75">E</text><text x="303.74" y="503.59">S-E</text><text x="277.90" y="514.29">S</text><text x="252.06" y="503.59">S-W</text><text x="241.36" y="477.75">W</text><text x="252.06" y="451.91">N-W</text></g></g>
<g><g stroke="#111" stroke-width="0.3" stroke-linejoin="miter"><path fill="#e0963c" d="M355.00 476.60L354.90 475.98A0.63 0.63 0 0 1 355.10 475.98Z"/><path fill="#e0963c" d="M355.00 476.60L355.15 475.99A0.63 0.63 0 0 1 355.33 476.06Z"/><path fill="#e0963c" d="M355.00 476.60L355.37 476.09A0.63 0.63 0 0 1 355.51 476.23Z"/><path fill="#e0963c" d="M355.00 476.60L355.54 476.27A0.63 0.63 0 0 1 355.61 476.45Z"/><path fill="#e0963c" d="M355.00 476.60L355.62 476.50A0.63 0.63 0 0 1 355.62 476.70Z"/><path fill="#e0963c" d="M355.00 476.60L355.61 476.75A0.63 0.63 0 0 1 355.54 476.93Z"/><path fill="#e0963c" d="M355.00 476.60L355.51 476.97A0.63 0.63 0 0 1 355.37 477.11Z"/><path fill="#e0963c" d="M355.00 476.60L355.33 477.14A0.63 0.63 0 0 1 355.15 477.21Z"/><path fill="#e0963c" d="M355.00 476.60L355.10 477.22A0.63 0.63 0 0 1 354.90 477.22Z"/><path fill="#e0963c" d="M355.00 476.60L354.71 477.83A1.26 1.26 0 0 1 354.34 477.67Z"/><path fill="#e0963c" d="M355.00 476.60L352.22 480.42A4.72 4.72 0 0 1 351.18 479.38Z"/><path fill="#37735a" d="M348.33 485.77A11.34 11.34 0 0 1 345.83 483.27L351.18 479.38A4.72 4.72 0 0 0 352.22 480.42Z"/><path fill="#e0963c" d="M355.00 476.60L341.57 484.83A15.75 15.75 0 0 1 339.69 480.28Z"/><path fill="#37735a" d="M328.14 493.06A31.50 31.50 0 0 1 324.37 483.95L339.69 480.28A15.75 15.75 0 0 0 341.57 484.83Z"/><path fill="#e0963c" d="M355.00 476.60L351.89 477.09A3.15 3.15 0 0 1 351.89 476.11Z"/><path fill="#37735a" d="M348.78 477.59A6.30 6.30 0 0 1 348.78 475.61L351.89 476.11A3.15 3.15 0 0 0 351.89 477.09Z"/><path fill="#e0963c" d="M355.00 476.60L353.47 476.23A1.58 1.58 0 0 1 353.66 475.78Z"/><path fill="#e0963c" d="M355.00 476.60L354.49 476.23A0.63 0.63 0 0 1 354.63 476.09Z"/><path fill="#e0963c" d="M355.00 476.60L354.67 476.06A0.63 0.63 0 0 1 354.85 475.99Z"/></g><g fill="none" stroke="#c2c2c2" stroke-width="0.35"><circle cx="355.0" cy="476.6" r="6.30"/><circle cx="355.0" cy="476.6" r="12.60"/><circle cx="355.0" cy="476.6" r="18.90"/><circle cx="355.0" cy="476.6" r="25.20"/><path d="M355.0 476.6L355.00 445.10"/><path d="M355.0 476.6L377.27 454.33"/><path d="M355.0 476.6L386.50 476.60"/><path d="M355.0 476.6L377.27 498.87"/><path d="M355.0 476.6L355.00 508.10"/><path d="M355.0 476.6L332.73 498.87"/><path d="M355.0 476.6L323.50 476.60"/><path d="M355.0 476.6L332.73 454.33"/></g><circle cx="355.0" cy="476.6" r="31.5" fill="none" stroke="#2a2a2a" stroke-width="0.5"/><g class="t"><text x="367.05" y="447.40">54.9</text><text x="364.64" y="453.22">43.9</text><text x="362.23" y="459.04">32.9</text><text x="359.82" y="464.86">22.0</text><text x="357.41" y="470.68">11.0</text></g><g class="d"><text x="355.00" y="441.21">N</text><text x="380.84" y="451.91">N-E</text><text x="391.54" y="477.75">E</text><text x="380.84" y="503.59">S-E</text><text x="355.00" y="514.29">S</text><text x="329.16" y="503.59">S-W</text><text x="318.46" y="477.75">W</text><text x="329.16" y="451.91">N-W</text></g></g>
<g><g stroke="#111" stroke-width="0.3" stroke-linejoin="miter"><path fill="#e0963c" d="M432.00 476.60L431.90 475.98A0.63 0.63 0 0 1 432.10 475.98Z"/><path fill="#e0963c" d="M432.00 476.60L432.15 475.99A0.63 0.63 0 0 1 432.33 476.06Z"/><path fill="#e0963c" d="M432.00 476.60L432.37 476.09A0.63 0.63 0 0 1 432.51 476.23Z"/><path fill="#e0963c" d="M432.00 476.60L432.54 476.27A0.63 0.63 0 0 1 432.61 476.45Z"/><path fill="#e0963c" d="M432.00 476.60L432.62 476.50A0.63 0.63 0 0 1 432.62 476.70Z"/><path fill="#e0963c" d="M432.00 476.60L432.61 476.75A0.63 0.63 0 0 1 432.54 476.93Z"/><path fill="#e0963c" d="M432.00 476.60L432.51 476.97A0.63 0.63 0 0 1 432.37 477.11Z"/><path fill="#e0963c" d="M432.00 476.60L432.33 477.14A0.63 0.63 0 0 1 432.15 477.21Z"/><path fill="#e0963c" d="M432.00 476.60L432.10 477.22A0.63 0.63 0 0 1 431.90 477.22Z"/><path fill="#e0963c" d="M432.00 476.60L431.71 477.83A1.26 1.26 0 0 1 431.34 477.67Z"/><path fill="#f0c0f4" d="M432.00 476.60L431.26 477.62A1.26 1.26 0 0 1 430.98 477.34Z"/><path fill="#e0963c" d="M420.15 492.91A20.16 20.16 0 0 1 415.69 488.45L430.98 477.34A1.26 1.26 0 0 0 431.26 477.62Z"/><path fill="#37735a" d="M419.04 494.44A22.05 22.05 0 0 1 414.16 489.56L415.69 488.45A20.16 20.16 0 0 0 420.15 492.91Z"/><path fill="#f0c0f4" d="M432.00 476.60L430.39 477.59A1.89 1.89 0 0 1 430.16 477.04Z"/><path fill="#e0963c" d="M407.56 491.58A28.67 28.67 0 0 1 404.13 483.29L430.16 477.04A1.89 1.89 0 0 0 430.39 477.59Z"/><path fill="#37735a" d="M405.14 493.06A31.50 31.50 0 0 1 401.37 483.95L404.13 483.29A28.67 28.67 0 0 0 407.56 491.58Z"/><path fill="#f0c0f4" d="M432.00 476.60L430.13 476.90A1.89 1.89 0 0 1 430.13 476.30Z"/><path fill="#e0963c" d="M417.69 478.87A14.49 14.49 0 0 1 417.69 474.33L430.13 476.30A1.89 1.89 0 0 0 430.13 476.90Z"/><path fill="#37735a" d="M407.73 480.44A24.57 24.57 0 0 1 407.73 472.76L417.69 474.33A14.49 14.49 0 0 0 417.69 478.87Z"/><path fill="#f0c0f4" d="M432.00 476.60L430.77 476.31A1.26 1.26 0 0 1 430.93 475.94Z"/><path fill="#e0963c" d="M425.57 475.06A6.61 6.61 0 0 1 426.36 473.14L430.93 475.94A1.26 1.26 0 0 0 430.77 476.31Z"/><path fill="#37735a" d="M423.42 474.54A8.82 8.82 0 0 1 424.48 471.99L426.36 473.14A6.61 6.61 0 0 0 425.57 475.06Z"/><path fill="#e0963c" d="M432.00 476.60L430.98 475.86A1.26 1.26 0 0 1 431.26 475.58Z"/><path fill="#e0963c" d="M432.00 476.60L431.67 476.06A0.63 0.63 0 0 1 431.85 475.99Z"/></g><g fill="none" stroke="#c2c2c2" stroke-width="0.35"><circle cx="432.0" cy="476.6" r="6.30"/><circle cx="432.0" cy="476.6" r="12.60"/><circle cx="432.0" cy="476.6" r="18.90"/><circle cx="432.0" cy="476.6" r="25.20"/><path d="M432.0 476.6L432.00 445.10"/><path d="M432.0 476.6L454.27 454.33"/><path d="M432.0 476.6L463.50 476.60"/><path d="M432.0 476.6L454.27 498.87"/><path d="M432.0 476.6L432.00 508.10"/><path d="M432.0 476.6L409.73 498.87"/><path d="M432.0 476.6L400.50 476.60"/><path d="M432.0 476.6L409.73 454.33"/></g><circle cx="432.0" cy="476.6" r="31.5" fill="none" stroke="#2a2a2a" stroke-width="0.5"/><g class="t"><text x="444.05" y="447.40">35.3</text><text x="441.64" y="453.22">28.2</text><text x="439.23" y="459.04">21.2</text><text x="436.82" y="464.86">14.1</text><text x="434.41" y="470.68">7.1</text></g><g class="d"><text x="432.00" y="441.21">N</text><text x="457.84" y="451.91">N-E</text><text x="468.54" y="477.75">E</text><text x="457.84" y="503.59">S-E</text><text x="432.00" y="514.29">S</text><text x="406.16" y="503.59">S-W</text><text x="395.46" y="477.75">W</text><text x="406.16" y="451.91">N-W</text></g></g>
<g><rect x="469.6" y="68.80" width="25.4" height="23.2" rx="1" fill="#fff" stroke="#ccc" stroke-width="0.4"/>
<text class="l" x="482.00" y="72.50" text-anchor="middle">Trajectory (km)</text>
<rect x="471.20" y="74.40" width="6.6" height="2.4" fill="#f0c0f4" stroke="#111" stroke-width="0.3"/>
<text class="l" x="480.00" y="76.55">&lt;300</text>
<rect x="471.20" y="78.95" width="6.6" height="2.4" fill="#e0963c" stroke="#111" stroke-width="0.3"/>
<text class="l" x="480.00" y="81.10">300-600</text>
<rect x="471.20" y="83.50" width="6.6" height="2.4" fill="#37735a" stroke="#111" stroke-width="0.3"/>
<text class="l" x="480.00" y="85.65">600-900</text>
<rect x="471.20" y="88.05" width="6.6" height="2.4" fill="#06195c" stroke="#111" stroke-width="0.3"/>
<text class="l" x="480.00" y="90.20">&gt;900</text>
</g>
<g><rect x="469.6" y="147.70" width="25.4" height="23.2" rx="1" fill="#fff" stroke="#ccc" stroke-width="0.4"/>
<text class="l" x="482.00" y="151.40" text-anchor="middle">Trajectory (km)</text>
<rect x="471.20" y="153.30" width="6.6" height="2.4" fill="#f0c0f4" stroke="#111" stroke-width="0.3"/>
<text class="l" x="480.00" y="155.45">&lt;300</text>
<rect x="471.20" y="157.85" width="6.6" height="2.4" fill="#e0963c" stroke="#111" stroke-width="0.3"/>
<text class="l" x="480.00" y="160.00">300-600</text>
<rect x="471.20" y="162.40" width="6.6" height="2.4" fill="#37735a" stroke="#111" stroke-width="0.3"/>
<text class="l" x="480.00" y="164.55">600-900</text>
<rect x="471.20" y="166.95" width="6.6" height="2.4" fill="#06195c" stroke="#111" stroke-width="0.3"/>
<text class="l" x="480.00" y="169.10">&gt;900</text>
</g>
<g><rect x="469.6" y="227.10" width="25.4" height="23.2" rx="1" fill="#fff" stroke="#ccc" stroke-width="0.4"/>
<text class="l" x="482.00" y="230.80" text-anchor="middle">Trajectory (km)</text>
<rect x="471.20" y="232.70" width="6.6" height="2.4" fill="#f0c0f4" stroke="#111" stroke-width="0.3"/>
<text class="l" x="480.00" y="234.85">&lt;300</text>
<rect x="471.20" y="237.25" width="6.6" height="2.4" fill="#e0963c" stroke="#111" stroke-width="0.3"/>
<text class="l" x="480.00" y="239.40">300-600</text>
<rect x="471.20" y="241.80" width="6.6" height="2.4" fill="#37735a" stroke="#111" stroke-width="0.3"/>
<text class="l" x="480.00" y="243.95">600-900</text>
<rect x="471.20" y="246.35" width="6.6" height="2.4" fill="#06195c" stroke="#111" stroke-width="0.3"/>
<text class="l" x="480.00" y="248.50">&gt;900</text>
</g>
<g><rect x="469.6" y="306.50" width="25.4" height="23.2" rx="1" fill="#fff" stroke="#ccc" stroke-width="0.4"/>
<text class="l" x="482.00" y="310.20" text-anchor="middle">Trajectory (km)</text>
<rect x="471.20" y="312.10" width="6.6" height="2.4" fill="#f0c0f4" stroke="#111" stroke-width="0.3"/>
<text class="l" x="480.00" y="314.25">&lt;300</text>
<rect x="471.20" y="316.65" width="6.6" height="2.4" fill="#e0963c" stroke="#111" stroke-width="0.3"/>
<text class="l" x="480.00" y="318.80">300-600</text>
<rect x="471.20" y="321.20" width="6.6" height="2.4" fill="#37735a" stroke="#111" stroke-width="0.3"/>
<text class="l" x="480.00" y="323.35">600-900</text>
<rect x="471.20" y="325.75" width="6.6" height="2.4" fill="#06195c" stroke="#111" stroke-width="0.3"/>
<text class="l" x="480.00" y="327.90">&gt;900</text>
</g>
<g><rect x="469.6" y="385.80" width="25.4" height="23.2" rx="1" fill="#fff" stroke="#ccc" stroke-width="0.4"/>
<text class="l" x="482.00" y="389.50" text-anchor="middle">Trajectory (km)</text>
<rect x="471.20" y="391.40" width="6.6" height="2.4" fill="#f0c0f4" stroke="#111" stroke-width="0.3"/>
<text class="l" x="480.00" y="393.55">&lt;300</text>
<rect x="471.20" y="395.95" width="6.6" height="2.4" fill="#e0963c" stroke="#111" stroke-width="0.3"/>
<text class="l" x="480.00" y="398.10">300-600</text>
<rect x="471.20" y="400.50" width="6.6" height="2.4" fill="#37735a" stroke="#111" stroke-width="0.3"/>
<text class="l" x="480.00" y="402.65">600-900</text>
<rect x="471.20" y="405.05" width="6.6" height="2.4" fill="#06195c" stroke="#111" stroke-width="0.3"/>
<text class="l" x="480.00" y="407.20">&gt;900</text>
</g>
<g><rect x="469.6" y="465.10" width="25.4" height="23.2" rx="1" fill="#fff" stroke="#ccc" stroke-width="0.4"/>
<text class="l" x="482.00" y="468.80" text-anchor="middle">Trajectory (km)</text>
<rect x="471.20" y="470.70" width="6.6" height="2.4" fill="#f0c0f4" stroke="#111" stroke-width="0.3"/>
<text class="l" x="480.00" y="472.85">&lt;300</text>
<rect x="471.20" y="475.25" width="6.6" height="2.4" fill="#e0963c" stroke="#111" stroke-width="0.3"/>
<text class="l" x="480.00" y="477.40">300-600</text>
<rect x="471.20" y="479.80" width="6.6" height="2.4" fill="#37735a" stroke="#111" stroke-width="0.3"/>
<text class="l" x="480.00" y="481.95">600-900</text>
<rect x="471.20" y="484.35" width="6.6" height="2.4" fill="#06195c" stroke="#111" stroke-width="0.3"/>
<text class="l" x="480.00" y="486.50">&gt;900</text>
</g>
<text class="h1" x="8" y="15.5">ArS</text>
<text class="h2" x="42.3" y="35.8" text-anchor="middle">IndOc.HR</text>
<text class="h2" x="119.5" y="35.8" text-anchor="middle">IndOc.HR-Sto</text>
<text class="h2" x="196.6" y="35.8" text-anchor="middle">IndOc.12</text>
<text class="h2" x="277.9" y="35.8" text-anchor="middle">IndOc.HR</text>
<text class="h2" x="355.0" y="35.8" text-anchor="middle">IndOc.HR-Sto</text>
<text class="h2" x="432.0" y="35.8" text-anchor="middle">IndOc.12</text>
<text class="m" x="5.2" y="120.8">January</text>
<text class="m" x="494.6" y="117.3" text-anchor="end">July</text>
<text class="m" x="5.2" y="199.6">February</text>
<text class="m" x="494.6" y="196.4" text-anchor="end">August</text>
<text class="m" x="5.2" y="278.3">March</text>
<text class="m" x="494.6" y="278.2" text-anchor="end">September</text>
<text class="m" x="5.2" y="357.8">April</text>
<text class="m" x="494.6" y="358.0" text-anchor="end">October</text>
<text class="m" x="5.2" y="436.6">May</text>
<text class="m" x="494.6" y="437.0" text-anchor="end">November</text>
<text class="m" x="5.2" y="516.2">June</text>
<text class="m" x="494.6" y="513.7" text-anchor="end">December</text>
</svg>
</body></html>
